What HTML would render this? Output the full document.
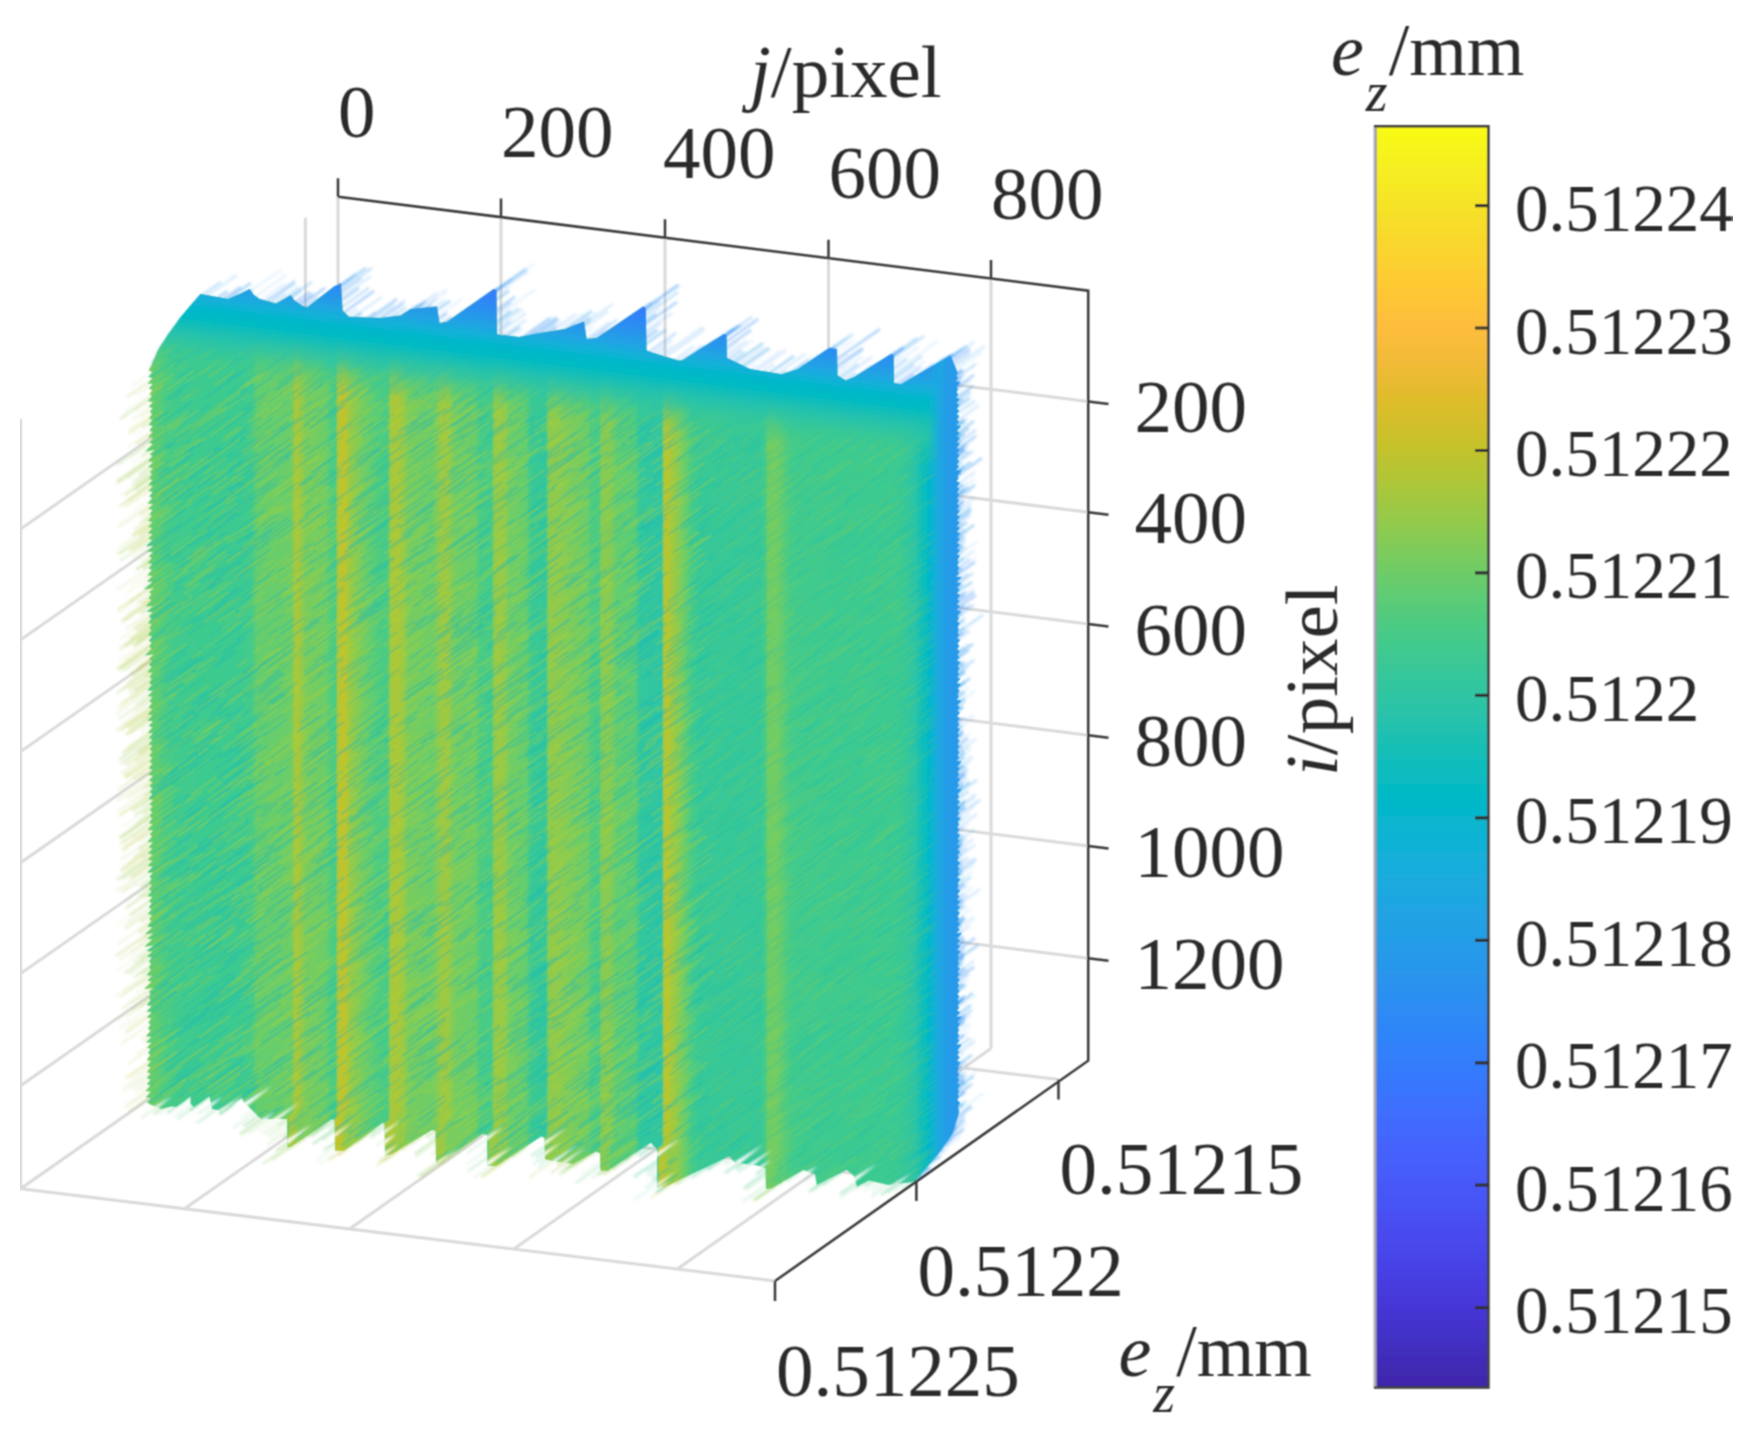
<!DOCTYPE html><html><head><meta charset="utf-8"><title>ez surface</title><style>html,body{margin:0;padding:0;background:#fff}svg{display:block}</style></head><body><svg width="1746" height="1430" viewBox="0 0 1746 1430"><defs><linearGradient id="cb" x1="0" y1="0" x2="0" y2="1"><stop offset="0.0000" stop-color="#f9fb15"/><stop offset="0.0312" stop-color="#f6ef20"/><stop offset="0.0625" stop-color="#f5e327"/><stop offset="0.0938" stop-color="#f9d62d"/><stop offset="0.1250" stop-color="#feca33"/><stop offset="0.1562" stop-color="#febe3c"/><stop offset="0.1875" stop-color="#f1ba37"/><stop offset="0.2188" stop-color="#debc2a"/><stop offset="0.2500" stop-color="#c8c129"/><stop offset="0.2812" stop-color="#afc637"/><stop offset="0.3125" stop-color="#94ca4a"/><stop offset="0.3438" stop-color="#77cc60"/><stop offset="0.3750" stop-color="#5ccc76"/><stop offset="0.4062" stop-color="#44ca8a"/><stop offset="0.4375" stop-color="#34c79c"/><stop offset="0.4688" stop-color="#28c2ab"/><stop offset="0.5000" stop-color="#12beb9"/><stop offset="0.5312" stop-color="#01b9c6"/><stop offset="0.5625" stop-color="#0cb3d3"/><stop offset="0.5938" stop-color="#1aacdd"/><stop offset="0.6250" stop-color="#21a3e3"/><stop offset="0.6562" stop-color="#269ae9"/><stop offset="0.6875" stop-color="#2c90f0"/><stop offset="0.7188" stop-color="#2e85f8"/><stop offset="0.7500" stop-color="#347afd"/><stop offset="0.7812" stop-color="#3f6efe"/><stop offset="0.8125" stop-color="#4562fc"/><stop offset="0.8438" stop-color="#4757f7"/><stop offset="0.8750" stop-color="#484cef"/><stop offset="0.9062" stop-color="#4741e5"/><stop offset="0.9375" stop-color="#4536d5"/><stop offset="0.9688" stop-color="#422ebf"/><stop offset="1.0000" stop-color="#3e26a8"/></linearGradient><clipPath id="sc"><polygon points="151.0,366.0 158.0,350.0 167.0,336.0 180.0,318.0 190.0,306.0 200.5,294.0 228.0,299.0 240.8,293.5 249.6,289.0 254.0,295.0 259.7,299.0 276.0,303.5 291.0,295.0 294.0,300.0 302.5,306.0 307.6,307.0 334.0,286.5 341.0,283.0 342.6,310.4 349.0,316.7 380.4,318.0 400.6,315.4 410.6,309.0 437.0,306.6 439.6,323.0 447.0,321.7 493.8,289.0 496.5,290.0 497.0,334.3 519.0,336.9 540.0,333.0 565.0,329.0 584.0,321.6 586.6,339.0 596.7,338.0 643.3,306.5 645.8,308.0 646.5,350.6 653.4,353.0 678.6,360.6 682.0,360.6 724.0,334.0 726.5,335.0 727.0,358.0 750.0,369.0 760.0,370.7 781.5,374.3 798.0,369.0 829.4,347.8 837.0,349.0 837.5,375.5 845.8,380.6 854.6,376.8 891.0,354.0 893.6,355.0 894.0,383.0 901.0,384.3 950.4,355.4 956.6,370.5 956.0,370.5 957.7,372.5 956.0,376.0 958.0,377.8 955.2,381.5 960.0,382.1 956.5,387.0 957.6,389.2 956.4,392.5 958.2,394.5 955.9,398.0 959.5,399.1 956.1,403.5 959.3,404.8 956.4,409.0 959.1,410.5 956.5,414.5 959.2,416.0 956.7,420.0 959.1,421.7 955.8,425.6 960.8,426.1 956.5,431.2 959.5,432.6 956.4,436.8 959.7,438.1 956.5,442.4 959.7,443.7 956.6,448.0 959.5,449.5 956.6,453.6 959.5,455.1 956.9,459.2 959.0,461.0 956.8,464.8 959.0,466.6 955.6,470.4 961.5,470.5 957.1,476.0 958.5,478.1 956.4,481.6 960.0,482.8 956.7,487.2 959.4,488.8 956.8,492.8 959.2,494.5 957.0,498.4 958.9,500.3 956.8,504.0 959.4,505.6 956.7,509.6 959.5,511.1 956.6,515.2 959.8,516.5 956.8,520.8 959.5,522.3 956.6,526.4 959.9,527.7 956.6,532.0 959.9,533.3 956.8,537.6 959.6,539.1 956.7,543.2 959.8,544.5 956.7,548.8 959.9,550.1 956.7,554.4 959.9,555.7 957.3,560.0 958.6,562.2 957.1,565.6 959.2,567.4 957.2,571.2 959.0,573.2 955.8,576.8 961.7,576.9 956.2,582.4 960.9,583.0 956.8,588.0 959.7,589.5 956.7,593.6 960.0,594.9 957.0,599.2 959.4,600.9 956.7,604.8 960.1,606.1 956.3,610.4 960.9,611.1 957.3,616.0 958.9,618.1 957.0,621.6 959.6,623.2 957.5,627.2 958.7,629.5 957.3,632.8 959.1,634.7 956.8,638.4 960.1,639.7 957.2,644.0 959.4,645.8 957.0,649.6 959.7,651.2 957.1,655.2 959.6,656.9 956.8,660.8 960.2,662.0 957.2,666.4 959.4,668.2 957.4,672.0 959.1,674.0 956.8,677.6 960.3,678.8 956.5,683.2 960.9,684.0 957.3,688.8 959.4,690.6 957.6,694.4 958.7,696.7 956.4,700.0 961.2,700.6 957.1,705.6 959.8,707.1 957.1,711.1 959.9,712.6 957.0,716.7 959.9,718.1 957.3,722.2 959.4,724.1 957.1,727.8 959.9,729.3 957.4,733.3 959.1,735.3 957.1,738.9 959.7,740.5 957.3,744.4 959.3,746.3 957.3,750.0 959.3,751.9 957.4,755.6 959.2,757.5 956.2,761.1 961.6,761.4 957.2,766.7 959.7,768.3 957.4,772.2 959.2,774.1 957.0,777.8 960.1,779.1 957.5,783.3 959.0,785.4 956.3,788.9 961.4,789.3 957.4,794.4 959.3,796.4 956.9,800.0 960.1,801.3 956.9,805.6 960.2,806.9 957.4,811.1 959.3,813.0 956.9,816.7 960.2,817.9 957.5,822.2 959.1,824.2 957.2,827.8 959.6,829.4 957.0,833.3 960.1,834.7 957.5,838.9 959.0,841.0 957.0,844.4 960.1,845.8 957.0,850.0 960.1,851.4 957.5,855.6 958.9,857.7 957.0,861.1 960.1,862.5 957.3,866.7 959.3,868.5 957.3,872.2 959.4,874.0 956.9,877.8 960.3,879.0 957.6,883.3 958.7,885.6 956.9,888.9 960.2,890.2 957.3,894.4 959.4,896.2 956.9,900.0 960.3,901.2 957.0,905.6 960.0,907.0 957.1,911.1 959.8,912.6 957.4,916.7 959.2,918.6 957.0,922.2 960.0,923.6 957.1,927.8 959.7,929.4 956.1,933.3 961.7,933.5 956.9,938.9 960.2,940.1 956.9,944.4 960.3,945.7 956.9,950.0 960.2,951.2 957.6,955.6 958.7,957.8 957.5,961.1 959.0,963.2 957.1,966.7 959.8,968.2 957.3,972.2 959.4,974.0 957.1,977.8 959.7,979.4 957.4,983.3 959.1,985.3 957.2,988.9 959.5,990.6 957.3,994.4 959.3,996.3 957.2,1000.0 959.6,1001.7 957.5,1005.6 959.0,1007.6 956.9,1011.1 960.3,1012.3 956.1,1016.7 961.8,1016.8 957.1,1022.2 959.8,1023.8 957.6,1027.8 958.8,1030.0 957.4,1033.3 959.2,1035.3 957.3,1038.9 959.4,1040.7 956.2,1044.4 961.6,1044.7 957.6,1050.0 958.8,1052.2 957.2,1055.6 959.7,1057.2 956.8,1061.1 960.4,1062.3 957.6,1066.7 958.9,1068.8 957.4,1072.2 959.3,1074.1 957.3,1077.8 959.3,1079.7 957.1,1083.3 959.7,1084.9 957.5,1088.9 959.0,1091.0 957.5,1094.4 958.9,1096.6 957.0,1100.0 959.9,1102.4 957.7,1107.5 959.0,1110.7 958.3,1115.0 952.3,1134.0 937.4,1155.0 915.0,1181.0 912.0,1182.0 888.3,1185.0 869.0,1180.4 857.0,1186.4 854.0,1176.0 846.6,1170.0 816.8,1185.0 815.0,1174.5 803.4,1170.0 772.0,1188.0 766.0,1189.0 765.5,1168.0 757.0,1165.5 735.0,1162.5 729.0,1156.6 662.4,1188.0 657.3,1188.0 657.0,1150.0 651.0,1142.8 608.0,1170.6 600.6,1170.6 600.0,1153.0 595.6,1151.7 573.0,1164.0 549.0,1160.0 545.0,1159.0 544.5,1138.0 541.4,1136.5 496.4,1165.7 487.6,1165.7 487.0,1135.0 482.5,1134.0 441.0,1162.0 436.0,1163.0 435.5,1131.0 432.0,1130.0 391.8,1154.0 385.0,1155.6 384.5,1124.0 383.0,1122.8 344.0,1150.6 335.0,1150.6 334.5,1120.0 331.6,1119.2 290.0,1147.0 287.5,1147.0 287.0,1119.0 285.0,1119.0 261.0,1119.0 252.0,1110.0 243.4,1101.6 242.0,1097.8 226.0,1109.5 220.7,1110.4 212.0,1109.0 209.4,1096.5 194.0,1107.0 190.5,1104.0 190.5,1096.5 176.0,1107.0 171.6,1106.6 161.5,1109.0 149.0,1104.0 150.1,1104.0 146.8,1102.5 150.8,1097.9 145.7,1097.2 150.8,1091.8 145.7,1091.1 150.4,1085.6 146.8,1084.2 150.5,1079.5 146.6,1078.3 150.5,1073.4 146.9,1072.0 150.6,1067.3 146.9,1065.9 150.8,1061.2 146.7,1060.0 150.2,1055.1 148.1,1053.0 150.7,1048.9 147.1,1047.5 151.5,1042.8 145.8,1042.4 151.5,1036.7 145.9,1036.2 150.7,1030.6 147.8,1028.9 150.5,1024.5 148.2,1022.5 151.4,1018.4 146.8,1017.4 151.6,1012.2 146.5,1011.5 151.6,1006.1 146.7,1005.3 150.7,1000.0 148.5,998.0 150.7,993.9 148.8,991.7 153.1,987.9 144.0,989.0 151.4,981.8 147.5,980.6 152.0,975.8 146.5,975.2 150.9,969.7 149.0,967.5 151.0,963.6 148.7,961.7 151.9,957.6 147.2,956.7 152.3,951.5 146.5,951.1 153.5,945.5 144.2,946.7 152.1,939.4 147.1,938.7 153.4,933.3 144.7,934.3 152.2,927.3 147.2,926.5 151.3,921.2 149.2,919.1 152.0,915.2 147.9,914.0 151.6,909.1 148.8,907.4 151.7,903.0 148.8,901.3 152.4,897.0 147.5,896.2 151.9,890.9 148.6,889.4 152.0,884.8 148.7,883.3 151.6,878.8 149.5,876.7 152.9,872.7 147.0,872.4 152.6,866.7 147.7,865.9 152.6,860.6 147.9,859.7 152.6,854.5 148.0,853.6 152.4,848.5 148.6,847.2 153.0,842.4 147.5,841.9 152.0,836.4 149.8,834.3 153.2,830.3 147.5,829.9 152.5,824.2 148.9,822.9 152.2,818.2 149.6,816.3 152.3,812.1 149.7,810.3 152.5,806.1 149.4,804.5 153.1,800.0 148.4,799.1 152.5,793.9 149.4,792.3 152.6,787.9 149.1,786.5 152.8,781.8 148.6,780.7 153.0,775.8 148.1,775.0 152.6,769.7 148.8,768.4 152.2,763.6 149.6,761.8 152.3,757.6 149.2,756.0 152.1,751.5 149.7,749.6 152.5,745.5 148.7,744.2 152.5,739.4 148.7,738.1 152.9,733.3 147.7,732.7 152.4,727.3 148.6,726.0 152.9,721.2 147.5,720.7 152.7,715.2 147.8,714.4 152.3,709.1 148.5,707.8 151.9,703.0 149.2,701.3 152.5,697.0 147.9,696.1 152.7,690.9 147.4,690.3 151.8,684.8 149.2,683.0 151.8,678.8 149.2,676.9 152.7,672.7 147.3,672.2 151.8,666.7 148.9,665.0 151.8,660.6 148.7,659.0 153.7,654.5 144.9,655.5 151.5,648.5 149.3,646.5 151.7,642.4 148.7,640.8 152.1,636.4 147.9,635.3 151.3,630.3 149.4,628.1 151.8,624.2 148.2,622.9 151.5,618.2 148.8,616.4 152.5,612.1 146.7,611.8 153.0,606.1 145.6,606.4 151.5,600.0 148.5,598.4 151.3,594.0 149.0,592.0 154.0,588.0 143.8,589.6 152.5,582.0 146.8,581.6 152.3,576.0 147.3,575.3 151.7,570.0 148.7,568.4 152.3,564.0 147.7,563.1 151.8,558.0 148.8,556.3 152.8,552.0 146.9,551.7 153.3,546.0 146.0,546.3 152.2,540.0 148.3,538.8 152.5,534.0 147.7,533.2 152.4,528.0 148.2,526.9 152.5,522.0 148.0,521.1 151.9,516.0 149.4,514.2 152.6,510.0 148.1,509.1 153.0,504.0 147.3,503.6 152.2,498.0 149.1,496.5 152.7,492.0 148.3,491.0 152.8,486.0 148.2,485.1 152.3,480.0 149.2,478.4 152.0,474.0 149.9,472.0 153.0,468.0 148.1,467.3 153.1,462.0 148.1,461.2 152.4,456.0 149.5,454.3 154.8,450.0 144.9,451.5 152.8,444.0 148.9,442.8 153.1,438.0 148.1,437.3 152.5,432.0 149.3,430.5 152.7,426.0 148.6,424.9 152.4,420.0 149.1,418.5 152.0,414.0 149.8,412.0 152.6,408.0 148.6,406.8 152.9,402.0 147.8,401.3 152.0,396.0 149.5,394.2 152.3,390.0 148.8,388.6 152.8,384.0 147.6,383.4 152.5,378.0 148.2,377.0 152.2,372.0 148.7,370.6"/></clipPath><clipPath id="sb"><polygon points="287.2,1118.0 303.5,1106.6 303.5,1153.0 287.2,1153.0"/><polygon points="334.7,1119.0 351.0,1107.6 351.0,1156.6 334.7,1156.6"/><polygon points="384.7,1123.0 401.0,1111.6 401.0,1161.6 384.7,1161.6"/><polygon points="435.7,1130.0 452.0,1118.6 452.0,1169.0 435.7,1169.0"/><polygon points="487.3,1134.0 503.6,1122.6 503.6,1171.7 487.3,1171.7"/><polygon points="544.7,1137.0 561.0,1125.6 561.0,1166.0 544.7,1166.0"/><polygon points="600.3,1152.0 616.6,1140.6 616.6,1176.6 600.3,1176.6"/><polygon points="657.0,1149.0 673.3,1137.6 673.3,1194.0 657.0,1194.0"/><polygon points="765.7,1167.0 782.0,1155.6 782.0,1195.0 765.7,1195.0"/></clipPath><filter id="bl" x="-5%" y="-5%" width="110%" height="110%"><feGaussianBlur stdDeviation="0.5"/></filter><filter id="bf" x="-5%" y="-5%" width="110%" height="110%"><feGaussianBlur stdDeviation="1.0"/></filter><linearGradient id="gs" gradientUnits="userSpaceOnUse" x1="150" y1="0" x2="960" y2="0"><stop offset="0.0000" stop-color="#64cd6f"/><stop offset="0.0099" stop-color="#5dcc75"/><stop offset="0.0198" stop-color="#4acb84"/><stop offset="0.0370" stop-color="#3fca8e"/><stop offset="0.1111" stop-color="#3dca90"/><stop offset="0.1259" stop-color="#45cb89"/><stop offset="0.1321" stop-color="#64cd6f"/><stop offset="0.1728" stop-color="#6bcd69"/><stop offset="0.1772" stop-color="#81cc59"/><stop offset="0.1790" stop-color="#afc636"/><stop offset="0.1840" stop-color="#a2c840"/><stop offset="0.1889" stop-color="#8bcb51"/><stop offset="0.1932" stop-color="#79cc5e"/><stop offset="0.2173" stop-color="#6bcd69"/><stop offset="0.2222" stop-color="#50cc7f"/><stop offset="0.2296" stop-color="#4acb84"/><stop offset="0.2321" stop-color="#b9c431"/><stop offset="0.2420" stop-color="#bfc32d"/><stop offset="0.2457" stop-color="#9dc943"/><stop offset="0.2543" stop-color="#88cb53"/><stop offset="0.2667" stop-color="#6bcd69"/><stop offset="0.2815" stop-color="#50cc7f"/><stop offset="0.2938" stop-color="#48cb86"/><stop offset="0.2969" stop-color="#a4c83e"/><stop offset="0.3062" stop-color="#abc739"/><stop offset="0.3136" stop-color="#96ca48"/><stop offset="0.3185" stop-color="#79cc5e"/><stop offset="0.3481" stop-color="#6bcd69"/><stop offset="0.3543" stop-color="#81cc59"/><stop offset="0.3593" stop-color="#9bc945"/><stop offset="0.3679" stop-color="#9dc943"/><stop offset="0.3728" stop-color="#81cc59"/><stop offset="0.3778" stop-color="#72cd64"/><stop offset="0.4012" stop-color="#6bcd69"/><stop offset="0.4074" stop-color="#4acb84"/><stop offset="0.4222" stop-color="#45cb89"/><stop offset="0.4247" stop-color="#92ca4b"/><stop offset="0.4296" stop-color="#9bc945"/><stop offset="0.4395" stop-color="#8fcb4e"/><stop offset="0.4432" stop-color="#72cd64"/><stop offset="0.4642" stop-color="#64cd6f"/><stop offset="0.4704" stop-color="#3bc992"/><stop offset="0.4889" stop-color="#34c79b"/><stop offset="0.4920" stop-color="#88cb53"/><stop offset="0.4975" stop-color="#92ca4b"/><stop offset="0.5062" stop-color="#8ccb50"/><stop offset="0.5148" stop-color="#81cc59"/><stop offset="0.5235" stop-color="#79cc5e"/><stop offset="0.5407" stop-color="#6bcd69"/><stop offset="0.5444" stop-color="#50cc7f"/><stop offset="0.5543" stop-color="#4acb84"/><stop offset="0.5574" stop-color="#85cb55"/><stop offset="0.5654" stop-color="#89cb52"/><stop offset="0.5716" stop-color="#79cc5e"/><stop offset="0.5753" stop-color="#64cd6f"/><stop offset="0.5988" stop-color="#57cc7a"/><stop offset="0.6049" stop-color="#34c79b"/><stop offset="0.6321" stop-color="#2fc5a3"/><stop offset="0.6346" stop-color="#b2c635"/><stop offset="0.6383" stop-color="#b9c431"/><stop offset="0.6444" stop-color="#a4c83e"/><stop offset="0.6543" stop-color="#81cc59"/><stop offset="0.6617" stop-color="#64cd6f"/><stop offset="0.6691" stop-color="#45cb89"/><stop offset="0.6790" stop-color="#37c897"/><stop offset="0.7531" stop-color="#37c897"/><stop offset="0.7593" stop-color="#45cb89"/><stop offset="0.7630" stop-color="#6fcd66"/><stop offset="0.7728" stop-color="#72cd64"/><stop offset="0.7815" stop-color="#5dcc75"/><stop offset="0.7901" stop-color="#45cb89"/><stop offset="0.8025" stop-color="#3fca8e"/><stop offset="0.9198" stop-color="#3dca90"/><stop offset="0.9321" stop-color="#37c897"/><stop offset="0.9444" stop-color="#2cc4a7"/><stop offset="0.9556" stop-color="#0bbdbd"/><stop offset="0.9630" stop-color="#01b8ca"/><stop offset="0.9704" stop-color="#0db3d3"/><stop offset="0.9765" stop-color="#1aabdd"/><stop offset="0.9802" stop-color="#23a0e5"/><stop offset="0.9852" stop-color="#259be8"/><stop offset="1.0000" stop-color="#2699e9"/></linearGradient><linearGradient id="gt" gradientUnits="userSpaceOnUse" x1="405.71" y1="273.36" x2="390.08" y2="398.38"><stop offset="0.0000" stop-color="#3578fd" stop-opacity="1"/><stop offset="0.1429" stop-color="#2e87f7" stop-opacity="1"/><stop offset="0.2698" stop-color="#2699e9" stop-opacity="1"/><stop offset="0.3413" stop-color="#20a5e3" stop-opacity="1"/><stop offset="0.4048" stop-color="#15afd9" stop-opacity="1"/><stop offset="0.4683" stop-color="#04b6cd" stop-opacity="1"/><stop offset="0.5714" stop-color="#05bbc1" stop-opacity="1"/><stop offset="0.6667" stop-color="#1ec0b2" stop-opacity="0.95"/><stop offset="0.7619" stop-color="#2cc4a7" stop-opacity="0.8"/><stop offset="0.8413" stop-color="#34c79b" stop-opacity="0.5"/><stop offset="0.9206" stop-color="#3bc992" stop-opacity="0.25"/><stop offset="1.0000" stop-color="#3fca8e" stop-opacity="0"/></linearGradient><linearGradient id="gr" gradientUnits="userSpaceOnUse" x1="900" y1="0" x2="960" y2="0"><stop offset="0.0000" stop-color="#18addb" stop-opacity="0"/><stop offset="0.4667" stop-color="#18addb" stop-opacity="0"/><stop offset="0.5667" stop-color="#1aabdd" stop-opacity="0.5"/><stop offset="0.6667" stop-color="#1ea7e1" stop-opacity="1"/><stop offset="0.7333" stop-color="#23a0e5" stop-opacity="1"/><stop offset="0.8000" stop-color="#259be8" stop-opacity="1"/><stop offset="1.0000" stop-color="#2699e9" stop-opacity="1"/></linearGradient><filter id="gb" x="0" y="0" width="100%" height="100%"><feConvolveMatrix order="3" kernelMatrix="1 2 1 2 4 2 1 2 1" divisor="16" edgeMode="duplicate"/></filter></defs><rect width="1746" height="1430" fill="#fff"/><g filter="url(#gb)"><path d="M338.0 196.7L338.0 966.7M501.0 217.1L501.0 987.1M665.0 237.7L665.0 1007.7M828.5 258.2L828.5 1028.2M991.0 278.5L991.0 1048.5M1088.2 401.5L950.0 384.2M1088.2 512.3L338.0 418.3M1088.2 624.0L338.0 530.0M1088.2 735.2L338.0 641.2M1088.2 846.0L338.0 752.0M1088.2 958.2L338.0 864.2M338.0 307.5L20.6 529.0M338.0 418.3L20.6 639.8M338.0 530.0L20.6 751.5M338.0 641.2L20.6 862.7M338.0 752.0L20.6 973.5M338.0 864.2L20.6 1085.7M20.6 418.7L20.6 1188.7M305.4 217.8L305.4 987.8M338.0 966.7L20.6 1188.7M501.0 987.1L184.5 1208.8M665.0 1007.7L349.4 1228.9M828.5 1028.2L513.8 1249.0M991.0 1048.5L677.3 1269.0M775.0 1281.0L20.6 1188.7M916.4 1181.0L163.9 1088.5M1058.5 1079.6L307.9 987.8" fill="none" stroke="#dadada" stroke-width="3.0"/><g fill="none" stroke-width="2.5" filter="url(#bf)"><path d="M151 365l15 -11M175 326l17 -12M246 294l35 -24M338 288l17 -12M488 296l46 -32M505 341l18 -12M551 336l33 -23M571 331l26 -18M602 338l11 -8M613 330l18 -13M626 321l30 -21M782 379l11 -8M890 364l11 -7M891 374l47 -33M938 366l23 -16M952 373l30 -21M954 429l14 -10M954 433l11 -8M954 494l21 -15M954 671l13 -9M954 680l10 -8M954 732l21 -15M954 745l16 -12M954 761l17 -12M954 767l17 -12M954 815l11 -8M954 879l20 -14M954 885l18 -13M954 921l17 -12M954 1010l22 -15M954 1029l11 -8M954 1033l16 -11M954 1036l16 -11M954 1114l30 -21" stroke="#259be8" stroke-opacity="0.1"/><path d="M155 355l23 -16M201 300l36 -25M243 296l10 -7M338 299l33 -23M346 322l36 -25M367 323l28 -19M494 336l32 -23M494 340l11 -8M581 330l27 -19M635 316l45 -31M656 360l47 -33M704 350l20 -14M734 368l30 -21M812 363l25 -18M834 371l29 -21M851 382l28 -20M951 370l34 -24M953 393l17 -12M954 542l13 -10M954 565l20 -14M954 626l9 -6M954 677l15 -11M954 764l10 -7M954 770l19 -13M954 773l16 -12M954 786l13 -9M954 809l22 -15M954 825l16 -11M954 844l21 -15M954 850l9 -7M954 866l13 -9M954 895l14 -10M954 911l9 -6M954 1055l21 -15" stroke="#259be8" stroke-opacity="0.18"/><path d="M166 338l15 -11M179 320l12 -8M182 317l21 -15M197 299l24 -17M273 309l29 -21M276 307l36 -25M310 308l22 -15M384 322l22 -15M494 326l25 -18M581 327l10 -7M724 363l18 -13M727 365l18 -13M820 357l33 -23M890 360l34 -24M891 378l31 -22M909 383l23 -16M953 416l22 -15M955 519l6 -4M955 589l6 -4M955 625l10 -7M954 635l29 -20M955 676l10 -7M954 713l9 -6M955 763l9 -6M954 796l23 -16M955 795l6 -4M954 802l15 -11M955 801l9 -6M955 824l7 -5M955 865l7 -5M955 884l9 -6M954 889l17 -12M954 914l12 -8M954 969l9 -7M955 1054l6 -4M955 1067l8 -6M954 1110l12 -9M951 1128l13 -9M946 1140l9 -7M939 1150l9 -7M915 1179l16 -11" stroke="#259be8" stroke-opacity="0.27"/><path d="M192 305l9 -6M221 304l30 -21M299 311l19 -13M401 319l22 -15M469 310l15 -11M482 300l17 -12M493 302l16 -11M494 323l17 -12M540 338l16 -11M558 335l34 -24M599 340l26 -18M643 323l13 -9M643 346l23 -16M684 362l23 -16M730 366l33 -23M798 372l16 -11M847 384l26 -18M936 368l31 -22M944 362l20 -14M954 439l15 -11M954 474l17 -12M954 520l17 -12M955 541l6 -4M955 564l9 -6M954 590l9 -6M954 594l18 -12M955 634l9 -6M954 658l19 -14M955 670l9 -6M954 690l16 -12M954 700l11 -8M955 760l10 -7M955 769l6 -4M954 793l16 -11M954 841l9 -6M955 840l7 -4M955 878l7 -5M955 910l7 -5M954 994l12 -9M954 1017l17 -12M954 1068l18 -13M954 1090l20 -14M913 1181l9 -6" stroke="#259be8" stroke-opacity="0.38"/><path d="M955 428l10 -7M955 438l6 -4M955 473l9 -6M955 679l10 -7M955 689l10 -7M955 712l8 -5M955 731l7 -5M955 772l9 -6M955 792l8 -6M955 808l10 -7M955 814l10 -7M955 843l6 -4M955 849l7 -5M955 968l6 -4M955 1028l9 -6M955 1089l10 -7M955 1110l8 -6M914 1180l7 -5" stroke="#259be8" stroke-opacity="0.5"/><path d="M251 300l35 -25M353 322l10 -7M370 323l23 -16M394 321l23 -16M471 308l12 -8M493 299l17 -12M582 334l11 -7M778 380l33 -23M788 376l31 -22M795 374l16 -12M834 364l14 -10M834 377l29 -21" stroke="#2797eb" stroke-opacity="0.1"/><path d="M214 302l14 -10M266 307l19 -13M391 322l15 -10M404 316l33 -23M417 313l20 -14M427 313l18 -13M440 328l29 -20M466 312l22 -16M494 329l29 -20M523 341l14 -10M533 339l23 -16M578 328l35 -24M583 341l27 -19M647 357l25 -17M650 358l15 -10M660 361l45 -32M669 364l25 -18M682 364l31 -22M701 352l32 -23M771 378l34 -24M924 374l29 -20" stroke="#2797eb" stroke-opacity="0.18"/><path d="M172 329l8 -5M263 306l32 -23M282 304l19 -13M320 300l17 -12M530 340l29 -21M593 343l15 -10M643 313l17 -12M643 317l35 -25M785 377l24 -17M834 381l24 -17M885 361l32 -23" stroke="#2797eb" stroke-opacity="0.27"/><path d="M160 347l15 -11M323 298l43 -30M349 322l12 -9M421 313l11 -8M434 312l16 -11M491 294l35 -25M501 340l19 -13M615 328l29 -20M696 355l17 -12M698 353l18 -13M707 348l31 -22M737 370l32 -22M764 377l30 -21M823 355l11 -8M898 390l10 -7" stroke="#2797eb" stroke-opacity="0.38"/><path d="M954 468l9 -6M954 491l12 -8M954 558l23 -16M954 668l12 -8M954 697l15 -10M954 706l21 -15M954 751l12 -9M954 837l13 -9M954 901l19 -14M954 924l9 -6M954 930l20 -14M954 988l10 -7M954 991l15 -11M954 1020l17 -12M954 1061l10 -8M954 1077l14 -10M948 1137l18 -13M935 1155l25 -18" stroke="#2994ed" stroke-opacity="0.1"/><path d="M953 406l18 -13M954 487l21 -15M954 507l10 -7M954 516l17 -12M954 613l11 -8M954 629l11 -8M954 738l9 -6M954 754l22 -15M954 757l16 -11M954 799l9 -7M954 812l21 -15M954 860l21 -15M954 873l21 -15M954 946l11 -8M954 1081l12 -9M954 1093l13 -9M949 1134l14 -10" stroke="#2994ed" stroke-opacity="0.18"/><path d="M953 380l23 -16M954 379l10 -7M953 387l8 -6M953 403l17 -12M954 458l11 -8M954 462l15 -11M954 465l19 -14M955 464l10 -7M955 467l6 -4M955 506l9 -6M954 549l11 -8M955 548l8 -6M954 552l9 -7M954 555l12 -8M955 557l8 -6M954 587l19 -14M955 586l8 -6M955 599l7 -5M955 612l9 -6M955 696l7 -5M954 709l11 -8M955 756l9 -6M954 777l13 -10M954 780l14 -10M955 811l9 -7M954 847l12 -9M954 857l13 -9M955 856l6 -4M955 872l8 -5M954 876l22 -16M955 900l9 -6M955 964l8 -6M954 978l13 -9M954 1004l11 -8M955 1076l7 -5M955 1092l6 -4M954 1118l17 -12M930 1162l8 -5M924 1168l17 -12M925 1167l6 -4M920 1174l9 -7" stroke="#2994ed" stroke-opacity="0.27"/><path d="M954 386l6 -4M953 400l20 -14M954 406l9 -7M953 410l17 -12M954 409l6 -4M954 436l20 -15M955 435l6 -4M954 442l8 -6M955 441l10 -7M955 457l10 -7M954 497l14 -10M954 500l21 -15M955 499l6 -4M954 523l17 -12M955 522l9 -6M954 529l8 -6M954 539l20 -14M954 600l12 -8M954 661l15 -11M955 660l7 -5M955 705l10 -7M955 779l9 -6M955 846l7 -5M955 859l7 -5M954 927l11 -8M954 962l24 -17M954 965l10 -7M955 977l6 -4M954 1007l19 -14M954 1097l18 -13M929 1163l9 -7" stroke="#2994ed" stroke-opacity="0.38"/><path d="M955 490l8 -5M955 496l9 -6M955 538l6 -4M955 551l7 -5M955 667l7 -5M955 737l8 -6M955 750l7 -4M955 875l7 -5M955 923l9 -6M955 926l7 -5M955 929l6 -4M955 961l9 -6M955 990l8 -6M955 1003l9 -6M955 1006l8 -6M955 1080l7 -5M950 1133l6 -4M936 1154l7 -5M921 1173l8 -6" stroke="#2994ed" stroke-opacity="0.5"/><path d="M157 352l16 -11M256 304l29 -21M318 302l33 -23M328 294l10 -7M446 325l33 -23M449 323l25 -18M477 304l29 -21M493 319l43 -30M537 338l24 -17M653 359l20 -14M724 353l15 -11M747 374l33 -23M800 370l45 -31M826 353l23 -16M890 367l28 -20M891 385l34 -24" stroke="#2c8ff1" stroke-opacity="0.1"/><path d="M162 344l14 -10M269 308l30 -21M304 312l35 -24M325 296l31 -22M343 319l14 -10M497 340l29 -20M519 342l36 -25M643 333l29 -20M757 376l17 -12M921 376l28 -20M947 361l27 -19" stroke="#2c8ff1" stroke-opacity="0.18"/><path d="M168 335l8 -6M211 302l16 -11M338 292l34 -24M338 295l24 -17M339 309l30 -21M474 306l38 -27M485 298l13 -9M494 333l17 -12M590 344l23 -16M632 317l20 -14M715 343l20 -14M721 339l31 -22M775 379l11 -8M840 384l16 -11M882 363l13 -9M890 371l17 -12M891 381l23 -16M915 379l30 -21M918 378l33 -23M930 371l12 -9M950 367l20 -14" stroke="#2c8ff1" stroke-opacity="0.27"/><path d="M296 309l29 -21M339 302l20 -14M363 323l34 -24M397 321l22 -16M407 314l19 -13M436 328l16 -11M493 312l22 -15M516 342l34 -24M643 326l34 -24M710 346l25 -17M723 350l28 -20M809 365l13 -9M834 361l46 -32M901 388l23 -16" stroke="#2c8ff1" stroke-opacity="0.38"/><path d="M954 503l18 -13M954 510l18 -13M954 513l21 -15M954 574l22 -16M954 581l9 -7M954 603l20 -15M954 729l19 -14M954 789l14 -10M954 821l21 -15M954 834l15 -10M954 933l21 -15M954 1042l15 -11M954 1058l20 -15M954 1087l23 -16M954 1100l13 -9M943 1145l19 -13M931 1161l17 -12" stroke="#2d8cf3" stroke-opacity="0.1"/><path d="M954 423l25 -18M954 426l12 -8M954 642l16 -11M954 655l15 -11M954 725l11 -8M954 831l23 -17M954 853l19 -14M954 869l15 -10M954 892l11 -8M954 905l14 -10M954 908l26 -19M954 937l16 -11M954 943l9 -7M954 949l12 -9M954 959l10 -7M954 975l20 -14M954 1026l16 -11M954 1071l13 -9M941 1148l12 -9" stroke="#2d8cf3" stroke-opacity="0.18"/><path d="M953 377l10 -7M953 383l11 -8M954 389l6 -4M955 425l8 -5M954 446l22 -16M955 451l10 -7M954 455l14 -10M955 502l6 -4M954 526l16 -11M954 536l10 -7M954 571l16 -12M954 584l14 -10M955 602l10 -7M954 616l16 -11M955 615l7 -5M954 619l20 -14M954 639l13 -9M955 654l9 -6M954 674l20 -14M955 782l8 -6M954 818l26 -18M955 833l8 -6M955 907l9 -6M955 936l7 -5M954 956l11 -8M954 985l15 -11M955 984l9 -6M954 1023l18 -13M954 1049l16 -11M954 1084l12 -9M953 1121l19 -14M952 1124l13 -9M950 1131l15 -11M944 1144l7 -5M942 1146l6 -4" stroke="#2d8cf3" stroke-opacity="0.27"/><path d="M954 382l7 -5M953 390l21 -15M954 452l22 -16M954 478l28 -20M955 509l8 -6M954 532l13 -10M955 531l5 -4M954 545l11 -8M955 544l6 -4M954 577l21 -15M954 606l20 -14M954 610l22 -15M955 618l7 -5M955 638l8 -5M955 724l7 -5M954 741l9 -7M955 740l6 -4M954 748l14 -10M955 747l9 -6M954 783l12 -9M955 788l8 -6M955 820l6 -4M955 852l6 -4M955 868l7 -4M955 891l9 -7M955 942l8 -5M954 953l21 -15M955 955l6 -4M955 958l8 -5M955 974l9 -6M954 981l20 -14M955 1022l10 -7M955 1070l6 -4M945 1142l19 -13M946 1141l6 -4" stroke="#2d8cf3" stroke-opacity="0.38"/><path d="M954 376l8 -6M955 445l6 -4M955 454l9 -6M955 477l6 -4M955 512l6 -4M955 573l7 -5M955 904l7 -5M955 948l9 -7M955 1025l10 -7M955 1041l9 -6M955 1086l9 -7M955 1099l10 -7M951 1130l6 -4" stroke="#2d8cf3" stroke-opacity="0.5"/><path d="M148 371l10 -7M149 368l8 -6M158 350l17 -12M177 323l22 -15M231 302l14 -10M331 292l25 -18M334 290l23 -16M411 314l36 -25M414 314l33 -23M435 318l27 -19M457 317l13 -9M463 314l29 -21M604 336l47 -33M610 332l28 -20M643 320l18 -12M643 343l18 -13M672 365l17 -12M724 360l29 -20M740 371l31 -22M743 373l12 -8M818 359l28 -19M834 354l20 -14M834 374l13 -9M865 373l30 -21M871 370l26 -19" stroke="#2e87f7" stroke-opacity="0.1"/><path d="M225 304l13 -9M315 304l10 -7M377 323l26 -19M387 322l11 -8M480 302l23 -16M493 295l35 -24M544 337l32 -23M624 323l19 -13M643 336l18 -13M679 366l11 -8M693 357l24 -17M724 357l23 -16M750 375l36 -25M837 382l35 -25M854 380l18 -13M927 373l35 -24" stroke="#2e87f7" stroke-opacity="0.18"/><path d="M260 305l35 -24M360 323l16 -11M374 323l31 -22M493 316l18 -13M568 332l21 -15M583 344l34 -24M587 344l19 -14M643 356l33 -23M675 366l28 -20M791 375l14 -10M879 365l24 -17M891 388l30 -21M906 384l28 -20M933 369l21 -15" stroke="#2e87f7" stroke-opacity="0.27"/><path d="M152 362l9 -6M218 303l23 -16M291 305l19 -13M294 307l19 -13M339 316l35 -25M435 322l12 -9M460 315l28 -19M526 340l31 -22M562 334l13 -9M637 314l41 -29M643 340l14 -10M718 341l23 -16M723 344l35 -25M834 368l29 -20M874 368l30 -21M894 389l20 -14M948 364l22 -15" stroke="#2e87f7" stroke-opacity="0.38"/><path d="M669 1184l-12 8" stroke="#37c897" stroke-opacity="0.34"/><path d="M665 1186l-10 7" stroke="#38c896" stroke-opacity="0.24"/><path d="M660 1182l-26 18M660 1148l-17 12" stroke="#3ac993" stroke-opacity="0.1"/><path d="M660 1178l-15 10M660 1171l-9 6M660 1167l-13 9" stroke="#3ac993" stroke-opacity="0.16"/><path d="M660 1163l-13 9" stroke="#3ac993" stroke-opacity="0.24"/><path d="M660 1175l-7 5M660 1159l-26 18" stroke="#3ac993" stroke-opacity="0.34"/><path d="M657 1144l-18 12" stroke="#3bc992" stroke-opacity="0.34"/><path d="M654 1141l-11 8" stroke="#3cc991" stroke-opacity="0.16"/><path d="M915 1180l-12 8" stroke="#3eca8f" stroke-opacity="0.24"/><path d="M648 1145l-13 9" stroke="#3fca8e" stroke-opacity="0.34"/><path d="M552 1158l-14 10" stroke="#40ca8d" stroke-opacity="0.16"/><path d="M548 1157l-9 6M548 1153l-15 11" stroke="#43ca8b" stroke-opacity="0.16"/><path d="M548 1149l-12 8M548 1144l-17 12" stroke="#43ca8b" stroke-opacity="0.24"/><path d="M911 1180l-18 13" stroke="#45cb88" stroke-opacity="0.1"/><path d="M735 1158l-11 7M732 1155l-8 6M722 1159l-9 6M712 1164l-18 12" stroke="#45cb89" stroke-opacity="0.16"/><path d="M753 1162l-15 10M725 1158l-17 12M709 1166l-18 12" stroke="#45cb89" stroke-opacity="0.24"/><path d="M745 1162l-9 7M742 1161l-17 12M719 1161l-12 8" stroke="#45cb89" stroke-opacity="0.34"/><path d="M769 1174l-23 16" stroke="#4acb84" stroke-opacity="0.16"/><path d="M769 1170l-25 18" stroke="#4acb84" stroke-opacity="0.34"/><path d="M768 1166l-12 8" stroke="#4acb85" stroke-opacity="0.34"/><path d="M769 1187l-18 12" stroke="#4bcb83" stroke-opacity="0.1"/><path d="M769 1183l-26 18" stroke="#4bcb84" stroke-opacity="0.16"/><path d="M903 1182l-16 11" stroke="#4dcb82" stroke-opacity="0.24"/><path d="M887 1182l-15 11M884 1181l-12 8M245 1096l-12 8M242 1098l-17 12" stroke="#4ecc81" stroke-opacity="0.1"/><path d="M891 1183l-20 14" stroke="#4ecc81" stroke-opacity="0.16"/><path d="M899 1182l-18 13M235 1103l-15 11" stroke="#4ecc81" stroke-opacity="0.34"/><path d="M846 1170l-10 7M215 1107l-9 6M212 1094l-15 10" stroke="#4fcc80" stroke-opacity="0.1"/><path d="M864 1182l-9 6M860 1184l-20 14M214 1103l-16 11" stroke="#4fcc80" stroke-opacity="0.16"/><path d="M219 1108l-22 15" stroke="#4fcc80" stroke-opacity="0.24"/><path d="M859 1181l-19 13" stroke="#4fcc80" stroke-opacity="0.34"/><path d="M880 1180l-16 11" stroke="#4fcc81" stroke-opacity="0.1"/><path d="M872 1178l-10 7M868 1180l-12 8" stroke="#4fcc81" stroke-opacity="0.24"/><path d="M876 1179l-11 7M232 1105l-13 9" stroke="#4fcc81" stroke-opacity="0.34"/><path d="M818 1172l-14 10M814 1171l-9 6M194 1102l-19 14" stroke="#50cc7f" stroke-opacity="0.1"/><path d="M194 1094l-27 19" stroke="#50cc7f" stroke-opacity="0.34"/><path d="M840 1173l-16 11M830 1178l-22 15" stroke="#50cc80" stroke-opacity="0.1"/><path d="M833 1176l-21 15M823 1181l-8 5M206 1099l-16 11" stroke="#50cc80" stroke-opacity="0.16"/><path d="M843 1171l-20 14M826 1180l-17 11M203 1101l-9 6M200 1103l-23 16" stroke="#50cc80" stroke-opacity="0.24"/><path d="M209 1097l-19 13" stroke="#50cc80" stroke-opacity="0.34"/><path d="M806 1168l-19 13" stroke="#51cc7f" stroke-opacity="0.24"/><path d="M186 1100l-9 6" stroke="#51cc7f" stroke-opacity="0.34"/><path d="M255 1108l-14 10" stroke="#54cc7c" stroke-opacity="0.1"/><path d="M258 1111l-25 17" stroke="#56cc7b" stroke-opacity="0.16"/><path d="M495 1164l-21 14" stroke="#59cc78" stroke-opacity="0.1"/><path d="M490 1156l-22 15" stroke="#5bcc76" stroke-opacity="0.24"/><path d="M490 1148l-24 17" stroke="#5ccc76" stroke-opacity="0.1"/><path d="M490 1145l-7 5M490 1137l-23 16" stroke="#5ccc76" stroke-opacity="0.16"/><path d="M342 1149l-22 15" stroke="#5ecc74" stroke-opacity="0.1"/><path d="M603 1160l-22 15" stroke="#5fcd73" stroke-opacity="0.1"/><path d="M604 1169l-12 9" stroke="#5fcd73" stroke-opacity="0.16"/><path d="M603 1164l-27 19" stroke="#5fcd73" stroke-opacity="0.24"/><path d="M603 1151l-9 6" stroke="#60cd72" stroke-opacity="0.1"/><path d="M388 1154l-9 6M388 1138l-12 8" stroke="#61cd71" stroke-opacity="0.1"/><path d="M388 1126l-18 12M388 1122l-17 12" stroke="#61cd71" stroke-opacity="0.24"/><path d="M794 1175l-15 10" stroke="#62cd70" stroke-opacity="0.1"/><path d="M599 1150l-9 6" stroke="#63cd6f" stroke-opacity="0.16"/><path d="M338 1118l-26 18" stroke="#63cd6f" stroke-opacity="0.34"/><path d="M386 1121l-9 6M338 1145l-21 15" stroke="#63cd70" stroke-opacity="0.1"/><path d="M338 1129l-16 11M338 1122l-9 7" stroke="#63cd70" stroke-opacity="0.24"/><path d="M338 1141l-14 9M338 1126l-25 18" stroke="#63cd70" stroke-opacity="0.34"/><path d="M261 1114l-17 12" stroke="#64cd6f" stroke-opacity="0.34"/><path d="M170 1106l-11 8" stroke="#66cd6d" stroke-opacity="0.1"/><path d="M383 1123l-16 11" stroke="#68cd6b" stroke-opacity="0.1"/><path d="M642 1149l-23 16" stroke="#6bcd69" stroke-opacity="0.1"/><path d="M695 1172l-17 12" stroke="#6bcd69" stroke-opacity="0.16"/><path d="M639 1151l-14 10" stroke="#6dcd67" stroke-opacity="0.1"/><path d="M791 1177l-12 8" stroke="#6fcd66" stroke-opacity="0.1"/><path d="M636 1153l-23 16" stroke="#6fcd66" stroke-opacity="0.16"/><path d="M164 1107l-10 7" stroke="#72cd63" stroke-opacity="0.34"/><path d="M632 1155l-7 5" stroke="#72cd64" stroke-opacity="0.24"/><path d="M629 1157l-17 12" stroke="#74cc62" stroke-opacity="0.34"/><path d="M335 1117l-27 19" stroke="#75cc61" stroke-opacity="0.24"/><path d="M160 1105l-19 13" stroke="#76cc60" stroke-opacity="0.16"/><path d="M377 1127l-12 8" stroke="#77cc60" stroke-opacity="0.24"/><path d="M264 1117l-24 17" stroke="#79cc5e" stroke-opacity="0.34"/><path d="M532 1143l-16 11" stroke="#7acc5d" stroke-opacity="0.1"/><path d="M268 1117l-27 19" stroke="#7acc5e" stroke-opacity="0.1"/><path d="M272 1117l-24 17" stroke="#7bcc5d" stroke-opacity="0.16"/><path d="M528 1145l-16 11" stroke="#7dcc5b" stroke-opacity="0.24"/><path d="M595 1151l-16 11" stroke="#7dcc5b" stroke-opacity="0.34"/><path d="M280 1117l-21 15" stroke="#7dcc5c" stroke-opacity="0.1"/><path d="M607 1169l-9 6" stroke="#7dcc5c" stroke-opacity="0.34"/><path d="M482 1134l-27 19" stroke="#7ecc5a" stroke-opacity="0.16"/><path d="M374 1129l-26 18" stroke="#7ecc5b" stroke-opacity="0.34"/><path d="M290 1125l-20 14" stroke="#7fcc5a" stroke-opacity="0.1"/><path d="M290 1129l-23 16M290 1121l-22 15M288 1117l-24 17" stroke="#7fcc5a" stroke-opacity="0.16"/><path d="M290 1145l-27 19M290 1117l-12 9" stroke="#7fcc5a" stroke-opacity="0.24"/><path d="M290 1141l-14 10M290 1133l-7 5" stroke="#7fcc5a" stroke-opacity="0.34"/><path d="M525 1147l-14 10" stroke="#80cc59" stroke-opacity="0.34"/><path d="M439 1161l-22 15M439 1149l-8 6M439 1141l-24 16M439 1133l-10 7" stroke="#81cc59" stroke-opacity="0.16"/><path d="M439 1137l-24 17M438 1129l-12 8" stroke="#81cc59" stroke-opacity="0.34"/><path d="M331 1119l-15 11" stroke="#82cc58" stroke-opacity="0.16"/><path d="M479 1136l-9 6" stroke="#82cc58" stroke-opacity="0.24"/><path d="M592 1153l-24 16" stroke="#84cc56" stroke-opacity="0.1"/><path d="M328 1121l-10 7" stroke="#84cc56" stroke-opacity="0.16"/><path d="M473 1141l-17 12" stroke="#84cc56" stroke-opacity="0.24"/><path d="M775 1186l-22 15" stroke="#85cb55" stroke-opacity="0.24"/><path d="M371 1131l-15 10" stroke="#86cb54" stroke-opacity="0.34"/><path d="M778 1184l-22 15M519 1151l-21 15" stroke="#86cb55" stroke-opacity="0.16"/><path d="M429 1132l-18 13" stroke="#87cb54" stroke-opacity="0.1"/><path d="M781 1182l-26 18M589 1155l-17 12M466 1145l-12 9M325 1124l-17 12" stroke="#87cb54" stroke-opacity="0.24"/><path d="M322 1126l-8 5" stroke="#89cb52" stroke-opacity="0.34"/><path d="M586 1157l-27 19" stroke="#8acb51" stroke-opacity="0.16"/><path d="M423 1135l-12 8M319 1128l-21 15" stroke="#8bcb51" stroke-opacity="0.24"/><path d="M515 1153l-9 7" stroke="#8dcb4f" stroke-opacity="0.24"/><path d="M689 1175l-14 9M416 1139l-16 11" stroke="#8ecb4e" stroke-opacity="0.16"/><path d="M582 1158l-19 13" stroke="#8ecb4f" stroke-opacity="0.24"/><path d="M154 472l-33 23M154 547l-17 12M154 581l-10 7M154 601l-33 23M154 812l-25 17M153 943l-24 17M153 903l-25 18M153 875l-18 12M153 739l-28 20M154 538l-16 11M154 466l-22 15M154 449l-21 14M154 442l-24 16M154 429l-27 19M154 422l-19 13M154 391l-30 21M154 384l-14 10M154 381l-20 14M154 371l-22 15M153 1005l-34 24M153 1008l-24 17M153 1036l-10 7M152 1067l-29 21" stroke="#8fcb4e" stroke-opacity="0.08"/><path d="M154 455l-37 26M154 458l-37 26M154 468l-19 13M154 564l-37 26M154 571l-8 6M154 684l-22 15M154 691l-19 13M154 695l-15 10M154 750l-33 23M154 798l-12 8M154 832l-14 9M154 881l-29 21M154 888l-27 19M154 905l-30 21M153 998l-27 19M153 964l-16 11M153 947l-14 10M153 933l-15 10M153 838l-32 22M153 824l-20 14M153 698l-18 13M154 674l-22 15M154 623l-34 24M154 609l-28 20M154 480l-17 12M152 1071l-29 20M152 1074l-21 14" stroke="#8fcb4e" stroke-opacity="0.13"/><path d="M154 465l-14 10M154 530l-34 24M154 537l-34 24M154 598l-33 23M154 677l-24 17M154 801l-20 14M154 843l-20 14M154 850l-12 8M154 860l-24 17M154 870l-32 22M153 964l-20 14M153 988l-31 21M153 995l-21 15M153 974l-33 23M153 957l-24 17M153 950l-19 13M153 889l-28 20M153 886l-14 10M153 811l-17 12M153 804l-17 11M153 695l-34 24M154 650l-31 21M154 603l-15 10M154 592l-16 11M154 586l-25 17M154 562l-11 8M154 514l-11 8M154 473l-18 13M154 470l-22 15M154 459l-27 19" stroke="#8fcb4e" stroke-opacity="0.2"/><path d="M368 1134l-22 15" stroke="#8fcb4e" stroke-opacity="0.24"/><path d="M154 448l-12 8M154 557l-18 13M154 619l-17 12M154 667l-37 26M154 795l-22 15M154 815l-33 23M154 857l-32 22M154 877l-14 10M154 898l-24 17M154 912l-14 10M153 953l-28 20M153 967l-11 7M153 882l-10 7M153 855l-36 25M153 790l-9 6M153 742l-32 22M153 736l-34 24M153 732l-30 21M154 644l-34 24M154 626l-29 20M154 476l-20 14M154 439l-37 26M154 419l-12 8M154 395l-34 24" stroke="#8fcb4e" stroke-opacity="0.28"/><path d="M299 1141l-27 19" stroke="#90ca4d" stroke-opacity="0.24"/><path d="M579 1160l-11 7" stroke="#91ca4c" stroke-opacity="0.24"/><path d="M460 1149l-21 15" stroke="#93ca4b" stroke-opacity="0.24"/><path d="M576 1162l-16 11" stroke="#94ca4a" stroke-opacity="0.24"/><path d="M444 1160l-24 17" stroke="#96ca48" stroke-opacity="0.34"/><path d="M312 1132l-24 17" stroke="#96ca49" stroke-opacity="0.16"/><path d="M617 1165l-10 7" stroke="#98c947" stroke-opacity="0.16"/><path d="M365 1136l-9 6" stroke="#98ca47" stroke-opacity="0.34"/><path d="M572 1161l-9 6" stroke="#9ac946" stroke-opacity="0.1"/><path d="M413 1141l-11 8" stroke="#9bc945" stroke-opacity="0.24"/><path d="M611 1169l-8 6" stroke="#9cc944" stroke-opacity="0.16"/><path d="M614 1167l-10 7" stroke="#9ec942" stroke-opacity="0.24"/><path d="M556 1159l-27 19" stroke="#9fc942" stroke-opacity="0.16"/><path d="M568 1161l-17 12" stroke="#a0c841" stroke-opacity="0.24"/><path d="M154 496l-20 14M154 526l-16 11M154 674l-28 19M154 701l-19 13M154 705l-29 20M154 732l-32 22M154 736l-8 5M154 805l-31 21M154 822l-29 20M154 836l-16 11M153 946l-37 26M153 974l-18 13M153 991l-13 9M153 984l-25 18M153 916l-10 7M153 899l-35 25M153 868l-33 23M153 831l-15 10M153 817l-8 6M153 773l-36 25M153 753l-15 11M153 701l-32 23M153 691l-13 9M154 681l-35 25M154 667l-31 22M154 620l-10 7M154 589l-35 24M154 572l-12 8M154 541l-16 11M153 1029l-14 10M152 1081l-17 12M152 1092l-15 11" stroke="#a4c83e" stroke-opacity="0.08"/><path d="M154 503l-35 24M154 513l-15 10M154 523l-35 25M154 533l-26 18M154 543l-21 15M154 554l-12 8M154 919l-36 25M153 936l-34 24M153 950l-13 9M153 995l-36 25M153 971l-30 21M153 787l-36 25M153 725l-12 8M153 718l-23 16M153 715l-27 19M153 688l-37 26M153 684l-34 24M154 647l-36 25M154 640l-29 20M154 579l-11 8M154 558l-18 12M154 463l-15 11M154 405l-22 15M153 1022l-32 22M153 1043l-17 12M153 1047l-25 17M152 1078l-17 12M152 1085l-11 7" stroke="#a4c83e" stroke-opacity="0.13"/><path d="M154 516l-20 14M154 605l-13 9M154 664l-27 19M154 712l-10 7M154 757l-29 20M154 764l-36 26M154 846l-33 23M153 932l-9 6M153 909l-28 20M153 780l-26 18M153 749l-18 12M153 705l-37 26M154 630l-23 16M154 528l-37 26M154 378l-27 19M152 1088l-27 19M152 1095l-24 17" stroke="#a4c83e" stroke-opacity="0.2"/><path d="M154 475l-29 20M154 482l-34 24M154 560l-11 7M154 629l-17 12M154 632l-19 13M154 715l-28 20M154 743l-15 11M154 781l-10 7M154 839l-15 11M154 922l-15 11M153 930l-37 26M153 821l-33 23M153 814l-34 24M153 807l-10 7M153 712l-24 17M154 678l-19 13M154 657l-16 11M154 456l-37 26" stroke="#a4c83e" stroke-opacity="0.28"/><path d="M564 1160l-7 5" stroke="#a4c83e" stroke-opacity="0.34"/><path d="M512 1155l-20 14" stroke="#a5c83d" stroke-opacity="0.16"/><path d="M309 1134l-8 6" stroke="#a6c83d" stroke-opacity="0.1"/><path d="M359 1140l-10 7" stroke="#a9c73a" stroke-opacity="0.16"/><path d="M447 1158l-27 19" stroke="#aac739" stroke-opacity="0.1"/><path d="M509 1157l-27 19" stroke="#aac73a" stroke-opacity="0.16"/><path d="M682 1178l-8 6" stroke="#acc738" stroke-opacity="0.34"/><path d="M410 1143l-25 18" stroke="#aec637" stroke-opacity="0.16"/><path d="M506 1160l-24 17" stroke="#aec637" stroke-opacity="0.24"/><path d="M454 1154l-14 10" stroke="#b1c635" stroke-opacity="0.34"/><path d="M306 1136l-19 13" stroke="#b7c532" stroke-opacity="0.1"/><path d="M154 489l-9 6M154 574l-28 20M154 595l-27 19M154 636l-34 24M154 646l-32 23M154 653l-9 6M154 660l-17 12M154 698l-21 15M154 784l-20 14M153 970l-37 26M153 981l-17 12M153 988l-21 15M153 954l-13 9M153 926l-11 8M153 920l-15 10M153 845l-25 18M154 654l-16 11M154 637l-36 25M154 569l-25 18M154 551l-14 10M154 511l-10 7M154 500l-36 25M154 436l-14 10M154 412l-25 17" stroke="#b9c431" stroke-opacity="0.08"/><path d="M154 520l-23 16M154 719l-13 9M154 767l-19 13M154 826l-30 21M154 829l-32 22M154 853l-27 19M153 939l-16 11M153 978l-11 7M153 937l-22 16M153 865l-37 26M153 851l-32 22M153 797l-20 14M153 776l-36 25M154 616l-33 23M154 507l-14 10M154 408l-13 9M154 398l-19 13M153 1015l-28 19M152 1064l-20 14" stroke="#b9c431" stroke-opacity="0.13"/><path d="M154 615l-20 14M154 626l-34 24M154 670l-10 7M154 681l-33 23M154 708l-27 19M154 729l-27 19M154 739l-17 12M154 753l-31 22M154 770l-14 9M153 848l-32 23M153 828l-31 22M153 763l-21 15M154 633l-20 14M154 613l-20 14M154 504l-14 10M154 487l-29 20M154 483l-26 18M153 998l-13 9M153 1012l-27 19M153 1033l-10 7" stroke="#b9c431" stroke-opacity="0.2"/><path d="M398 1150l-18 12" stroke="#b9c431" stroke-opacity="0.24"/><path d="M154 584l-36 26M154 622l-24 17M154 643l-37 26M154 657l-24 17M154 791l-35 25M154 891l-10 7M153 862l-22 16M153 759l-28 19M153 746l-27 19M153 708l-32 22M154 671l-26 18M154 661l-22 15M154 599l-30 21M154 596l-12 8M154 534l-23 16M154 524l-15 11M154 521l-21 14M154 432l-18 12M154 415l-25 18M152 1060l-26 18" stroke="#b9c431" stroke-opacity="0.28"/><path d="M679 1180l-11 7" stroke="#bac430" stroke-opacity="0.1"/><path d="M401 1148l-24 17" stroke="#bcc42f" stroke-opacity="0.24"/><path d="M303 1139l-12 9" stroke="#c1c32c" stroke-opacity="0.1"/><path d="M675 1181l-24 17" stroke="#c6c22a" stroke-opacity="0.1"/><path d="M672 1183l-21 15" stroke="#c7c129" stroke-opacity="0.1"/><path d="M347 1149l-9 6" stroke="#cdc028" stroke-opacity="0.34"/><path d="M350 1146l-21 14" stroke="#cfc028" stroke-opacity="0.24"/><path d="M353 1144l-8 5" stroke="#d1bf27" stroke-opacity="0.1"/></g><g clip-path="url(#sc)"><rect x="140" y="270" width="830" height="930" fill="url(#gs)"/><g clip-path="url(#sb)"><rect x="135" y="1090" width="830" height="110" fill="url(#gs)" transform="translate(-5,0)"/></g><g fill="none" stroke-width="2.1" filter="url(#bl)"><path d="M835 660l35 -24M869 830l31 -22M876 521l14 -10M830 1078l21 -15M834 486l33 -23M812 635l29 -20M876 595l10 -7M745 971l33 -23M697 1004l36 -25M747 670l34 -24M824 594l32 -23M861 1150l26 -19M739 857l17 -12M772 793l30 -21M765 490l22 -16M936 465l28 -20M951 483l10 -7M904 551l22 -15M721 681l12 -8M810 789l18 -13M864 881l13 -9M913 954l31 -22M923 491l16 -11M947 389l10 -7M702 589l31 -22M902 894l10 -7M883 961l28 -20M812 903l26 -19M895 770l10 -7M880 1026l10 -7M819 961l23 -16M755 490l25 -17M858 495l11 -8M704 398l13 -9M777 910l25 -18M927 537l30 -21M843 630l20 -14M859 816l19 -13M885 1103l25 -17M697 388l10 -7M776 821l28 -20M815 979l33 -23M775 788l31 -22M907 600l15 -11M707 786l13 -9M719 820l23 -16M697 655l32 -23M850 639l23 -16M828 572l16 -12M897 915l14 -10M925 604l21 -15M902 945l23 -16M832 635l16 -12M857 972l24 -17M826 703l17 -12M715 550l19 -13M877 900l21 -15M819 716l21 -15M750 1109l36 -25M728 540l21 -14M802 1148l34 -24M807 1118l16 -11M790 981l21 -15M794 807l18 -12M759 659l33 -23M725 707l20 -14M840 546l25 -17M711 642l22 -15M724 740l18 -13M762 666l16 -11M812 1128l24 -17M724 1022l16 -11M790 1079l32 -23M868 609l13 -9M899 537l16 -11M830 691l31 -21M912 968l35 -25M914 473l14 -10M909 1071l23 -16M917 918l20 -14M889 522l36 -25M832 733l20 -14M746 554l11 -8M923 497l33 -23M836 506l18 -12M859 572l12 -9M921 851l27 -19M711 404l20 -14M724 377l12 -8M748 674l28 -20M945 501l16 -11M706 878l18 -13M930 1011l16 -11M868 395l25 -17M838 681l11 -8M910 451l14 -10M714 827l16 -11M698 534l35 -24M740 633l32 -23M804 755l13 -9M888 1152l11 -7M891 971l17 -12M853 565l15 -10M739 1114l20 -14M716 753l35 -25M786 668l17 -12M880 588l34 -24M823 554l35 -25M797 466l24 -17M822 390l14 -10M754 1080l25 -18M744 856l20 -14M805 985l24 -17M724 854l10 -7M824 1102l17 -12M934 1057l28 -20M741 546l18 -13M734 687l33 -23M947 931l22 -15M863 825l30 -21M769 1138l35 -24M881 1181l26 -18M813 803l36 -25M908 751l13 -9M712 509l29 -20M933 541l13 -9M699 817l30 -21M910 1086l31 -22M689 370l22 -15M741 1049l16 -11M911 435l29 -20M943 816l11 -8M935 667l17 -12M794 1035l18 -13M696 375l35 -25M861 387l18 -12M877 380l11 -8M913 1035l24 -17M785 615l24 -17M806 371l19 -14M753 999l27 -19M866 1030l15 -11M693 895l26 -19M811 644l18 -12M728 813l28 -19M868 1160l28 -20M820 880l21 -14M925 698l31 -22M725 1118l34 -24M724 775l15 -11M804 502l25 -18M723 906l36 -25M868 739l32 -22M925 415l23 -16M849 461l23 -16M795 765l33 -23M710 682l15 -11M925 495l18 -12M774 557l25 -18M689 1015l28 -20M739 453l33 -23M703 921l30 -21M938 881l24 -17M936 753l34 -24M848 738l18 -13M753 1025l34 -24M866 694l19 -13M944 444l15 -11M767 717l15 -11M716 826l24 -17M804 738l27 -19M947 841l12 -8M885 679l13 -9M940 625l13 -9M839 1139l34 -24M770 424l18 -13M941 1030l32 -23M833 1017l28 -19M878 745l35 -24M888 394l25 -18M946 1004l23 -16M921 907l17 -12M781 580l12 -9M744 941l34 -24M938 823l26 -18M863 737l19 -13M732 607l24 -17M761 1022l30 -21M779 1168l33 -23M823 1019l22 -15M763 697l11 -8M736 758l26 -18M785 1086l13 -9M740 1021l23 -17M939 828l15 -11M892 488l35 -25M856 503l16 -11M816 1131l18 -13M893 938l34 -24M913 984l33 -23M837 1155l35 -25M918 1127l24 -17M737 725l24 -17M771 506l31 -22M770 1120l18 -13M932 991l25 -17M843 838l25 -17M821 979l16 -11M757 961l28 -20M823 909l11 -8M743 663l21 -15M871 465l27 -19M824 521l24 -17M785 827l13 -9M744 630l35 -24M884 884l14 -10M890 479l26 -18M812 799l21 -14M717 460l28 -19M800 1029l29 -20M755 533l28 -20M800 1044l28 -19M821 997l26 -18M787 704l27 -19M725 709l12 -8M740 623l21 -15M889 705l23 -16M764 970l28 -19M897 419l25 -17M870 903l25 -17M903 440l21 -15M731 1126l31 -22M937 653l14 -10M811 1138l33 -23M723 647l16 -11M917 758l23 -16M848 934l24 -17M777 611l21 -15M717 861l31 -22M875 1012l21 -15M789 532l16 -11M948 1050l14 -10M893 758l36 -25M707 617l18 -13M915 731l22 -15M710 573l20 -14M780 727l33 -23M856 1139l19 -13M928 513l28 -19M947 501l13 -9M771 1183l31 -22M797 697l30 -21M739 480l22 -16M869 1145l20 -14M787 680l30 -21M853 942l15 -10M824 950l25 -17M759 422l34 -24M897 991l23 -16M830 753l13 -9M916 445l18 -13M937 798l30 -21M882 776l16 -11M703 873l10 -7M929 518l25 -18M720 1130l34 -24M714 550l19 -14M728 370l17 -12M853 1014l16 -11M839 692l31 -22M788 1049l22 -16M815 513l36 -25M827 547l15 -10M799 716l26 -18M890 1099l29 -20M944 548l22 -15M933 835l17 -12M836 557l27 -19M719 1154l30 -21M736 833l11 -8M830 811l19 -14M843 838l23 -16M940 856l16 -11M864 1025l21 -15M893 739l12 -8M737 562l21 -14M745 555l14 -10M895 778l26 -18M686 886l28 -20M861 702l28 -20M836 688l33 -23M858 927l16 -12M706 869l20 -14M720 512l25 -18M840 947l14 -10M748 904l31 -22M713 574l14 -10M779 1110l13 -9M756 560l12 -8M924 686l26 -18M813 939l24 -17M730 634l22 -15M903 718l19 -13M933 984l22 -15M874 451l35 -25M726 745l15 -10M936 1123l23 -16M758 969l30 -21M751 443l28 -19M899 912l35 -25M813 794l22 -15M834 1153l22 -16M925 801l12 -8M740 600l30 -21M749 401l35 -25M859 538l12 -9M935 812l22 -16M885 840l28 -20M784 891l26 -18M755 423l34 -24M909 973l25 -17M822 553l32 -23M860 749l27 -19M943 625l14 -9M803 804l25 -17M787 679l15 -10M871 933l16 -11M793 503l10 -7M877 551l29 -21M749 1069l31 -22M862 724l33 -23M942 811l22 -16M705 954l28 -20M881 653l36 -25M855 1137l19 -13M759 461l27 -19M812 810l12 -9M759 730l10 -7M881 809l35 -24M845 1178l15 -11M915 985l11 -8M734 890l28 -20M757 390l32 -23M930 901l13 -9M711 1048l20 -14M712 1016l30 -21M897 505l27 -19M839 892l23 -16M757 490l18 -13M920 532l20 -14M750 867l17 -12M793 1089l33 -23M854 831l22 -15M712 841l18 -12M701 525l19 -14M777 845l29 -20M886 1012l34 -24M830 919l31 -22M884 798l17 -12M835 1085l14 -10M757 945l16 -11M805 873l11 -8M843 1074l31 -22M799 972l20 -14M695 682l28 -19M876 1084l16 -11M891 650l16 -11M889 671l34 -24M690 604l30 -21M914 944l22 -15M747 601l13 -9M890 539l21 -15M705 382l29 -21M911 826l21 -15M787 924l23 -16M755 1088l18 -12M883 999l11 -8M694 398l27 -19M824 777l35 -25M794 1075l24 -17M814 468l34 -24M770 963l35 -25M779 1082l25 -17M940 903l29 -20M701 408l23 -16M778 498l25 -18M706 836l25 -17M931 1082l13 -9M871 708l20 -14M762 490l26 -18M828 864l33 -23M777 1044l17 -12M861 566l25 -18M929 983l18 -12M724 402l11 -8M733 800l21 -15M826 1128l26 -18M834 651l19 -13M804 398l31 -22M750 813l18 -13M733 976l17 -12M882 621l15 -10M734 1119l22 -15M716 485l36 -25M689 1141l35 -25M839 742l10 -7M701 566l16 -12M840 773l21 -15M790 883l14 -10M808 851l25 -17M904 1070l15 -10M860 554l29 -21M913 999l25 -17M775 381l18 -13M896 1036l11 -8M936 984l15 -10M837 703l23 -16M817 740l11 -8M827 800l20 -14M730 1104l23 -16M702 749l22 -16M923 1111l10 -7M739 1052l34 -24M875 1159l22 -15M861 736l12 -9M891 855l13 -9M722 683l23 -16M764 414l30 -21M930 869l28 -20M844 583l17 -12M765 550l12 -9M916 488l22 -16M844 917l12 -9M785 784l28 -19M783 572l25 -18M740 1033l11 -7M716 829l14 -10M844 923l32 -23M700 640l31 -22M716 849l28 -20M848 446l27 -19M779 567l25 -17M702 837l12 -8M769 394l20 -14M873 1153l22 -16M897 1151l22 -16M758 576l33 -23M716 656l32 -22M746 913l12 -9M721 1004l26 -18M714 654l28 -20M696 641l20 -14M818 861l34 -24M900 754l32 -23M938 954l12 -9M867 560l27 -19M916 969l29 -21M738 1118l26 -18M754 434l14 -10M933 381l17 -12M884 1105l30 -21" stroke="#12b7bd" stroke-opacity="0.08"/><path d="M897 476l10 -7M765 512l15 -11M922 624l35 -25M915 1135l26 -18M773 384l17 -12M744 426l28 -19M837 1097l11 -8M928 992l26 -19M749 535l14 -10M701 680l14 -10M951 1122l12 -9M899 1030l22 -16M726 1077l26 -19M709 1000l23 -16M801 732l29 -20M937 456l14 -10M938 446l23 -16M919 912l28 -19M848 641l14 -10M730 624l15 -10M856 409l32 -23M709 773l26 -18M910 1002l35 -24M773 1135l10 -7M897 444l32 -22M775 942l30 -21M876 1117l34 -24M751 716l21 -14M937 492l20 -14M889 1033l18 -12M754 423l12 -9M754 723l34 -24M895 644l31 -22M708 952l26 -18M896 534l11 -8M854 671l17 -12M868 1048l16 -11M787 717l20 -14M723 705l14 -10M694 636l17 -12M826 401l27 -19M796 772l24 -17M806 732l14 -10M844 1088l14 -10M829 672l35 -25M750 496l18 -13M704 766l30 -21M738 933l33 -23M834 1037l32 -22M771 495l28 -20M869 492l17 -12M771 941l31 -21M845 816l32 -23M895 1180l12 -8M927 1097l22 -15M867 803l26 -18M899 979l12 -9M824 834l11 -8M920 982l19 -14M847 1102l18 -13M907 632l27 -19M848 851l26 -18M914 739l32 -23M872 1174l35 -24M685 1056l31 -22M696 1136l30 -21M883 840l15 -10M758 815l31 -22M728 818l13 -9M903 860l13 -9M736 899l20 -14M715 581l24 -17M749 1011l18 -13M790 1058l27 -19M850 941l15 -11M796 668l19 -13M863 1125l30 -21M750 453l16 -11M822 1104l19 -14M875 376l30 -21M770 395l24 -17M715 838l17 -12M775 424l12 -8M803 1164l27 -19M869 936l22 -15M822 1029l31 -22M828 397l16 -11M856 1178l31 -22M939 478l16 -12M884 684l17 -12M879 401l31 -22M778 1170l30 -21M737 662l11 -7M828 503l27 -19M705 856l11 -8M943 407l16 -11M722 1173l35 -25M739 1011l18 -13M917 773l20 -14M792 740l22 -16M732 599l30 -21M724 490l23 -16M874 456l30 -21M779 801l27 -19M714 1032l16 -12M748 734l33 -23M872 1108l32 -23M697 953l27 -19M762 465l12 -9M902 545l23 -16M804 1056l29 -21M940 1132l26 -18M722 490l34 -24M860 1000l20 -14M788 673l33 -23M807 1171l35 -25M760 543l18 -13M859 970l17 -12M705 559l15 -10M717 1118l21 -15M834 531l24 -17M689 454l24 -17M686 1055l28 -20M861 1046l25 -18M809 775l19 -13M693 529l20 -14M752 576l15 -10M928 1070l20 -14M825 765l16 -11M746 450l12 -8M853 430l16 -11M887 932l32 -22M821 1123l13 -9M896 471l11 -8M759 816l34 -24M806 1165l35 -25M803 793l18 -12M714 694l17 -12M765 645l12 -8M845 895l18 -12M911 640l23 -16M748 638l17 -12M775 1054l35 -25M889 1069l10 -7M866 545l35 -25M848 679l14 -10M743 1020l14 -10M750 863l11 -8M831 640l15 -11M756 408l15 -11M867 1028l30 -21M886 1170l15 -10M888 1005l36 -25M767 476l17 -12M864 871l29 -20M852 1051l33 -23M785 890l18 -12M831 1055l16 -11M933 538l15 -10M872 618l16 -11M720 1123l25 -18M890 1184l30 -21M713 1008l14 -10M918 491l21 -15M691 437l27 -19M906 928l22 -15M858 1134l26 -19M744 706l28 -20M733 824l26 -18M842 565l12 -8M766 789l18 -13M899 1057l35 -24M700 386l20 -14M723 679l14 -10M855 973l29 -20M756 989l28 -20M804 902l22 -16M791 1000l12 -9M732 425l13 -9M822 697l13 -9M878 737l33 -23M932 641l18 -13M934 469l14 -10M759 865l14 -10M841 413l16 -12M717 811l35 -24M816 975l19 -13M787 632l17 -12M936 823l10 -7M782 944l31 -22M725 1147l16 -11M698 363l27 -19M937 450l23 -16M856 528l22 -16M805 790l28 -20M710 430l18 -13M765 1185l11 -8M701 1165l21 -15M831 919l20 -14M800 912l16 -11M915 499l35 -24M700 622l29 -20M899 1107l18 -13M919 715l19 -14M794 955l30 -21M859 664l35 -24M759 885l36 -25M732 554l17 -12M807 1135l16 -11M836 391l32 -23M815 736l10 -7M691 499l36 -25M764 972l36 -25M836 454l21 -14M907 702l13 -9M691 983l32 -22M918 962l25 -18M728 799l19 -13M856 801l18 -13M778 848l10 -7M861 663l21 -15M702 1028l35 -25M905 547l15 -11M927 772l26 -18M908 597l25 -18M776 1079l31 -22M693 410l31 -22M709 1148l20 -14M697 377l34 -24M716 400l17 -12M866 1011l23 -16M815 706l24 -17M882 875l23 -16M868 966l20 -14M854 529l21 -15M795 827l20 -14M825 698l26 -18M753 955l31 -22M859 1136l18 -13M909 1160l15 -11M736 437l35 -25M716 349l22 -15M853 978l34 -24M940 432l25 -18M879 937l18 -13M808 1169l35 -24M790 526l24 -17M812 467l14 -10M763 593l30 -21M866 445l25 -17M762 588l14 -10M764 809l10 -7M946 807l10 -7M759 824l19 -13M841 800l33 -23M789 1062l13 -9M810 1095l27 -19M764 1165l20 -14M826 505l23 -16M731 738l28 -20M852 398l18 -13M940 447l18 -13M846 1115l19 -13M874 762l12 -8M866 1081l22 -15M845 502l19 -13M760 444l29 -20M693 700l18 -13M709 997l35 -25M804 505l31 -22M907 837l16 -11M744 895l10 -7M701 730l34 -24M770 1046l18 -12M770 572l30 -21M901 1164l16 -12M811 702l23 -16M836 893l30 -21M817 987l18 -13M886 849l28 -20M939 445l11 -8M770 487l28 -20M823 869l24 -17M879 869l13 -9M756 1124l29 -20M802 643l13 -9M683 387l34 -24M867 620l27 -19M927 570l23 -16M701 394l31 -22M755 977l35 -25M730 1146l14 -10M741 934l18 -12M886 594l32 -23M725 534l24 -17M842 907l15 -11M719 395l12 -8M932 424l21 -15M839 816l32 -23M816 1175l11 -8M811 717l24 -17M760 551l26 -18M867 732l15 -11M724 763l22 -15M807 830l25 -18M832 781l33 -23M895 798l36 -25M846 843l18 -13M796 459l31 -22M759 915l30 -21M887 872l28 -19M914 1008l27 -19M778 1145l21 -15M859 654l18 -13M933 864l22 -16M904 861l24 -17M844 753l18 -13M696 823l19 -13M868 652l23 -16M884 1179l11 -8M917 540l34 -24M898 804l26 -18M708 968l10 -7M877 1022l29 -20M713 363l12 -9M927 1093l11 -8M731 560l34 -24M740 666l10 -7M708 371l26 -18M722 790l26 -19M903 797l10 -7M908 386l22 -15M823 849l26 -18M854 422l14 -10M694 550l34 -24M794 525l16 -11M773 949l29 -21M784 726l18 -12M713 419l26 -18M766 611l13 -9M806 1119l34 -24M710 583l29 -20M776 764l33 -23M929 403l35 -24M830 1039l26 -19M739 719l25 -18M801 549l29 -20M840 438l16 -11M888 947l15 -11M752 1149l36 -25M707 738l15 -11M801 489l27 -19M693 1138l17 -12M850 1067l34 -24M848 621l23 -16M864 489l24 -17M877 866l15 -11M739 656l33 -23M766 1097l28 -20M854 656l22 -16M886 724l24 -17M919 945l27 -19M702 1121l19 -13M786 492l35 -25M899 1126l21 -14M945 824l10 -7M793 545l28 -20M896 833l13 -9M926 581l18 -12M891 993l25 -18M905 996l28 -20M782 396l31 -22M803 444l30 -21M908 709l31 -22M760 1096l29 -21M918 880l12 -8M832 722l24 -17M885 1104l32 -22M746 840l20 -14M788 850l26 -18M818 846l13 -9M940 856l29 -20M841 776l28 -19M739 1017l11 -8M753 962l28 -20M725 1083l28 -20M931 497l34 -24M751 1015l26 -18M763 605l20 -14M936 845l22 -16M887 839l16 -11M749 720l14 -10M814 782l20 -14M855 1043l34 -24M878 548l36 -25M839 1040l26 -18M775 539l34 -24M815 1054l23 -16M794 499l30 -21M901 470l27 -19M788 433l15 -11M784 822l21 -15M855 556l24 -17M926 1002l14 -10M714 535l22 -16M707 718l13 -9M934 480l13 -9M730 1150l21 -15M823 628l33 -23M731 729l19 -14M875 605l27 -19M904 1084l32 -23M786 393l14 -10M921 849l11 -8M891 1182l16 -11M934 1133l23 -16M707 897l20 -14M695 589l25 -18M854 760l17 -12M803 990l31 -22M874 986l14 -10M716 774l30 -21M769 1129l24 -17M757 973l12 -8M737 1056l32 -22M904 980l14 -10M767 923l28 -20M934 445l31 -22M777 578l28 -20M686 1164l32 -22M764 869l32 -23M792 848l27 -19M798 513l28 -19M869 1077l17 -12M921 387l25 -18M897 779l16 -11M813 653l31 -22M829 967l32 -22M892 1142l18 -12M846 551l34 -24M940 846l23 -16M710 634l31 -22M696 744l23 -16M941 715l30 -21M723 588l35 -24M716 501l12 -8M880 705l29 -20M775 1062l27 -19M916 724l23 -16M820 745l29 -21M734 592l11 -8M763 672l27 -19M861 880l25 -18M733 830l33 -23M778 609l21 -15M745 995l35 -24M715 830l30 -21M810 924l11 -8M776 689l12 -8M843 748l22 -15M914 957l18 -13M821 764l23 -16M811 573l13 -9M772 828l16 -11M922 983l11 -8M814 543l12 -8M731 669l15 -10M798 556l28 -19M878 866l32 -23M778 784l20 -14M830 1022l33 -23M760 763l35 -25M867 531l34 -24M883 500l32 -22M849 1114l27 -19M858 746l21 -15M755 1021l18 -13M735 743l30 -21M762 521l30 -21M926 373l29 -21M875 755l11 -8M896 574l19 -13M699 382l21 -14M837 982l24 -17M897 707l11 -7M699 466l23 -16M832 1034l20 -14M708 779l27 -19M786 465l14 -10M834 920l15 -11M926 940l15 -11M860 905l35 -25M799 867l35 -25M857 916l25 -18M925 1079l13 -9M792 1114l26 -18M885 441l19 -14M873 939l20 -14M849 818l23 -16M783 765l31 -22M804 1177l15 -11M688 616l34 -24M714 779l20 -14M695 633l32 -22M857 1014l20 -14M793 966l16 -11M881 662l22 -15M751 810l32 -22M940 1067l16 -11M800 1069l19 -14M890 1066l31 -22M856 581l16 -11M809 366l33 -23M722 400l20 -14M865 532l20 -14M798 888l22 -16M926 781l26 -18M800 868l35 -25M850 874l25 -18M774 661l31 -22M830 581l17 -12M942 621l11 -7M712 421l32 -23M830 398l35 -25M749 535l30 -21M713 488l23 -16M722 612l28 -19M816 1049l32 -23M861 664l29 -21M747 448l17 -12M885 853l20 -14M889 684l11 -8M794 396l16 -11M862 522l16 -11M870 657l33 -23M920 1043l13 -9M823 785l10 -7M878 547l18 -12M712 453l36 -25M821 446l26 -18M847 670l11 -8M714 701l22 -15M766 1121l19 -13M884 1049l30 -21M728 662l31 -22M795 610l22 -15M908 544l12 -8M857 953l11 -8M874 701l30 -21M756 896l28 -20M797 877l24 -17M761 916l29 -20M750 704l28 -20M690 668l24 -17M838 1165l31 -22M757 1021l19 -13M841 965l14 -10M897 420l15 -10M702 415l29 -20M821 798l26 -18M908 1041l24 -17M748 1107l20 -14M697 722l18 -13M867 1150l29 -21M799 1149l26 -18M940 565l21 -15M838 892l23 -16M838 1059l33 -23M884 1156l30 -21M853 520l34 -24M802 1118l27 -19M765 1055l15 -10M844 505l27 -19M790 600l10 -7M939 821l36 -25M892 602l30 -21M917 665l27 -19M849 1189l24 -17M776 970l20 -14M685 829l32 -22M797 745l30 -21M762 884l11 -7M857 910l19 -13M820 719l33 -23M909 518l31 -21M818 891l14 -10M903 1161l20 -14M772 1009l13 -9M719 741l16 -11M715 1018l22 -16M730 949l15 -11M734 373l20 -14M770 1031l24 -17M745 869l21 -15M847 896l25 -17M755 613l33 -23M899 1184l23 -16M717 1059l24 -17M811 1022l14 -10M782 485l23 -16M842 493l12 -8M890 485l30 -21M886 960l13 -9M744 554l15 -11M907 1008l23 -16M883 693l19 -13M759 1036l19 -13M936 927l34 -24M923 504l13 -9M761 700l18 -13M760 865l35 -24M936 752l13 -9M869 694l16 -11M871 1100l20 -14M712 1153l17 -12M828 597l35 -25M752 395l19 -13M752 738l35 -25M825 567l32 -22M833 1136l16 -11M785 1000l15 -10M877 1132l34 -24M912 905l17 -12M802 747l20 -14M712 583l11 -7M832 1044l34 -24M768 712l25 -17M730 402l13 -9M751 770l25 -18M850 849l16 -11M702 1024l12 -8M936 420l34 -24M705 701l35 -25M880 913l32 -22M754 934l15 -11M735 906l16 -11M880 990l22 -16M921 658l25 -18M722 917l31 -22M724 786l14 -10M913 457l36 -25M879 960l26 -18M853 842l33 -23M742 966l28 -20M916 1119l25 -17M900 1055l34 -24M846 929l19 -14M779 675l15 -11M775 964l12 -8M794 1054l14 -10M822 1068l21 -15M768 1098l27 -19M826 710l17 -12M913 662l34 -24M835 532l12 -9M742 1166l24 -17M793 1053l17 -12M942 686l18 -13M865 917l32 -22M850 494l25 -18M837 914l22 -15M730 487l17 -12M769 1102l20 -14M920 574l10 -7M831 502l21 -15M751 1077l14 -10M865 678l19 -14M866 829l19 -13M696 668l18 -13M922 951l21 -15M753 1079l31 -22M908 900l12 -8M850 1067l22 -16M733 385l29 -20M882 735l14 -10M826 868l21 -15M747 1018l16 -11M873 663l32 -23M830 790l31 -21M926 637l29 -21M840 880l11 -7M701 1059l32 -23M755 912l23 -16M757 762l28 -20M773 1053l17 -12M877 443l15 -11M829 1129l15 -11M832 804l32 -22M804 1093l28 -20M926 424l23 -16M792 1077l19 -13M828 559l33 -23M932 640l21 -14M892 686l12 -8M746 782l36 -25M869 482l25 -17M887 903l14 -10M927 555l11 -8M861 889l29 -20M767 380l10 -7M815 429l13 -9M863 747l34 -24M716 1128l34 -24M949 901l14 -10M857 897l31 -22M877 951l11 -8M833 753l19 -13M761 887l20 -14M698 408l19 -13M747 466l23 -16M768 1020l19 -13M882 1173l34 -24M735 444l23 -16M851 715l25 -18M813 1105l26 -19M916 743l34 -24M835 860l15 -11M885 1155l30 -21M733 831l16 -11M728 1105l23 -16M748 441l36 -25M707 586l24 -17M896 762l31 -22M822 947l34 -24M832 426l30 -21M760 628l12 -8M773 1025l31 -22M693 1083l21 -15M916 947l12 -8M788 1051l27 -19M718 467l32 -22M785 425l29 -20M932 1136l26 -18M712 463l14 -10M873 415l21 -15M906 471l17 -12M896 749l29 -21M876 656l23 -16M700 917l24 -17M836 984l10 -7M892 1138l33 -23M805 981l21 -15M941 602l23 -16M703 561l32 -23M939 756l20 -14M698 570l34 -24M908 399l13 -9M697 819l14 -10M729 1136l29 -21M815 377l12 -8M893 421l28 -20M829 500l21 -15M877 381l25 -18M875 684l31 -22M927 715l11 -8M760 1118l33 -23M745 565l25 -17M709 402l23 -16M715 947l21 -15M736 441l12 -9M833 590l20 -14M797 693l12 -9M743 672l34 -24M690 381l23 -17M924 691l11 -8M801 684l31 -22M828 1167l35 -25M816 828l33 -23M698 976l28 -20M707 561l11 -8M854 594l32 -22M898 1021l14 -10M906 805l30 -21M705 587l18 -12M818 735l33 -24M877 510l24 -17M773 655l35 -25M890 1037l20 -14M798 1048l26 -18M818 853l28 -20M901 771l10 -7M733 1141l32 -23M804 680l23 -16M699 356l24 -17M788 907l18 -12M707 1137l17 -12M839 984l35 -24M719 609l12 -8M802 712l20 -14M859 1059l33 -23M739 514l21 -14M682 812l36 -25M714 1083l13 -9M723 975l13 -9M893 961l22 -16M895 1188l20 -14M937 977l14 -10M883 574l10 -7M815 1036l31 -22M898 1154l20 -14M927 555l18 -13M820 720l14 -10M805 943l24 -17M711 961l14 -10M940 528l12 -8M861 914l14 -10M920 1030l18 -13M877 939l17 -12M935 1008l30 -21M932 910l12 -8M946 799l13 -9M768 803l24 -17M819 777l21 -14M696 1000l32 -23M810 824l17 -12M750 560l14 -10M743 762l29 -21M742 674l28 -19M934 406l10 -7M830 799l10 -7M745 453l15 -11M861 616l17 -12M732 816l36 -25M901 1058l30 -21M765 818l17 -12M814 1128l25 -17M922 1143l18 -13M701 515l23 -16M787 584l21 -15M756 480l15 -11M931 669l15 -11M844 882l19 -13M930 672l18 -12M796 799l11 -8M761 567l24 -17M746 477l10 -7M870 1030l10 -7M776 554l15 -11M815 596l17 -12M713 893l11 -8M882 408l34 -24M887 804l17 -12M841 942l20 -14M820 1054l13 -9M839 1167l25 -18M787 940l18 -13M790 882l10 -7M728 807l16 -12M887 1061l20 -14M942 1023l13 -9M721 1161l23 -16M710 536l25 -18M902 467l23 -16M865 967l10 -7M869 596l14 -10M925 1149l27 -19M755 473l33 -23M905 593l28 -20M700 446l33 -23M941 979l24 -17M733 516l25 -18M861 616l35 -25M792 1055l10 -7M700 954l17 -12M866 1087l12 -8M925 599l15 -10M835 548l24 -17" stroke="#12b7bd" stroke-opacity="0.14"/><path d="M406 944l29 -21M643 564l14 -10M516 473l25 -18M477 613l28 -20M628 440l32 -23M267 417l22 -16M610 1167l20 -14M590 667l24 -17M542 1130l26 -18M264 855l11 -8M210 967l29 -20M162 943l31 -22M630 751l13 -9M516 481l10 -7M392 788l13 -9M193 854l13 -9M212 666l23 -16M229 491l10 -7M641 868l32 -22M677 884l10 -7M384 936l10 -7M259 491l12 -8M551 420l31 -22M664 658l25 -17M603 406l31 -22M599 540l16 -12M226 1000l30 -21M211 612l33 -23M472 696l11 -7M599 1071l17 -12M617 784l21 -15M674 492l11 -8M658 382l19 -13M575 647l30 -21M294 573l19 -13M305 397l19 -14M203 860l32 -23M383 782l10 -7M486 834l31 -22M339 694l34 -24M426 925l22 -15M272 599l28 -19M282 1081l13 -9M570 1006l25 -17M583 378l34 -24M229 363l25 -17M190 922l19 -13M280 666l25 -18M629 619l10 -7M299 363l28 -20M572 534l30 -21M393 1091l23 -16M327 1065l13 -9M639 499l25 -17M229 747l25 -17M196 986l14 -10M215 1011l15 -10M306 774l14 -10M309 829l24 -17M424 316l22 -16M415 746l24 -17M341 429l23 -16M174 1079l14 -10M552 820l22 -15M635 991l23 -16M666 1020l12 -9M245 1078l28 -20M257 733l27 -19M639 731l27 -19M652 895l14 -10M358 768l22 -16M672 678l12 -8M152 369l28 -20M379 1077l20 -14M360 791l35 -25M293 435l32 -23M236 613l12 -8M346 824l17 -12M396 963l25 -17M567 829l33 -23M552 1004l28 -19M434 1090l31 -22M465 518l28 -20M487 884l10 -7M520 402l12 -8M616 765l30 -21M686 1148l11 -8M558 734l32 -22M619 704l11 -7M497 704l23 -16M358 907l33 -23M603 461l24 -17M344 776l34 -24M162 820l29 -20M425 1005l15 -10M611 989l13 -9M402 443l26 -19M271 703l14 -9M658 474l26 -18M520 1051l26 -18M524 757l21 -15M192 1045l30 -21M463 796l25 -18M488 832l11 -8M483 970l23 -16M340 943l23 -16M353 638l22 -15M492 1098l30 -21M631 1104l21 -14M452 426l19 -14M345 443l30 -21M214 936l24 -17M591 554l34 -24M161 1038l33 -23M369 387l15 -10M573 670l30 -21M494 790l36 -25M683 643l29 -20M215 791l14 -10M422 458l15 -11M307 328l36 -25M619 651l12 -8M629 961l28 -19M210 891l28 -20M295 1100l28 -20M360 620l28 -20M316 731l25 -18M204 954l19 -13M523 869l13 -9M138 575l35 -24M168 1062l15 -10M305 792l15 -10M604 1076l30 -21M375 513l32 -22M194 876l11 -8M311 1006l10 -7M570 437l16 -11M186 490l15 -11M587 1015l22 -15M377 529l30 -21M360 812l29 -20M554 654l22 -15M234 833l17 -12M474 639l22 -15M467 607l31 -22M273 941l34 -24M250 479l16 -11M679 508l17 -12M487 579l11 -8M242 831l30 -21M612 848l21 -15M246 547l25 -17M220 606l35 -24M498 1045l14 -10M421 359l24 -17M290 889l32 -23M255 1004l13 -9M607 664l20 -14M140 430l23 -16M550 1065l17 -12M348 431l18 -13M534 649l30 -21M563 913l18 -13M425 639l31 -22M504 1066l25 -18M414 324l23 -16M561 463l24 -17M597 1163l22 -16M402 725l10 -7M670 696l21 -15M567 557l19 -14M429 529l16 -11M203 1079l18 -13M458 937l22 -15M586 731l19 -13M514 673l14 -10M553 685l29 -21M422 988l25 -18M534 786l10 -7M646 462l26 -18M190 968l14 -10M140 958l34 -24M359 906l31 -22M605 714l24 -17M222 895l23 -16M250 1020l14 -10M160 988l27 -19M180 502l13 -9M525 902l20 -14M522 813l18 -12M251 477l26 -18M244 411l22 -16M550 829l30 -21M568 545l24 -17M465 818l20 -14M351 1107l10 -7M474 936l12 -8M457 426l26 -18M649 927l28 -20M217 1018l10 -7M318 469l20 -14M463 984l12 -8M324 346l15 -10M323 605l21 -15M446 912l15 -11M637 886l26 -18M624 1138l33 -23M443 936l21 -15M318 529l12 -8M157 1063l11 -8M542 379l21 -15M409 398l31 -22M180 673l24 -17M323 595l13 -9M590 1044l12 -8M280 495l18 -13M202 875l13 -9M377 341l24 -17M153 937l32 -23M510 1090l35 -25M214 358l18 -12M303 1011l34 -24M313 312l20 -14M384 427l24 -17M241 416l11 -8M303 902l33 -23M582 1155l18 -13M473 708l16 -11M191 1023l22 -16M361 962l18 -13M655 983l19 -13M348 1133l14 -9M528 921l29 -21M176 910l30 -21M140 502l26 -18M691 666l11 -8M180 728l19 -13M490 633l26 -18M472 399l27 -19M318 825l20 -14M388 677l11 -8M590 509l24 -17M500 549l35 -24M308 428l31 -22M234 902l10 -7M224 615l10 -7M372 603l32 -23M509 1052l13 -9M554 718l19 -13M166 448l29 -21M352 936l13 -9M615 976l28 -20M687 831l10 -7M210 1062l31 -22M411 1090l36 -25M460 562l25 -18M683 1007l13 -9M466 496l21 -14M238 913l19 -14M285 923l21 -15M292 1012l28 -20M411 351l30 -21M679 1034l12 -8M406 753l21 -14M319 760l13 -9M292 492l23 -16M527 442l24 -17M266 1083l27 -19M498 1137l29 -20M606 375l15 -10M581 703l15 -10M285 479l10 -7M590 693l11 -8M482 612l26 -18M534 781l11 -8M354 1069l23 -16M557 995l19 -14M447 550l29 -20M432 405l14 -10M286 1078l25 -18M170 774l28 -20M237 516l27 -19M509 662l24 -17M160 1093l26 -18M576 550l16 -11M396 346l28 -20M450 1077l24 -17M652 1068l36 -25M537 418l30 -21M490 908l23 -16M566 848l20 -14M568 569l28 -20M600 530l23 -16M511 663l19 -13M574 820l11 -8M451 707l31 -22M207 817l34 -24M457 1060l15 -10M519 846l23 -16M480 352l28 -20M201 710l19 -14M466 335l22 -15M378 836l18 -13M547 769l18 -13M198 494l34 -24M591 853l13 -9M626 655l33 -23M276 945l16 -11M198 486l18 -13M354 607l13 -9M200 927l33 -23M461 1064l20 -14M357 619l34 -24M294 324l17 -12M368 508l34 -24M681 897l20 -14M620 385l11 -8M650 1120l22 -15M678 903l28 -19M452 392l25 -18M374 326l19 -13M319 453l25 -18M541 463l28 -19M145 669l16 -11M593 797l25 -17M252 872l17 -12M165 1072l13 -9M235 854l12 -8M541 1127l28 -19M679 373l25 -18M591 936l12 -9M439 515l28 -20M431 450l11 -8M410 608l31 -22M625 728l12 -8M534 975l24 -17M246 555l12 -9M482 806l18 -13M521 1082l25 -17M398 1016l34 -24M234 577l15 -10M157 978l27 -19M239 432l22 -15M506 656l33 -23M162 693l32 -23M641 1075l16 -11M616 649l29 -20M247 800l16 -12M256 687l34 -24M428 1120l11 -8M409 926l16 -11M224 510l15 -11M537 847l17 -12M345 964l19 -13M364 972l10 -7M241 750l26 -18M458 382l30 -21M540 972l30 -21M673 553l31 -22M530 552l33 -23M189 897l25 -17M682 568l17 -12M537 661l27 -19M269 702l29 -20M151 381l19 -14M553 459l14 -10M657 1112l11 -8M457 378l24 -17M492 606l20 -14M246 766l33 -23M481 857l28 -19M301 689l20 -14M643 946l12 -8M631 959l29 -20M418 672l12 -8M608 1021l29 -21M445 592l33 -23M674 398l14 -10M415 445l32 -23M233 928l20 -14M583 570l10 -7M538 448l35 -24M446 760l19 -13M585 821l14 -10M681 525l33 -23M377 1046l10 -7M419 868l31 -22M393 490l23 -16M582 664l16 -11M342 464l29 -21M248 1009l21 -15M440 838l13 -9M210 635l12 -8M558 1061l31 -22M401 701l36 -25M311 472l15 -10M573 1120l30 -21M608 502l27 -19M455 367l27 -19M178 1108l29 -21M505 485l16 -11M169 988l18 -12M142 626l34 -24M421 660l25 -18M502 658l25 -17M587 1090l14 -10M636 530l36 -25M272 1094l19 -14M448 616l22 -16M330 1136l13 -9M241 410l30 -21M652 1050l32 -22M505 1140l35 -25M255 634l30 -21M401 849l28 -20M407 453l15 -10M470 622l25 -17M442 972l20 -14M335 941l33 -23M621 1020l36 -25M600 613l19 -13M363 771l32 -23M276 775l13 -9M247 537l18 -13M676 1024l24 -17M343 1075l28 -19M594 437l31 -22M179 966l30 -21M430 739l22 -16M415 460l19 -14M169 1081l31 -22M240 1095l18 -13M295 1064l19 -13M403 526l33 -23M367 482l26 -18M300 486l24 -17M250 1017l32 -23M304 868l22 -15M345 630l29 -20M555 469l23 -16M199 707l35 -25M498 1152l32 -23M230 1002l18 -13M373 510l13 -9M571 606l29 -21M464 584l29 -21M636 1118l25 -18M259 809l11 -8M660 771l35 -25M621 990l17 -12M661 1060l32 -22M481 420l13 -9M616 832l32 -22M314 757l22 -15M360 1130l16 -12M215 898l27 -19M430 379l27 -19M144 1090l31 -22M188 857l35 -24M498 669l16 -11M376 451l24 -17M424 907l33 -23M538 904l16 -11M248 900l26 -18M231 924l35 -25M630 827l36 -25M353 586l23 -16M319 797l19 -14M672 964l27 -19M344 1003l28 -20M400 676l20 -14M454 460l19 -14M673 1054l20 -14M510 426l27 -19M635 533l28 -20M613 369l25 -18M333 1094l24 -17M281 814l22 -16M565 586l24 -17M522 986l27 -19M617 531l12 -9M482 363l29 -20M379 1065l23 -16M575 763l24 -17M487 517l26 -18M299 507l22 -15M500 987l19 -13M468 636l17 -12M187 378l12 -8M635 399l30 -21M493 882l26 -18M293 655l17 -12M461 673l19 -13M597 552l20 -14M339 1135l16 -11M193 948l18 -13M159 876l23 -16M264 472l26 -18M225 408l23 -16M398 446l22 -15M469 633l11 -8M670 971l32 -22M179 695l26 -18M419 887l13 -9M605 1013l14 -10M600 923l21 -14M234 870l34 -24M405 587l14 -10M258 776l35 -25M308 838l10 -7M663 671l14 -10M642 709l28 -20M636 621l16 -12M255 1033l29 -20M354 466l25 -17M659 496l33 -23M279 767l28 -20M337 1034l28 -20M175 915l23 -16M261 495l19 -13M431 836l11 -8M502 1118l11 -8M262 645l12 -8M408 1067l18 -12M559 467l32 -23M313 482l19 -13M404 406l29 -20M440 543l22 -16M504 942l28 -20M346 1028l30 -21M289 606l35 -25M596 989l14 -10M231 800l11 -7M235 1102l34 -24M265 1075l26 -18M318 871l18 -13M158 619l23 -16M448 444l30 -21M364 485l13 -9M462 539l27 -19M239 718l29 -20M450 653l29 -21M161 489l25 -17M518 935l13 -9M370 359l27 -19M546 474l31 -22M378 469l13 -9M547 355l30 -21M361 743l25 -18M336 942l33 -23M278 331l31 -22M192 930l31 -22M236 745l31 -22M671 1135l13 -9M287 1133l14 -10M431 686l32 -22M195 749l34 -24M307 680l18 -13M349 1022l29 -20M571 330l18 -12M425 810l23 -16M289 391l33 -23M469 892l30 -21M355 534l17 -12M325 927l14 -10M222 915l22 -15M582 1000l25 -17M294 889l24 -17M417 1040l29 -20M140 962l26 -18M289 811l10 -7M376 969l27 -19M672 1009l13 -9M685 805l28 -20M168 750l32 -23M220 600l17 -12M227 379l13 -9M672 410l33 -23M273 1065l22 -15M166 642l21 -15M235 1078l19 -14M144 802l34 -24M494 1110l31 -22M150 878l16 -12M440 459l25 -18M232 560l21 -15M300 748l25 -18M159 811l22 -15M479 563l26 -18M487 1042l35 -25M584 644l12 -8M648 619l30 -21M202 592l21 -15M609 744l35 -25M156 571l26 -18M669 805l16 -11M638 397l23 -16M421 361l13 -9M451 736l12 -9M374 345l25 -17M405 750l26 -19M165 448l16 -11M590 688l18 -12M201 660l20 -14M428 600l11 -7M614 354l17 -12M333 675l28 -20M371 516l24 -17M598 1066l14 -10M344 472l29 -21M249 775l16 -11M497 370l17 -12M197 705l16 -11M280 938l23 -16M347 957l33 -23M680 875l29 -20M676 926l27 -19M310 683l34 -24M336 1129l32 -23M524 515l25 -17M401 1137l17 -12M614 349l31 -22M685 724l12 -9M160 877l12 -8M282 799l15 -10M276 813l16 -11M319 849l17 -12M311 756l10 -7M238 770l12 -8M164 1070l25 -17M185 625l18 -12M640 1079l16 -11M182 996l25 -17M632 758l23 -16M501 905l19 -13M201 1017l29 -21M587 586l35 -25M458 757l33 -23M212 482l30 -21M642 876l24 -17M199 870l33 -23M464 470l26 -18M248 497l30 -21M628 1072l33 -23M509 804l18 -12M352 502l13 -9M313 910l31 -22M327 334l17 -12M541 640l30 -21M371 532l28 -20M462 1100l27 -19M287 1092l32 -22M454 426l16 -12M633 729l12 -8M589 1085l19 -14M180 828l11 -8M578 665l20 -14M620 453l34 -24M430 873l14 -10M199 910l30 -21M259 614l23 -16M520 574l36 -25M282 869l21 -15M456 995l19 -14M503 1152l13 -9M184 918l35 -25M268 323l20 -14M354 368l34 -24M538 397l14 -10M202 891l30 -21M565 886l14 -10M319 402l28 -20M230 801l30 -21M362 450l16 -12M448 446l20 -14M355 535l11 -8M568 1152l15 -10M461 1037l14 -10M495 904l26 -18M557 769l25 -17M210 508l22 -15M600 536l26 -19M644 629l10 -7M519 395l30 -21M539 989l23 -17M441 564l13 -9M228 501l34 -24M669 706l27 -19M421 511l30 -21M506 885l32 -23M319 1018l33 -23M243 957l29 -20M305 887l22 -16M420 937l33 -23M499 530l15 -11M438 641l21 -15M439 638l21 -15M547 1027l23 -16M163 899l28 -19M213 799l23 -16M192 884l21 -15M469 342l26 -18M606 534l18 -13M287 351l32 -23M182 1009l35 -25M200 1032l18 -13M600 572l30 -21M258 890l13 -9M573 446l31 -22M614 762l15 -11M443 1071l22 -16M538 377l29 -20M508 663l20 -14M240 677l10 -7M613 801l19 -14M422 591l11 -7M425 611l22 -16M286 1028l23 -16M631 1114l33 -23M283 1039l17 -12M375 766l13 -9M202 512l11 -8M594 958l27 -19M431 847l14 -10M648 675l33 -23M501 375l34 -24M577 1093l18 -13M441 647l35 -24M280 394l14 -10M495 477l20 -14M446 680l19 -13M273 650l28 -20M316 517l27 -19M394 376l11 -8M533 506l11 -8M479 717l20 -14M480 431l16 -11M389 572l30 -21M569 632l17 -12M307 752l26 -18M160 364l10 -7M347 876l30 -21M594 1042l16 -11M150 423l21 -15M202 1006l31 -22M240 604l33 -23M311 594l27 -19M224 912l31 -22M449 722l18 -12M638 441l18 -13M507 1036l31 -22M353 931l18 -13M371 799l34 -24M239 316l34 -24M569 694l23 -16M156 609l15 -11M485 509l32 -23M224 773l18 -13M346 706l27 -19M582 692l19 -13M454 965l18 -13M633 1083l12 -8M180 1023l18 -13M432 544l22 -15M250 869l21 -15M404 564l22 -15M190 537l34 -24M628 856l31 -22M362 696l33 -23M306 1037l28 -19M397 460l18 -13M247 696l34 -24M270 925l22 -16M228 571l14 -9M680 524l28 -19M530 1127l12 -8M295 837l18 -13M630 1068l19 -13M503 443l31 -22M676 619l31 -22M364 912l16 -11M398 496l30 -21M501 801l23 -16M236 682l31 -22M597 941l29 -21M219 389l10 -7M669 819l19 -13M298 394l25 -18M673 562l21 -15M239 855l27 -19M641 911l33 -23M673 676l19 -13M176 514l11 -7M553 910l26 -19M682 881l20 -14M321 1050l22 -15M511 992l34 -24M598 965l27 -19M228 690l33 -23M630 400l35 -25M273 834l12 -9M172 453l20 -14M664 627l11 -8M512 1090l30 -21M373 964l26 -18M534 705l26 -19M264 695l21 -15M605 470l32 -23M349 547l32 -22M517 523l23 -16M150 684l22 -15M241 334l13 -9M677 1121l35 -25M535 350l26 -18M673 498l23 -16M482 369l22 -15M414 1026l24 -17M411 408l12 -9M155 472l26 -19M178 633l26 -18M313 1130l20 -14M462 736l35 -25M523 1074l29 -21M365 579l30 -21M650 899l15 -11M643 660l11 -8M207 360l27 -19M241 550l31 -22M533 389l12 -8M523 589l30 -21M268 459l12 -9M488 1058l27 -19M136 943l30 -21M265 430l29 -20M452 517l30 -21M449 1128l17 -12M631 606l22 -16M290 660l36 -25M354 941l35 -25M571 670l14 -10M440 523l12 -8M436 608l25 -17M468 352l29 -20M322 746l18 -12M357 868l16 -11M277 433l23 -16M417 1082l25 -18M619 692l19 -13M366 816l17 -12M370 738l23 -16M660 1142l20 -14M644 984l32 -23M379 326l18 -12M385 852l23 -16M478 1043l11 -8M481 1007l18 -13M178 636l33 -23M397 475l27 -19M451 586l22 -15M567 751l16 -11M371 639l21 -15M359 922l33 -23M201 1012l16 -11M215 391l28 -20M178 568l35 -25M172 1026l17 -12M507 906l32 -23M495 572l24 -17M278 919l34 -24M465 406l33 -23M425 481l23 -16M626 837l31 -22M395 848l36 -25M470 686l34 -24M572 471l14 -10M227 462l13 -9M365 481l21 -15M240 454l21 -15M569 565l33 -23M679 490l13 -9M684 589l17 -12M254 476l13 -9M423 597l25 -17M625 470l22 -16M668 761l27 -19M636 1141l12 -8M457 434l35 -25M563 1086l13 -9M227 394l32 -23M360 806l13 -9M446 509l30 -21M303 643l14 -10M456 824l34 -24M369 573l12 -9M188 635l17 -12M434 737l21 -15M410 458l29 -20M265 913l24 -17M238 886l25 -17M247 350l19 -13M256 376l34 -24M442 358l35 -25M641 929l28 -20M267 910l16 -11M373 1165l34 -24M676 929l11 -8M492 837l30 -21M182 455l18 -12M557 706l22 -16M686 1008l15 -11M233 932l27 -19M367 798l25 -18M623 864l22 -16M353 788l30 -21M329 475l33 -23M463 1070l27 -19M672 600l12 -9M278 539l26 -18M616 664l16 -11M367 513l24 -17M259 800l25 -17M618 527l14 -10M479 524l28 -19M430 1051l31 -21M427 1064l33 -23M473 374l26 -18M559 465l22 -16M152 1014l12 -8M564 1085l21 -15M670 645l20 -14M687 1137l25 -18M181 327l30 -21M344 842l36 -25M201 851l21 -15M204 587l27 -19M687 432l26 -18M339 518l31 -22M558 1116l16 -11M665 493l24 -17M297 732l22 -15M406 584l20 -14M269 919l15 -11M572 898l13 -9M296 973l13 -9M504 398l34 -24M390 842l19 -13M252 954l29 -20M617 559l15 -11M404 650l27 -19M374 342l23 -16M223 493l12 -8M256 905l31 -22M206 668l25 -17M488 865l23 -16M234 539l24 -17M584 978l17 -12M605 538l24 -17M372 772l18 -13M443 706l17 -12M498 395l33 -23M465 477l13 -9M322 308l30 -21" stroke="#12b7bd" stroke-opacity="0.19"/><path d="M243 867l31 -22M343 542l21 -15M348 1056l34 -24M183 932l35 -25M415 867l34 -24M681 605l35 -24M395 727l23 -16M352 597l31 -22M278 453l14 -10M175 775l28 -19M595 419l14 -10M678 811l29 -20M206 742l29 -20M246 1027l13 -9M400 445l34 -24M157 475l13 -9M591 1153l28 -20M621 569l35 -25M585 479l23 -16M163 683l35 -25M619 1015l14 -10M474 510l30 -21M679 687l27 -19M403 536l27 -19M170 823l29 -20M529 597l20 -14M312 544l23 -16M676 461l24 -17M553 631l17 -12M289 991l20 -14M460 830l16 -12M288 1071l34 -24M609 580l11 -8M467 625l33 -24M156 1017l31 -22M433 685l23 -16M639 801l17 -12M402 1056l19 -13M666 390l26 -18M307 494l35 -24M413 957l27 -19M256 1124l22 -16M356 868l22 -16M569 493l30 -21M315 813l27 -19M180 877l28 -20M336 564l22 -15M594 1072l12 -8M373 940l29 -20M471 404l24 -17M495 981l17 -12M474 1146l33 -23M539 461l21 -15M373 543l27 -19M543 497l13 -9M346 848l15 -10M213 887l13 -9M323 518l10 -7M612 747l16 -11M575 533l20 -14M671 1144l30 -21M198 698l10 -7M325 569l23 -16M443 531l26 -18M440 737l20 -14M641 727l26 -19M443 609l31 -22M405 431l13 -9M645 1051l36 -25M236 640l17 -12M547 985l14 -10M184 763l25 -18M471 610l21 -15M324 999l21 -15M278 460l31 -22M676 986l26 -19M346 1097l34 -24M142 590l18 -13M594 722l18 -13M225 428l24 -17M468 349l36 -25M662 888l25 -18M236 678l21 -15M428 646l21 -15M200 310l29 -20M620 623l16 -11M183 1027l27 -19M414 810l18 -13M404 838l13 -9M239 485l19 -13M638 607l15 -10M369 1065l28 -20M240 441l20 -14M211 1083l18 -13M407 435l32 -22M329 995l14 -10M537 1059l14 -10M494 573l26 -18M520 711l17 -12M617 398l32 -22M573 1157l16 -12M338 626l25 -18M210 935l13 -9M396 579l22 -16M640 707l34 -24M326 922l36 -25M670 1075l15 -11M214 571l13 -9M352 750l11 -8M151 736l10 -7M345 512l18 -13M341 814l27 -19M221 727l12 -8M138 804l35 -25M240 478l19 -14M621 1041l19 -13M220 486l31 -22M335 970l34 -24M560 1001l15 -10M427 937l11 -8M210 817l21 -15M340 536l33 -23M213 523l31 -22M280 818l18 -13M517 861l17 -12M564 498l30 -21M404 694l28 -19M518 759l17 -12M419 473l26 -18M621 884l23 -16M606 456l19 -13M526 1083l30 -21M550 935l23 -16M663 440l32 -23M663 843l29 -21M572 981l32 -22M584 1085l12 -8M573 741l17 -12M555 386l19 -14M167 1061l32 -23M668 882l12 -8M547 1015l21 -15M340 677l30 -21M681 627l34 -24M278 461l27 -19M326 513l15 -10M631 887l21 -15M299 411l28 -20M252 787l17 -12M278 572l31 -22M291 325l29 -20M522 488l20 -14M276 974l31 -22M357 753l14 -10M494 505l25 -18M662 374l24 -17M518 775l27 -19M519 727l29 -21M304 712l12 -8M631 648l35 -25M522 537l26 -18M406 372l13 -9M190 339l35 -24M361 758l15 -11M387 613l23 -16M429 930l34 -24M410 453l22 -16M157 788l21 -15M413 396l25 -17M188 757l31 -22M243 1021l13 -9M221 905l20 -14M446 800l12 -9M443 415l21 -15M497 1162l34 -24M215 975l23 -16M320 577l32 -23M235 797l17 -12M634 973l31 -22M143 795l24 -17M571 809l29 -20M665 450l23 -16M361 559l25 -18M226 570l13 -9M517 1066l20 -14M200 1048l30 -21M417 686l26 -18M477 623l19 -13M459 1049l18 -12M449 473l32 -22M591 989l13 -9M393 779l25 -18M240 451l24 -17M390 362l35 -25M664 400l27 -19M164 401l27 -19M514 1119l14 -10M251 446l17 -12M636 654l31 -22M205 587l10 -7M441 662l29 -20M564 345l33 -23M314 546l19 -14M210 814l26 -18M425 1032l21 -15M160 881l28 -20M217 553l15 -11M468 983l13 -9M622 770l29 -20M238 337l25 -18M662 392l21 -15M497 1085l18 -12M379 783l27 -19M458 986l29 -20M247 846l27 -19M578 1129l27 -19M631 664l28 -20M201 534l33 -23M301 529l26 -19M166 400l21 -15M587 683l14 -10M237 767l30 -21M450 655l33 -23M349 995l34 -24M262 545l33 -23M515 853l24 -17M454 1083l12 -9M455 792l31 -22M161 670l25 -17M646 1099l12 -9M550 1029l10 -7M640 713l34 -24M484 682l17 -12M158 721l27 -19M634 329l11 -8M542 970l28 -20M236 511l19 -13M499 999l29 -20M487 646l11 -8M419 1114l26 -18M249 467l33 -23M457 638l15 -11M388 387l20 -14M227 717l18 -12M446 653l19 -13M341 395l31 -22M279 927l11 -8M589 1029l28 -19M152 637l28 -20M202 745l21 -15M497 1098l31 -22M553 595l25 -18M585 609l17 -12M215 1111l12 -8M440 492l25 -18M568 1150l12 -9M247 477l13 -9M556 756l15 -10M422 743l13 -9M654 365l14 -10M671 393l23 -16M667 868l26 -18M250 1084l10 -7M445 819l35 -25M681 530l35 -25M648 1123l29 -21M390 547l24 -17M606 420l30 -21M160 495l24 -17M548 528l13 -9M479 1040l21 -15M547 475l34 -24M338 639l35 -25M606 1054l18 -13M526 423l10 -7M523 1099l26 -18M318 839l34 -24M638 1079l15 -11M595 1014l31 -22M261 524l12 -9M161 1001l15 -10M462 777l23 -16M478 1110l33 -23M247 724l10 -7M175 585l19 -13M307 776l28 -20M310 1032l30 -21M420 787l31 -22M671 648l35 -25M501 403l36 -25M390 549l22 -15M584 758l33 -24M502 631l15 -10M315 607l29 -20M317 862l22 -16M317 323l35 -24M544 544l14 -10M680 430l24 -17M404 1021l10 -7M661 852l13 -9M344 1097l34 -24M532 340l18 -12M185 829l16 -11M599 513l33 -23M231 582l35 -25M405 522l31 -22M553 877l19 -13M570 995l29 -20M575 655l23 -16M168 448l32 -23M254 499l21 -15M481 498l22 -16M476 474l30 -21M310 933l12 -8M640 368l24 -17M459 633l17 -12M206 991l29 -20M182 1066l24 -17M170 660l18 -13M446 831l20 -14M508 417l14 -10M537 339l15 -11M382 565l12 -8M666 674l25 -18M151 1073l33 -23M213 883l33 -23M385 916l13 -9M554 1029l15 -11M177 728l11 -8M375 338l26 -19M267 668l25 -18M676 908l18 -13M267 679l12 -9M369 975l29 -20M150 1102l31 -22M608 865l15 -11M412 1079l25 -17M177 564l18 -12M229 914l11 -8M261 975l33 -23M321 1080l15 -10M257 584l13 -9M394 394l33 -23M373 344l18 -12M298 1008l34 -24M290 1045l35 -24M615 1012l24 -17M677 399l15 -10M612 1127l29 -20M425 865l30 -21M198 437l31 -22M486 934l17 -12M341 478l22 -15M562 990l13 -9M610 1152l21 -15M368 781l23 -16M509 616l29 -20M449 891l13 -9M613 533l33 -23M579 856l17 -12M304 1000l35 -25M504 616l34 -24M269 635l10 -7M423 595l18 -13M572 448l35 -25M509 368l14 -10M305 456l23 -16M688 416l10 -7M192 715l26 -18M550 815l28 -20M684 1010l19 -13M244 993l33 -23M284 641l35 -24M356 737l31 -22M415 846l18 -12M222 865l20 -14M339 1038l31 -22M491 961l20 -14M403 1015l24 -17M492 465l27 -19M455 628l34 -24M257 550l11 -7M348 838l22 -15M570 384l31 -22M377 1155l18 -13M258 921l15 -10M641 679l23 -16M498 927l33 -23M557 664l36 -25M622 976l23 -16M521 931l10 -7M495 753l32 -22M362 368l22 -15M492 841l27 -19M618 398l14 -10M513 1017l33 -23M586 698l30 -21M575 414l10 -7M425 1143l30 -21M604 574l15 -11M629 938l11 -8M358 626l25 -18M296 581l18 -13M298 1061l34 -24M538 857l14 -10M193 807l14 -10M147 1053l16 -11M159 790l31 -22M419 972l32 -22M182 878l16 -11M323 418l36 -25M479 1133l11 -8M270 459l23 -16M360 870l23 -16M438 699l31 -22M602 1087l32 -23M399 1123l12 -9M412 572l19 -13M594 771l13 -9M676 615l26 -18M348 371l13 -9M354 500l24 -17M444 550l31 -22M237 886l27 -19M668 602l28 -20M646 380l24 -17M653 404l19 -13M170 773l34 -24M209 1091l33 -23M222 1043l29 -20M164 963l13 -9M292 818l22 -16M568 342l20 -14M586 740l22 -16M618 668l23 -16M576 867l14 -10M548 409l27 -19M227 367l23 -16M154 454l16 -11M526 804l23 -16M302 766l18 -13M407 796l20 -14M529 1137l27 -19M460 907l15 -11M367 547l30 -21M579 675l23 -16M149 719l24 -17M523 725l34 -24M480 548l15 -10M529 636l21 -15M657 1064l36 -25M604 649l18 -12M217 331l17 -12M624 1015l30 -21M160 554l12 -8M334 397l27 -19M446 1064l21 -15M227 486l27 -19M326 315l16 -11M189 1011l27 -19M541 530l24 -17M542 816l33 -23M238 1000l28 -20M429 735l11 -8M391 928l26 -18M508 1006l23 -16M154 565l16 -11M595 822l16 -11M205 720l22 -16M527 1135l15 -11M520 425l11 -8M666 410l32 -23M238 529l27 -19M569 580l14 -10M339 781l34 -24M173 1086l32 -23M370 895l32 -22M507 818l17 -12M588 582l18 -12M261 700l19 -13M664 389l18 -13M389 819l32 -22M447 492l30 -21M405 632l23 -16M517 835l16 -11M405 700l25 -18M388 343l17 -12M536 586l28 -19M256 481l34 -24M631 1092l24 -17M334 330l18 -12M159 744l29 -20M338 953l31 -22M472 631l10 -7M564 1056l13 -9M535 1134l33 -23M378 402l22 -16M302 496l34 -24M321 1139l33 -23M402 536l23 -17M460 321l31 -22M480 410l14 -10M640 336l11 -8M410 630l33 -23M537 555l29 -20M598 811l15 -10M268 613l35 -25M349 1134l21 -15M360 614l17 -12M429 765l16 -12M576 881l32 -23M327 441l26 -18M364 540l23 -16M680 440l12 -8M159 478l23 -16M240 760l21 -15M230 494l30 -21M615 623l34 -24M218 816l28 -20M410 572l24 -17M280 629l15 -11M341 932l34 -24M245 453l28 -20M422 912l12 -8M243 680l35 -25M436 391l33 -24M217 708l26 -18M647 1135l20 -14M635 429l24 -17M395 1103l28 -20M427 393l28 -20M585 422l24 -17M339 753l23 -16M275 852l24 -17M489 831l28 -20M644 377l24 -17M562 1104l32 -23M578 1031l18 -13M426 380l28 -20M519 847l19 -13M558 573l20 -14M605 622l19 -13M353 1061l16 -11M617 1116l29 -20M319 995l32 -23M601 442l23 -16M358 463l22 -15M242 416l24 -17M680 365l31 -22M450 427l33 -23M300 816l26 -18M617 466l33 -23M202 549l24 -17M546 565l12 -8M362 745l20 -14M447 1155l19 -13M523 842l13 -9M177 606l13 -9M453 768l15 -11M456 1060l29 -20M455 625l19 -13M551 618l36 -25M493 699l36 -25M156 880l30 -21M671 974l22 -16M537 405l26 -19M575 450l12 -8M303 656l35 -25M169 850l29 -21M625 634l12 -9M153 1010l32 -23M208 579l17 -12M363 1032l18 -13M204 827l33 -23M541 1151l11 -7M370 573l18 -12M602 863l29 -21M377 936l19 -14M610 633l15 -11M446 664l28 -20M418 706l14 -10M153 434l13 -9M403 364l35 -25M472 1095l26 -18M681 402l32 -22M409 1007l25 -18M360 431l13 -9M237 401l35 -24M632 772l21 -15M224 962l17 -12M405 628l10 -7M412 848l14 -10M519 1041l36 -25M221 573l26 -18M468 404l36 -25M398 953l20 -14M632 498l25 -18M147 1005l30 -21M475 904l30 -21M675 963l21 -15M561 747l29 -20M280 657l16 -11M521 501l30 -21M547 740l30 -21M194 761l21 -15M404 933l27 -19M609 1094l34 -24M370 469l31 -22M671 640l12 -9M506 985l10 -7M150 995l21 -15M491 1119l12 -8M600 1108l19 -13M333 1110l36 -25M411 1007l12 -8M160 728l10 -7M682 747l28 -19M297 732l25 -17M166 1042l31 -22M578 471l12 -8M250 720l13 -9M314 390l27 -19M278 384l23 -16M558 358l31 -21M641 530l11 -8M363 714l22 -15M165 846l11 -8M600 965l23 -16M445 699l23 -16M633 448l28 -20M436 374l34 -24M353 892l35 -25M154 504l32 -22M421 858l22 -15M496 569l19 -14M340 992l16 -12M216 322l13 -9M200 581l24 -17M345 552l21 -14M631 616l12 -9M362 756l25 -17M512 855l36 -25M605 872l11 -8M434 354l33 -23M318 675l25 -18M451 733l16 -11M214 770l31 -22M675 646l36 -25M515 748l26 -19M682 1002l29 -20M300 723l24 -17M456 746l16 -11M172 471l15 -11M424 424l22 -15M227 308l21 -15M274 390l35 -25M666 1163l29 -20M315 662l10 -7M600 760l13 -9M610 608l28 -20M428 491l28 -20M163 964l17 -12M349 773l18 -13M258 773l10 -7M561 1111l20 -14M647 431l27 -19M150 907l26 -18M392 977l33 -23M438 676l34 -24M593 594l13 -9M145 622l27 -19M242 693l15 -10M449 480l29 -20M438 930l25 -18M276 337l10 -7M220 797l10 -7M209 995l26 -18M677 1047l27 -19M380 548l12 -8M615 723l32 -22M322 660l11 -8M457 543l30 -21M162 726l14 -10M256 978l28 -19M408 757l17 -12M365 808l18 -13M495 464l21 -14M304 934l22 -15M305 675l34 -24M627 981l33 -23M290 1148l35 -25M201 878l19 -13M560 582l14 -10M394 788l26 -18M671 614l33 -23M366 951l24 -17M505 881l26 -19M150 976l11 -8M200 849l31 -22M413 1058l30 -21M189 707l34 -24M204 947l22 -15M168 484l33 -23M264 868l18 -13M236 544l21 -15M253 1013l28 -20M155 421l13 -9M614 1124l22 -16M188 818l15 -11M447 365l24 -17M665 775l20 -14M136 959l26 -18M258 695l12 -9M574 386l13 -9M366 770l18 -13M236 468l22 -15M631 1108l17 -12M232 785l16 -12M445 740l26 -18M206 512l29 -20M541 363l14 -10M573 787l16 -11M550 1138l18 -13M573 912l10 -7M406 725l12 -8M425 1025l12 -8M316 864l27 -19M142 550l31 -22M616 1093l33 -24M314 1083l33 -23M543 936l25 -18M641 430l24 -17M405 857l13 -9M508 839l13 -9M234 996l25 -18M392 1039l13 -9M549 508l35 -25M651 415l14 -10M272 880l33 -23M434 639l27 -19M292 324l25 -18M542 396l14 -10M342 968l19 -13M340 970l29 -20M192 749l21 -15M175 362l33 -23M224 783l18 -12M275 1092l16 -11M218 1009l21 -14M530 978l17 -12M440 851l20 -14M418 1121l28 -20M291 890l25 -17M199 339l23 -16M638 889l24 -17M219 758l21 -15M565 994l14 -10M668 694l10 -7M416 416l11 -8M469 545l21 -15M149 749l24 -17M189 480l19 -14M259 447l36 -25M584 570l14 -10M191 556l23 -16M216 644l34 -24M401 570l11 -8M306 1017l25 -18M179 1098l21 -15M486 436l25 -17M250 1025l31 -22M268 536l23 -16M439 907l31 -22M521 415l20 -14M587 885l13 -9M195 356l19 -13M590 369l25 -18M465 536l28 -20M586 1017l14 -10M666 653l19 -13M649 1078l13 -9M685 501l10 -7M536 723l20 -14M485 1091l17 -12M350 519l23 -16M136 559l32 -23M152 444l16 -11M487 830l30 -21M367 902l16 -11M314 872l13 -9M423 366l18 -12M257 945l29 -20M442 633l20 -14M546 1168l35 -24M324 852l31 -22M647 453l14 -10M228 606l23 -16M368 622l31 -22M253 969l29 -20M258 428l14 -10M424 823l19 -14M667 800l25 -18M163 351l23 -16M171 784l34 -24M356 624l20 -14M350 823l22 -16M666 678l26 -18M591 385l27 -19M520 908l27 -19M485 811l33 -23M414 606l23 -16M449 819l19 -14M616 1106l32 -23M353 366l27 -19M203 1003l23 -16M588 697l11 -8M628 897l15 -11M208 460l27 -19M645 375l23 -16M677 811l12 -9M538 477l21 -15M616 696l15 -11M619 423l16 -12M260 494l16 -11M147 858l31 -21M342 940l35 -25M263 1072l22 -16M486 650l20 -14M241 778l22 -16M610 716l23 -16M471 427l31 -22M358 688l27 -19M225 757l17 -12M354 469l21 -15M588 1010l34 -24M421 1066l12 -8M505 500l24 -17M578 624l10 -7M636 973l19 -13M650 416l29 -20M549 562l13 -9M405 935l20 -14M610 440l30 -21M557 880l16 -11M609 1092l25 -18M631 464l13 -9M600 642l19 -13M437 1057l15 -11M314 875l25 -18M668 776l24 -17M488 889l25 -18M177 728l19 -13M583 930l22 -16M571 823l21 -15M464 537l10 -7M536 777l20 -14M585 391l14 -10M542 409l13 -9M515 457l22 -15M632 776l34 -24M304 549l30 -21M339 635l30 -21M623 633l34 -24M257 1003l12 -8M318 1118l35 -25M197 1026l16 -11M477 882l13 -9M645 897l34 -24M421 825l34 -24M178 378l16 -11M263 530l13 -9M445 907l10 -7M602 578l24 -17M420 856l35 -25M148 784l15 -10M689 700l13 -9M566 588l19 -14M530 561l22 -16M629 406l12 -9M404 323l23 -16M416 964l34 -24M362 436l32 -22M554 1132l23 -16M515 683l20 -14M246 815l15 -10M548 933l15 -11M551 377l16 -11M263 736l25 -17M191 918l11 -8M344 683l16 -12M499 960l36 -25M505 881l15 -10M535 1046l31 -22M443 731l22 -16M495 1146l30 -21M392 444l34 -24M236 701l17 -12M545 455l32 -23M568 802l13 -9M426 1145l22 -16M551 672l23 -16M602 697l20 -14M582 766l22 -16M606 873l13 -9M578 1127l35 -25M217 778l28 -20M648 862l21 -15M274 1002l35 -24M495 640l25 -17M493 795l24 -17M567 379l26 -18M162 526l23 -16M321 519l16 -11M224 1074l17 -12M527 756l29 -20M623 1091l28 -20M379 451l25 -17M553 662l15 -10M666 860l33 -23M458 550l33 -23M520 684l18 -13M414 922l25 -18M612 963l30 -21M351 821l28 -20M367 840l14 -10M250 465l20 -14M223 984l13 -9M605 923l12 -9M376 366l25 -17M303 630l21 -15M261 1079l32 -23M557 944l14 -10M296 997l17 -12M270 1012l10 -7M557 1047l19 -13M338 794l18 -13M422 445l32 -22M190 396l13 -9M575 901l19 -13M199 581l12 -9M506 701l11 -7M384 939l10 -7M416 1128l12 -8M202 458l17 -12M425 1134l13 -9M466 984l13 -9M183 316l22 -15M661 614l17 -12M315 981l14 -10M672 702l11 -8M445 867l35 -24M396 925l30 -21M614 389l17 -12M452 684l24 -17M430 998l32 -23M175 500l19 -14M514 1043l35 -25M462 717l13 -9M507 717l16 -11M446 925l16 -11M683 405l23 -16M260 374l26 -18M296 857l26 -18M277 849l19 -13M508 390l18 -13M688 494l23 -16M367 1020l20 -14M169 400l13 -9M181 775l18 -13M429 563l30 -21M309 497l31 -22M184 455l20 -14M432 565l18 -13M409 659l26 -18M494 674l15 -11M403 851l22 -16M626 582l25 -18M298 454l12 -9M295 1084l20 -14M647 1018l14 -10M557 479l14 -10M337 905l33 -23M319 895l26 -18M615 1117l16 -12M293 781l16 -11M483 600l33 -23M320 1061l34 -24M674 705l22 -15M282 1059l23 -16M614 648l20 -14M418 1030l31 -22M397 794l23 -16M308 565l36 -25M385 743l25 -17M157 426l36 -25M627 721l33 -23M585 500l22 -15M486 620l10 -7M152 914l33 -23M234 354l12 -8M596 743l24 -17M236 733l28 -19M140 619l30 -21M644 820l31 -22M309 739l23 -16M525 1022l26 -18M576 586l11 -8M673 1067l19 -14M645 774l32 -23M366 460l31 -22M611 1125l17 -12M198 488l11 -8M289 1124l18 -12M164 933l18 -13M532 877l16 -11M640 547l12 -8M674 384l23 -16M575 776l17 -12M456 775l12 -8M614 904l35 -25M448 675l12 -9M360 398l32 -23M252 936l15 -11M538 702l32 -23M248 462l26 -18M558 1149l20 -14M598 769l14 -10M648 675l24 -17M452 942l19 -14M562 497l15 -11M156 619l30 -21M272 888l10 -7M214 608l13 -9M165 537l29 -20M210 1014l15 -11M266 337l17 -12M179 747l13 -9M321 372l32 -22M169 533l12 -9M346 783l24 -17M364 481l22 -16M569 614l10 -7M532 705l24 -17M643 525l27 -19M458 941l11 -8M272 882l11 -8M674 955l35 -24M687 546l26 -18M166 636l10 -7M201 1073l14 -10M163 548l11 -8M581 810l14 -10M299 1036l15 -10M272 922l26 -19M465 990l26 -18M269 1034l23 -16M431 457l34 -24M426 1109l19 -13M627 850l31 -22M583 1017l17 -12M439 493l24 -17M628 670l23 -16M539 901l22 -16M355 917l16 -11M266 705l17 -12M581 890l30 -21M527 811l22 -15M551 1134l25 -18M466 353l26 -19M632 543l35 -25M188 714l33 -23M198 312l26 -18M418 860l19 -13M164 748l29 -20M256 888l30 -21M347 367l30 -21M349 820l31 -22M515 595l14 -10M527 901l13 -9M572 987l29 -21M688 1092l17 -12M284 1130l15 -10M173 366l25 -18M464 790l34 -24M187 604l36 -25M533 863l35 -24M488 818l27 -19M282 806l35 -24M612 1117l29 -20M599 1009l26 -18M557 668l19 -13M656 925l28 -19M360 764l27 -19M584 816l21 -15M653 920l36 -25M690 917l11 -8M202 484l13 -9M179 681l20 -14M510 966l32 -22M398 432l29 -20M574 493l15 -10M426 790l25 -18M512 1035l23 -16M236 376l20 -14M262 474l31 -22M567 910l11 -8M355 461l21 -15M244 711l36 -25M190 854l12 -8M683 541l24 -17M229 960l24 -17M480 307l16 -11M345 768l32 -23M621 750l31 -22M309 818l31 -22M456 405l26 -18M210 585l22 -15M666 1108l30 -21M453 404l16 -11M462 640l22 -15M656 1177l13 -9M292 394l24 -17M207 621l32 -23M228 860l11 -8M259 692l26 -19M584 386l33 -23M683 986l26 -18M261 473l17 -12M269 847l13 -9M234 721l16 -11M524 1043l18 -12M164 678l33 -23M499 692l28 -20M664 721l35 -25M579 1073l13 -9M512 1028l11 -8M357 795l32 -23M166 561l36 -25M466 454l12 -8M360 682l11 -8M505 452l34 -24M181 425l28 -20M529 898l31 -22M492 524l11 -8M271 995l12 -9M209 1021l29 -20M386 467l20 -14M522 1001l29 -20M247 620l35 -25M261 718l33 -23M344 511l30 -21M615 665l31 -22M173 806l17 -12M259 1010l10 -7M313 375l19 -14M527 343l17 -12M157 648l11 -8M322 659l24 -17M362 1086l14 -10M402 818l32 -22M451 747l21 -15M689 830l15 -10M282 445l13 -9M237 509l22 -15M230 1068l14 -10M299 1075l18 -13M256 976l26 -18M607 664l33 -23M670 501l31 -22M543 720l14 -10M531 789l28 -19M249 500l35 -24M591 941l32 -22M613 795l19 -13M278 829l15 -10M252 548l18 -12M224 965l36 -25M476 769l33 -23M575 897l24 -17M153 484l34 -24M684 703l29 -20M177 1080l24 -17M301 326l21 -15M537 701l28 -20M254 464l31 -21M407 1042l15 -11M362 788l36 -25M140 748l31 -21M369 734l30 -21M231 1018l19 -13M382 1079l30 -21M237 984l32 -23M489 732l32 -23M305 515l16 -11M388 390l32 -23M271 375l34 -24M160 758l32 -23M603 613l23 -16M566 507l16 -11M492 896l21 -15M422 539l20 -14M556 529l27 -19M451 395l23 -16M398 504l35 -24M481 1069l25 -17M235 754l24 -17M491 712l33 -23M209 616l12 -9M446 473l12 -8M453 561l27 -19M213 350l24 -17M674 741l16 -11M550 1162l11 -7M429 560l11 -8M448 438l32 -22M504 1049l30 -21M237 1088l22 -15M231 441l19 -13M160 829l16 -11M179 822l33 -24M427 882l16 -12M213 724l16 -11M465 696l32 -23M197 855l25 -17M208 340l29 -20M422 763l23 -16M460 940l34 -24M443 1079l14 -10M339 404l35 -25M246 599l12 -8M354 629l19 -13M668 535l23 -16M471 1021l20 -14M412 424l25 -18M602 984l16 -11M396 727l17 -12M645 1167l25 -18M581 791l28 -20M633 597l35 -25M528 1025l12 -8M421 1124l16 -12M189 964l33 -23M525 433l25 -17M254 1126l29 -20M295 923l29 -20M495 572l19 -14M215 667l21 -15M347 735l33 -23M651 1070l15 -11M168 1040l36 -25M617 1112l24 -17M266 662l29 -20M240 851l29 -20M465 827l13 -9M421 998l32 -23M364 378l23 -16M466 1084l23 -16M430 619l35 -24M321 423l25 -18M193 530l16 -12M445 627l18 -13M618 864l33 -24M677 743l30 -21M516 1044l23 -16M246 786l17 -12M226 693l28 -20M495 731l18 -13M162 856l32 -22M219 520l30 -21M163 819l17 -12M680 963l30 -21M413 922l30 -21M641 630l29 -21M175 329l28 -19M370 342l21 -14M154 545l21 -15M398 1004l28 -20M275 841l33 -23M248 1092l35 -25M214 331l32 -22M458 413l16 -12M630 673l13 -9M474 842l33 -23M271 900l18 -13M272 704l17 -12M452 634l19 -13M222 653l20 -14M405 975l21 -15M341 1146l21 -15M295 468l21 -14M224 925l15 -11M565 1089l34 -24M256 863l24 -17M599 783l14 -10M227 347l31 -21M593 761l12 -8M503 791l18 -13M576 331l11 -8M570 1160l32 -22M421 938l20 -14M572 359l20 -14M580 1146l23 -16M627 660l15 -10M304 759l26 -18M590 701l29 -20M508 526l30 -21M294 399l34 -24M643 546l24 -17M407 636l15 -11M498 633l16 -11M361 374l11 -8M350 353l13 -9M241 879l29 -21M503 932l18 -12M253 532l27 -19M295 816l21 -15M304 672l14 -9M279 913l24 -17M590 1010l30 -21M576 615l24 -17M645 975l28 -20M396 932l29 -21M138 1045l29 -21M260 890l12 -9M602 796l16 -11M208 457l14 -10M251 312l15 -11M431 577l21 -15M214 466l22 -15M507 957l33 -23M626 874l24 -17M592 452l17 -12M482 1161l16 -11M239 945l21 -15M429 805l24 -17M308 1102l17 -12M454 862l12 -8M496 1104l19 -13M380 872l19 -13M418 1051l23 -16M673 690l24 -17M218 965l15 -10M497 688l26 -18M614 770l28 -19M640 647l19 -13M507 599l20 -14M255 541l34 -24M309 760l20 -14M277 992l26 -18M596 1146l14 -10M668 1165l10 -7M252 792l32 -23M617 1147l22 -15M547 471l34 -24M167 683l36 -25M242 570l28 -19M544 737l30 -21M628 779l32 -22M537 1010l11 -8M543 574l15 -11M409 1071l15 -10M663 436l34 -24M666 787l34 -24M185 971l36 -25M509 371l23 -16M646 934l12 -8M225 521l11 -8M627 890l12 -9M637 1136l15 -11M629 439l20 -14M400 533l33 -23M651 401l29 -21M507 360l10 -7M268 439l14 -10M243 1000l20 -14M518 1143l29 -20M274 639l31 -22M182 719l29 -20M304 632l15 -11M628 992l25 -18M191 546l21 -15M295 1139l11 -8M193 507l15 -11M399 528l33 -23M460 440l26 -18M420 628l27 -19M531 516l17 -12M364 337l35 -24M661 732l34 -24M660 647l30 -21M348 548l24 -17M242 553l30 -21M450 638l18 -13M630 1002l31 -22M241 1098l18 -12M588 1137l19 -14M487 990l12 -9M545 925l33 -23M644 791l31 -21M448 731l20 -14M456 1070l25 -18M588 1055l17 -12M425 1078l21 -15M359 374l29 -21M263 810l30 -21M412 883l10 -7M203 307l22 -15M339 581l12 -9M555 339l11 -8M304 425l29 -21M684 734l27 -19M570 403l21 -15M483 441l24 -17M505 1080l26 -18M410 967l34 -24M530 809l28 -20M529 409l11 -8M308 795l35 -24M319 385l13 -9M673 1133l20 -14M545 1111l20 -14M541 496l17 -12M226 560l22 -16M162 780l29 -21M160 505l18 -13M413 956l35 -24M364 528l15 -10M396 878l33 -23M647 918l24 -17M305 1080l34 -24M522 901l31 -22M372 1038l26 -18M471 454l21 -14M527 860l22 -15M212 866l36 -25M259 817l18 -13M581 403l24 -17M405 1140l27 -19M301 774l24 -17M369 668l32 -23M572 1090l34 -24M628 1084l26 -18M249 927l27 -19M512 464l16 -12M293 904l30 -21M313 609l23 -16M624 342l25 -18M446 495l21 -15M563 350l19 -14M543 1140l14 -10M628 637l27 -19M680 1114l30 -21M226 719l15 -10M583 1036l29 -20M482 965l29 -21M180 321l21 -15M334 844l32 -23M359 526l27 -19M353 536l15 -10M635 967l17 -12M207 568l26 -18M325 1011l35 -24M150 872l36 -25M215 926l33 -23M581 471l27 -19M203 399l18 -12M265 319l32 -23M324 765l36 -25M156 948l18 -13M541 480l33 -23M350 908l34 -24M243 346l26 -18M154 554l12 -9M466 377l28 -20M252 835l10 -7M208 560l10 -7M207 723l21 -15M499 837l21 -15M310 746l34 -24M386 970l23 -16M155 988l29 -20M431 706l34 -24M358 500l31 -22M217 875l33 -23M214 798l19 -13M425 832l10 -7M526 932l22 -15M595 1143l22 -15M592 764l15 -10M482 1040l18 -13M411 552l23 -16M530 1117l26 -19M332 386l10 -7M267 574l28 -20M205 540l10 -7M563 406l16 -12M311 473l21 -15M228 650l17 -12M205 1005l33 -23M319 765l16 -11M387 601l29 -20M669 896l18 -13M684 761l25 -18M268 402l35 -24M259 1003l25 -18M228 916l30 -21M259 468l28 -20M137 386l28 -19M522 1021l32 -22M604 1117l16 -11M344 859l29 -20M396 380l36 -25M673 1102l18 -13M521 469l12 -8M240 394l14 -10M146 1006l17 -12M609 433l22 -16M163 919l27 -19M585 465l12 -8M651 849l29 -20M450 427l12 -8M231 380l15 -10M225 691l19 -13M690 1079l14 -10M299 485l21 -15M612 801l14 -10M269 977l29 -20M624 995l27 -19M431 658l20 -14M264 1072l23 -16M310 429l34 -24M599 1167l10 -7M424 546l11 -8M380 1093l21 -15M664 506l31 -22M621 658l24 -17M463 1142l29 -21M274 1036l35 -25M230 832l18 -12M271 758l18 -13M370 533l23 -16M236 574l35 -25M453 494l29 -20M249 1122l19 -13M341 672l24 -17M353 524l34 -24M684 670l26 -18M181 723l25 -17M605 1074l20 -14M505 1082l22 -15M612 1033l20 -14M357 619l29 -20M450 620l15 -11M625 1046l26 -18M399 364l31 -22M534 409l18 -13M600 732l29 -20M198 845l33 -23M675 882l35 -25M571 402l34 -24M166 473l29 -20M485 704l20 -14M667 729l20 -14M230 989l29 -20M369 652l28 -20M523 1091l27 -19M613 997l32 -22M148 928l34 -24M545 471l12 -9M500 569l14 -10M489 699l10 -7M376 509l15 -10M414 625l32 -22M196 770l25 -17M548 458l12 -8M566 396l12 -8M301 486l17 -12M180 874l24 -17M348 851l18 -13M576 976l30 -21M226 351l12 -8M641 1083l29 -21M618 439l20 -14M300 562l16 -11M399 929l13 -9M229 779l16 -11M239 615l15 -11M147 1014l14 -10M597 992l33 -23M511 747l29 -20M374 575l15 -11M400 513l27 -19M547 730l14 -10M372 517l18 -13M306 1043l35 -25M144 694l34 -24M469 363l32 -23M570 1149l33 -23M358 1104l21 -15M266 603l21 -15M309 861l17 -12M610 935l33 -23M298 523l10 -7M492 460l29 -21M352 722l18 -12M488 380l34 -24M475 703l21 -15M379 1092l12 -8M262 442l22 -16M309 804l29 -20M235 445l23 -16M504 1132l24 -17M478 888l20 -14M398 892l33 -23M474 751l22 -15M259 1046l33 -23M603 827l32 -23M147 896l33 -23M295 358l23 -17M642 1199l36 -25M169 952l28 -20M633 1006l13 -9M245 540l14 -10M440 857l14 -10M555 382l26 -18M191 425l11 -8M297 1014l33 -23M448 987l11 -8M246 698l36 -25M392 324l25 -17M226 473l17 -12M524 576l20 -14M610 1149l15 -11M644 530l34 -24M433 922l12 -8M501 715l24 -17M491 437l28 -20M452 655l34 -24M583 1098l21 -14M584 922l33 -23M259 666l18 -12M564 931l26 -19M312 1119l26 -18M175 717l31 -22M398 519l25 -18M496 636l21 -14M321 344l24 -17M434 490l11 -8M639 731l34 -24M171 593l10 -7M583 828l21 -15M470 772l19 -13M590 874l22 -16M585 499l30 -21M255 1127l28 -20M213 501l27 -19M397 892l22 -16M222 813l28 -20M517 747l14 -10M235 320l25 -17M541 1081l34 -24M412 754l10 -7M345 610l31 -22M458 849l13 -9M539 1070l11 -8M178 1036l29 -21M195 1093l20 -14M593 1064l28 -19M490 1151l27 -19M424 1168l24 -17M317 413l17 -12M262 878l20 -14M220 955l12 -8M609 664l21 -15M511 953l35 -25M511 1040l34 -24M200 844l19 -13M293 425l25 -18M424 791l29 -21M594 1051l32 -23M318 1128l32 -23M163 697l22 -15M587 435l31 -21M620 385l23 -16M276 1101l19 -13M519 625l21 -15M298 911l14 -10M520 1120l13 -9M517 723l15 -11M418 1057l27 -19M257 961l23 -16M392 896l29 -20M550 781l12 -8M409 1140l10 -7M631 493l27 -19M277 904l25 -17M681 780l15 -10M632 650l32 -23M637 850l17 -12M181 568l33 -23M189 478l20 -14M496 704l24 -17M522 981l34 -24M231 1038l28 -20M632 1011l22 -15M139 899l24 -17M357 1127l23 -16M540 657l24 -17M399 567l30 -21M582 666l15 -11M139 648l26 -18M146 799l32 -23M343 582l29 -21M355 1138l25 -18M579 786l31 -22M408 806l35 -25M512 987l22 -15M666 658l31 -22M571 367l34 -24M637 876l14 -10M199 968l35 -25M575 695l22 -15M138 552l22 -15M552 1021l36 -25M432 1059l30 -21M490 1124l32 -23M405 1049l32 -23M201 924l33 -23M406 1105l17 -12M358 811l15 -11M308 1109l25 -17M141 966l27 -19M553 371l28 -20M468 978l30 -21M332 503l35 -25M277 390l25 -18M574 366l33 -23M630 774l34 -24M514 631l21 -15M572 1043l21 -14M479 1075l13 -9M273 432l16 -11M183 1066l25 -18M228 381l19 -13M279 565l30 -21M461 813l17 -12M419 326l17 -12M642 461l32 -22M602 651l18 -13M627 1114l32 -23M560 420l16 -11M207 536l31 -22M600 914l27 -19M223 600l30 -21M536 597l33 -23M644 897l29 -20M464 901l29 -20M563 451l15 -11M151 377l33 -23M178 918l34 -24" stroke="#12b7bd" stroke-opacity="0.32"/><path d="M879 1150l24 -17M948 914l18 -13M878 823l21 -15M724 951l19 -13M854 630l35 -25M700 357l32 -22M722 396l20 -14M825 788l20 -14M934 950l17 -12M813 916l24 -17M781 703l15 -11M813 794l26 -18M799 690l27 -19M729 388l32 -22M780 570l24 -17M907 663l25 -18M723 631l21 -14M932 1105l36 -25M802 794l12 -8M796 923l24 -17M787 862l14 -10M924 1051l25 -18M830 1034l20 -14M735 813l14 -10M824 568l10 -7M912 609l35 -25M752 833l12 -9M851 926l29 -20M756 598l11 -8M788 660l14 -10M801 635l36 -25M913 1085l17 -12M823 664l24 -17M724 1028l30 -21M937 998l34 -24M738 811l20 -14M840 998l17 -12M917 1088l35 -24M812 484l27 -19M863 1042l30 -21M784 886l24 -17M923 471l11 -8M732 743l35 -25M862 626l33 -23M696 755l25 -17M802 523l35 -25M695 456l25 -17M918 1158l24 -17M718 586l30 -21M693 764l29 -21M772 741l27 -19M832 874l22 -15M746 529l16 -12M738 964l26 -18M937 533l11 -8M698 711l24 -17M909 516l28 -20M866 421l13 -9M932 483l17 -12M763 768l22 -16M899 1187l25 -17M716 549l25 -18M873 690l34 -24M853 670l13 -9M728 1121l19 -13M799 871l18 -12M701 714l25 -18M882 624l24 -17M744 1010l29 -20M732 842l25 -17M800 560l31 -22M920 629l33 -23M857 597l22 -15M816 1019l35 -25M809 910l12 -8M871 976l21 -15M786 960l27 -19M870 1045l15 -10M720 1106l12 -8M913 1078l34 -24M885 788l33 -23M777 1157l16 -12M926 882l27 -19M699 1167l12 -9M857 1105l18 -13M712 658l32 -22M767 428l15 -11M702 570l13 -9M685 361l35 -25M831 1171l10 -7M754 961l34 -24M914 1015l25 -17M840 456l33 -23M928 478l28 -20M819 964l18 -13M771 588l28 -20M871 930l20 -14M723 453l11 -8M785 1153l28 -19M704 687l21 -15M920 561l20 -14M796 924l29 -21M723 1108l20 -14M941 677l18 -13M786 673l13 -9M898 723l31 -22M731 1080l24 -17M692 848l22 -16M768 530l30 -21M840 766l26 -19M848 977l11 -8M710 462l22 -16M858 1024l21 -15M824 832l27 -19M754 627l35 -25M828 978l14 -10M844 1187l24 -17M923 755l35 -25M845 1120l22 -16M779 657l30 -21M766 682l21 -15M708 706l16 -11M916 675l33 -23M907 545l20 -14M804 1030l15 -10M715 483l14 -10M780 799l19 -13M929 553l19 -13M740 388l13 -9M892 613l34 -24M839 435l16 -11M781 1140l18 -12M732 515l35 -24M918 963l14 -10M863 778l18 -13M904 1061l29 -20M926 443l15 -11M788 493l26 -18M701 896l27 -19M889 936l26 -18M932 403l26 -18M875 956l25 -18M683 366l35 -25M724 1002l14 -10M787 1036l35 -24M693 1076l14 -10M726 1139l23 -16M712 764l25 -18M695 910l17 -12M941 974l14 -10M780 937l28 -20M931 772l17 -12M840 618l16 -11M777 488l20 -14M703 783l20 -14M701 677l35 -25M692 1169l35 -24M908 895l22 -15M874 789l31 -21M784 507l33 -23M894 815l14 -10M862 473l15 -10M845 826l11 -8M755 1111l21 -15M789 994l18 -12M882 785l25 -18M731 799l21 -15M920 508l29 -20M703 836l33 -23M855 384l11 -8M795 1075l22 -16M833 896l11 -7M787 647l33 -23M766 772l14 -10M897 699l17 -12M909 744l29 -21M863 1005l24 -17M870 799l32 -23M877 419l12 -8M764 1108l32 -22M894 525l33 -23M730 696l17 -12M695 605l23 -16M737 666l26 -18M758 1110l34 -24M904 659l36 -25M912 761l14 -10M714 1082l17 -12M826 999l13 -9M755 603l26 -18M822 913l12 -9M750 783l10 -7M923 481l33 -23M864 880l29 -20M836 643l32 -22M843 1004l28 -19M816 484l19 -13M716 669l10 -7M703 870l18 -12M911 901l21 -14M696 1136l16 -11M715 1152l28 -19M907 1151l25 -18M853 652l16 -11M800 1011l24 -17M875 1016l24 -17M754 486l11 -8M900 893l36 -25M896 807l36 -25M946 526l26 -18M754 813l35 -24M720 435l13 -9M762 706l25 -17M881 596l31 -22M786 809l29 -20M901 455l26 -18M684 433l31 -22M897 466l28 -20M770 717l19 -13M685 457l34 -24M911 422l30 -21M752 783l24 -17M763 763l31 -22M888 461l34 -24M916 958l22 -16M839 1066l27 -19M691 931l29 -20M818 753l21 -15M830 881l29 -20M811 721l26 -18M784 770l35 -24M815 627l14 -10M740 482l18 -12M807 628l29 -20M701 757l17 -12M801 1192l31 -22M784 1003l35 -24M744 971l30 -21M716 620l23 -16M919 895l30 -21M934 1094l27 -19M705 1068l14 -10M809 564l22 -15M780 620l13 -9M734 612l30 -21M854 679l22 -16M809 379l31 -21M942 957l27 -19M864 702l15 -11M911 942l18 -13M940 537l16 -11M849 1139l28 -19M684 464l35 -24M870 956l11 -8M920 434l20 -14M702 712l30 -21M860 722l10 -7M862 605l33 -23M746 605l33 -23M746 1049l10 -7M694 463l35 -24M796 1115l33 -23M934 654l28 -19M754 461l31 -22M889 1143l26 -19M758 1115l21 -15M783 386l33 -23M765 970l35 -24M735 1056l27 -19M789 691l30 -21M851 690l15 -10M885 662l14 -10M742 1073l25 -18M919 478l26 -18M740 1111l12 -8M769 488l19 -14M903 953l33 -23M871 974l13 -9M904 770l16 -11M715 560l29 -21M695 883l32 -22M875 995l19 -13M690 826l27 -19M746 751l17 -12M828 814l20 -14M697 539l35 -25M848 985l13 -9M942 973l12 -8M712 980l33 -23M838 1109l14 -10M802 1038l27 -19M734 562l36 -25M729 975l27 -19M827 455l35 -25M780 709l26 -18M919 873l11 -8M921 715l17 -12M805 797l23 -16M900 405l12 -8M731 505l23 -16M848 452l29 -21M913 620l13 -9M725 1094l21 -15M738 453l14 -10M684 451l34 -24M837 665l20 -14M937 909l22 -16M821 739l33 -23M869 1056l15 -10M734 586l35 -25M934 726l13 -9M902 1001l14 -10M838 949l15 -10M700 877l19 -13M924 930l21 -15M771 630l26 -18M736 1133l17 -12M923 417l32 -23M892 859l17 -12M870 915l32 -23M850 692l24 -17M733 384l28 -20M824 480l30 -21M767 1191l26 -19M916 1163l26 -18M881 979l33 -23M899 582l11 -8M813 918l18 -13M724 790l36 -25M869 1150l29 -21M731 998l20 -14M715 520l14 -10M817 857l26 -18M761 650l17 -12M909 803l32 -22M861 1083l30 -21M719 783l15 -11M921 989l19 -13M948 685l18 -13M808 741l30 -21M710 743l19 -13M885 490l31 -22M815 1111l35 -25M817 1176l26 -18M702 413l24 -17M866 911l13 -9M857 920l17 -12M910 653l31 -22M689 607l27 -19M689 884l27 -19M890 1160l15 -11M933 406l13 -9M924 631l18 -12M921 839l22 -16M892 881l11 -8M911 909l34 -24M897 907l33 -23M693 385l30 -21M774 911l27 -19M782 981l27 -19M910 1071l19 -13M897 422l26 -18M921 870l28 -20M769 416l20 -14M747 416l26 -18M858 1106l19 -13M745 488l32 -23M888 444l12 -8M893 830l24 -17M803 884l29 -20M901 563l30 -21M791 668l27 -19M831 771l31 -22M739 467l15 -10M714 956l31 -22M921 756l31 -22M730 1135l30 -21M814 862l36 -25M849 671l31 -22M852 1034l17 -12M859 1000l24 -17M764 939l25 -18M843 931l24 -17M818 1166l13 -9M921 654l27 -19M923 482l19 -14M736 682l20 -14M896 442l30 -21M826 494l26 -19M855 945l19 -13M892 498l16 -11M797 868l22 -16M799 806l15 -11M829 725l17 -12M891 583l28 -20M732 670l13 -9M709 1096l16 -11M815 859l25 -17M843 846l17 -12M824 432l36 -25M692 481l22 -16M859 458l15 -11M793 607l11 -8M794 1092l36 -25M826 785l23 -16M830 1101l32 -23M708 469l14 -10M930 826l14 -10M897 1065l18 -12M735 1016l34 -24M923 988l26 -19M829 1025l12 -9M803 373l27 -19M787 1109l13 -9M919 510l12 -8M783 1068l23 -16M696 583l16 -11M846 632l24 -17M725 534l18 -13M864 1049l26 -18M847 1024l16 -11M810 394l19 -13M745 1072l15 -11M911 634l20 -14M790 769l34 -24M867 848l22 -15M930 460l16 -11M785 451l27 -19M894 544l27 -19M746 980l15 -11M884 794l14 -10M818 932l12 -8M728 821l34 -24M703 350l30 -21M776 1051l10 -7M790 1120l22 -16M765 724l31 -22M797 671l17 -12M944 573l20 -14M863 759l27 -19M846 532l23 -16M738 601l21 -15M699 979l29 -21M872 1003l32 -22M710 393l28 -19M693 523l21 -15" stroke="#b4d22e" stroke-opacity="0.08"/><path d="M876 794l30 -21M871 1157l23 -16M848 807l10 -7M896 683l15 -10M782 814l22 -15M783 754l10 -7M901 975l14 -10M743 503l22 -15M888 440l28 -19M857 758l18 -13M758 496l27 -19M874 1008l32 -23M827 596l32 -23M751 622l22 -15M818 760l10 -7M738 495l12 -9M746 1043l16 -11M765 561l32 -23M902 469l11 -8M804 844l15 -11M908 1169l30 -21M818 513l29 -21M819 1087l17 -12M801 804l18 -13M760 577l13 -9M911 671l32 -23M794 831l13 -9M948 975l11 -8M809 1033l15 -11M849 1037l12 -9M886 578l28 -19M841 1095l16 -11M752 815l31 -22M706 799l16 -12M769 947l19 -13M706 509l24 -17M777 946l18 -13M838 905l21 -15M743 480l14 -10M829 951l11 -8M729 480l24 -17M846 1066l13 -9M903 847l12 -9M856 912l22 -15M936 671l30 -21M736 848l15 -11M783 620l10 -7M875 704l15 -11M705 954l36 -25M924 691l25 -17M723 778l18 -13M782 983l22 -16M927 816l16 -11M875 737l18 -13M705 408l18 -13M909 942l24 -17M713 556l22 -15M900 1053l20 -14M718 1151l18 -12M861 493l13 -9M745 983l17 -12M807 1092l18 -13M815 521l31 -22M866 1025l36 -25M898 629l22 -15M691 462l36 -25M828 391l25 -18M704 852l11 -8M697 430l35 -25M892 881l23 -16M826 407l23 -16M911 1153l26 -18M866 624l33 -23M776 735l30 -21M740 687l32 -22M893 896l35 -24M722 483l10 -7M928 1091l12 -8M733 640l28 -19M927 978l28 -20M857 815l36 -25M755 671l13 -9M940 649l29 -20M736 622l29 -21M803 695l14 -10M782 830l17 -12M934 802l35 -24M871 582l10 -7M690 446l34 -24M939 1018l22 -16M704 368l20 -14M868 581l35 -24M753 644l18 -13M884 437l19 -13M892 924l31 -22M760 768l18 -13M750 1080l15 -10M707 924l21 -14M811 799l29 -20M760 713l29 -20M844 623l18 -12M784 1102l23 -16M726 1119l19 -13M925 1033l34 -24M819 590l26 -18M909 1175l36 -25M771 469l23 -16M741 896l22 -15M761 1044l28 -20M787 843l30 -21M708 769l23 -16M945 482l10 -7M727 779l36 -25M899 1051l18 -13M782 493l16 -11M701 665l14 -10M709 1115l26 -18M844 1118l32 -23M853 928l32 -22M942 922l15 -10M726 549l21 -15M837 898l30 -21M838 631l19 -13M865 673l20 -14M904 612l22 -16M699 691l23 -16M940 627l28 -19M906 707l25 -17M749 476l11 -8M759 607l27 -19M768 899l24 -17M708 1010l20 -14M708 1042l15 -11M740 615l13 -9M888 1155l36 -25M853 731l11 -8M934 812l19 -13M787 772l29 -20M871 449l23 -16M883 1003l30 -21M941 1003l22 -15M694 638l31 -22M904 1125l32 -23M867 765l35 -25M746 1155l20 -14M918 645l33 -23M753 493l31 -22M821 718l29 -20M757 1098l18 -12M924 956l36 -25M847 877l35 -24M698 422l34 -24M814 709l20 -14M910 737l33 -23M750 989l10 -7M950 944l13 -9M756 755l24 -17M924 1088l26 -18M880 1089l20 -14M888 675l31 -22M736 741l18 -12M776 903l18 -13M725 578l31 -22M702 421l14 -10M758 723l34 -24M769 559l25 -18M789 680l17 -12M788 950l18 -13M734 1139l18 -13M950 494l11 -7M804 761l16 -11M912 618l17 -12M722 1039l34 -24M701 727l35 -24M796 755l33 -23M788 1175l10 -7M786 482l24 -17M877 941l10 -7M783 640l21 -15M738 444l29 -21M888 638l34 -24M852 430l36 -25M920 727l34 -24M690 861l29 -21M830 1149l24 -17M850 493l35 -25M800 994l20 -14M860 793l27 -19M824 793l27 -19M709 1036l24 -17M919 441l21 -15M694 377l30 -21M899 481l10 -7M856 533l22 -16M907 614l20 -14M775 538l32 -23M905 933l35 -25M771 904l16 -11M686 771l31 -22M811 1157l20 -14M914 605l29 -20M796 727l27 -19M691 1067l31 -22M723 592l27 -19M865 800l21 -15M755 392l18 -12M792 383l20 -14M854 703l21 -15M903 1071l22 -15M760 1169l33 -23M875 606l18 -12M922 549l21 -15M719 1166l30 -21M826 1179l30 -21M928 743l32 -23M696 450l21 -15M767 1146l25 -17M930 478l22 -15M826 662l25 -18M767 665l17 -12M729 1128l24 -17M755 827l33 -23M897 433l29 -21M764 896l12 -9M861 657l31 -22M781 711l28 -20M805 899l20 -14M822 549l33 -23M941 730l32 -22M943 529l23 -16M903 734l10 -7M772 782l20 -14M729 946l24 -17M951 657l10 -7M907 550l28 -19M771 1050l13 -9M778 564l28 -19M726 582l15 -11M788 1135l25 -18M922 1125l36 -25M941 1142l22 -15M898 785l10 -7M883 783l13 -9M929 932l30 -21M698 598l28 -20M917 443l16 -11M853 1051l23 -16M687 750l27 -19M773 497l32 -22M697 460l29 -20M767 818l11 -8M930 557l32 -22M855 794l26 -18M921 905l22 -15M760 930l16 -12M931 584l33 -23M767 971l26 -19M710 428l34 -24M950 918l12 -9M812 501l14 -10M794 586l29 -21M845 434l10 -7M771 1029l23 -16M923 1117l25 -18M821 478l24 -17M806 982l17 -12M866 757l13 -9M859 1170l28 -20M763 398l14 -10M818 664l26 -19M867 876l14 -10M923 732l17 -12M772 838l36 -25M847 522l26 -18M925 637l14 -10M764 997l36 -25M825 1178l31 -22M795 680l25 -17M921 606l15 -11M863 514l35 -25M838 1113l15 -10M865 893l33 -23M914 570l11 -7M721 493l36 -25M893 871l27 -19M828 833l22 -15M812 1124l18 -12M870 566l30 -21M723 513l18 -12M827 986l26 -19M699 921l36 -25M798 1020l19 -13M868 462l25 -17M890 1015l29 -20M807 485l14 -10M933 1125l17 -12M699 407l25 -18M699 1137l35 -24M781 758l31 -22M818 485l35 -25M850 672l12 -9M918 672l25 -17M707 1128l34 -24M903 496l31 -22M763 898l33 -23M758 513l23 -16M899 1093l24 -17M759 531l31 -21M844 799l31 -22M696 927l35 -25M783 673l20 -14M707 964l17 -12M871 519l20 -14M840 942l20 -14M913 806l15 -10M751 579l30 -21M697 372l14 -10M704 751l28 -20M878 1092l30 -21M711 810l33 -23M930 727l31 -22M874 411l22 -15M707 1006l25 -18M795 987l21 -15M713 494l26 -18M936 587l14 -10M817 866l19 -13M723 956l24 -17M821 870l23 -16M792 848l31 -22M842 534l22 -15M946 772l29 -21M816 898l12 -8M810 941l22 -16M697 971l35 -25M771 604l24 -17M826 525l20 -14M849 938l27 -19M841 420l27 -19M869 447l26 -18M889 975l20 -14M698 424l33 -23M797 1125l32 -22M822 360l19 -14M911 1163l19 -13M797 558l22 -15M766 1124l18 -12M885 1087l11 -8M718 811l13 -9M770 893l20 -14M850 699l15 -11M738 724l26 -18M708 1087l20 -14M836 691l15 -10M929 438l29 -20M889 1153l30 -21M685 837l32 -23M705 646l16 -11M853 471l33 -23M769 614l30 -21M784 697l11 -8M800 636l34 -24M861 791l31 -22M801 846l15 -10M807 915l33 -23M811 1001l22 -16M946 987l13 -9M825 543l31 -22M786 1113l21 -15M754 989l30 -21M939 410l25 -17M857 472l13 -9M916 856l28 -20M778 718l12 -9M915 464l24 -17M721 598l13 -9M809 736l20 -14M926 416l17 -12M707 1127l15 -10M801 729l11 -8M794 1138l27 -19M874 815l35 -24M902 1075l32 -23M849 885l28 -19M847 591l21 -14M830 660l32 -22M768 1145l30 -21M817 403l14 -10M771 395l15 -11M717 591l28 -20M783 388l36 -25M930 896l29 -20M807 461l34 -24M857 910l15 -10M799 659l29 -20M766 573l13 -9M740 783l17 -12M759 1041l27 -19M921 825l21 -15M725 862l25 -17M923 1074l10 -7M842 899l32 -23M835 742l26 -18M876 912l35 -25M747 718l15 -11M803 947l34 -24M804 1107l35 -24M722 964l21 -15M943 505l21 -15M799 1172l25 -17M722 465l14 -10M766 847l30 -21M719 982l14 -10M941 386l20 -14M874 871l10 -7M719 885l26 -18M776 635l30 -21M853 1165l11 -8M723 880l15 -11M698 646l10 -7M725 971l34 -24M702 911l15 -11M858 743l27 -19M864 391l31 -22M928 744l24 -17M783 501l31 -22M737 841l15 -10M698 372l23 -16M845 714l22 -15M923 465l28 -20M842 601l33 -23M861 764l23 -16M702 608l29 -20M781 909l23 -16M702 428l17 -12M707 915l16 -11M766 1129l24 -17M915 1038l13 -9M804 463l15 -11M816 888l13 -9M806 1072l28 -20M769 600l28 -20M746 820l16 -11M919 729l33 -23M728 794l18 -13M802 540l30 -21M917 441l30 -21M873 795l28 -19M752 983l18 -13M909 1028l23 -16M860 962l32 -23M878 640l20 -14M929 504l28 -20M921 1055l19 -14M767 919l29 -20M774 1155l20 -14M822 754l22 -15M841 880l28 -19M766 861l31 -22M768 1066l12 -8M873 1146l11 -8M789 931l16 -11M884 609l34 -24M700 642l28 -20M786 806l27 -19M787 1048l13 -9M690 1055l35 -25M832 1022l16 -11M788 687l23 -16M758 1181l27 -19M844 1089l15 -10M848 726l29 -20M909 695l31 -22M843 1060l30 -21M794 706l31 -22M766 827l17 -12M736 872l27 -19M901 735l17 -12M815 734l21 -15M891 1050l11 -8M879 1030l11 -8M779 622l16 -12M741 581l18 -12M882 834l13 -9M771 539l23 -16M731 462l14 -10M883 698l11 -8M848 927l23 -16M738 435l24 -17M943 533l23 -16M700 940l11 -8M876 429l17 -12M929 648l26 -18M699 521l20 -14M817 778l25 -17M929 778l26 -18M690 934l27 -19M824 658l14 -10M741 1033l10 -7M788 790l24 -17M782 859l31 -21M780 389l19 -13M804 446l36 -25M863 1117l23 -16M886 1115l34 -24M754 896l14 -10M748 1160l23 -16M803 726l13 -9M899 948l34 -24M940 758l24 -17M785 519l11 -8M884 769l25 -17M933 1016l30 -21M818 927l33 -23M841 683l19 -14M912 978l27 -19M799 448l15 -10M906 710l24 -17M864 593l20 -14M759 417l14 -10M788 613l22 -15M845 682l33 -23M893 446l25 -18M767 863l14 -10M730 894l32 -23M703 1004l14 -10M926 932l19 -13M839 816l32 -22M761 733l14 -10M939 506l19 -14M816 843l35 -25M896 621l11 -8M775 898l14 -10M688 815l31 -22M765 824l22 -16M846 1127l19 -14M891 418l29 -20M784 1143l32 -22M854 911l27 -19M756 457l29 -20M742 523l26 -18M854 911l17 -12M810 678l20 -14M931 973l28 -20M872 843l32 -22M727 498l19 -13M941 539l28 -20M757 1086l32 -22M830 629l20 -14M779 449l22 -15M932 749l24 -17M777 518l23 -16M824 930l28 -19M801 511l35 -24M865 376l24 -17M890 594l20 -14M878 657l27 -19M789 1115l11 -8M789 1114l33 -23M829 710l14 -10M792 896l20 -14M890 757l24 -17M934 1051l14 -10M952 1031l13 -9M888 637l17 -12M829 992l36 -25M763 790l11 -8M907 1146l29 -20M696 418l19 -13M906 918l11 -8M871 967l33 -23M723 1004l11 -8M712 1115l21 -15M697 468l12 -9M798 886l23 -16M882 729l21 -15M828 903l25 -18M875 471l35 -25M695 1150l18 -12M804 899l36 -25M853 1118l34 -24M899 774l34 -24M845 600l10 -7M875 837l30 -21M738 485l27 -19M903 653l28 -20M931 1111l35 -25M926 930l29 -21M729 506l33 -23M840 402l33 -23M952 1007l14 -10M843 526l16 -11M884 655l23 -16M898 987l35 -25M837 1086l11 -8M693 959l32 -22M933 506l25 -18M803 990l21 -15M900 695l27 -19M865 872l36 -25M813 811l14 -10M863 767l31 -22M843 568l14 -10M939 815l17 -12M878 756l23 -16M715 442l17 -12M795 681l12 -9M877 531l15 -10M919 1107l16 -11M776 821l27 -19M750 1052l29 -20M871 521l31 -21M799 999l15 -11M852 384l15 -11M792 631l20 -14M891 1160l22 -15M892 611l18 -13M885 1060l34 -24M844 845l17 -12M835 928l32 -22M695 788l10 -7M713 685l23 -16M745 1091l14 -10M769 939l11 -8M759 793l23 -16M866 594l19 -14M763 846l36 -25M855 867l14 -10M710 511l20 -14M714 350l15 -11M874 843l21 -15M814 1044l14 -10M870 586l30 -21M836 448l20 -14M764 1155l28 -20M790 688l16 -12M705 1097l28 -20M758 1113l17 -12M735 988l22 -15M853 1075l12 -8M733 610l32 -22M897 618l10 -7M774 1036l26 -18M911 1006l28 -19M784 890l33 -23M814 731l34 -24M788 836l29 -20M783 864l27 -19M881 858l19 -13M835 846l33 -23M877 555l30 -21M750 431l22 -15M804 1172l15 -11M723 578l25 -17M848 713l36 -25M720 1018l35 -24M786 911l33 -23M809 1000l25 -18M759 1158l34 -24M866 997l11 -8M796 1058l36 -25M920 718l35 -25M843 402l31 -22M712 361l16 -11M862 853l23 -16M776 844l28 -19M877 526l27 -19M774 750l26 -18M697 899l29 -21M902 930l16 -12M916 577l16 -11M890 643l13 -9M708 357l21 -15M760 1120l21 -15M755 400l25 -18M943 689l22 -15M925 721l12 -9M766 1138l22 -15M922 616l35 -25M711 397l29 -21M879 569l36 -25M930 691l11 -8M860 1083l30 -21M790 862l23 -16M747 532l12 -8M923 1064l12 -9M748 568l34 -24M876 1075l23 -16M939 526l21 -15M941 887l28 -20M881 457l21 -15M831 500l26 -18M876 999l12 -9M711 386l26 -18M765 1020l32 -22M714 725l10 -7M919 911l25 -17M933 562l29 -21M812 1114l18 -13M936 1003l19 -13M810 1125l21 -15M766 527l20 -14M700 488l29 -20M843 774l13 -9M741 547l20 -14M713 897l35 -25M867 518l15 -11M827 394l21 -14M699 1055l33 -23M842 707l24 -17M765 1169l18 -13" stroke="#b4d22e" stroke-opacity="0.13"/><path d="M553 453l26 -18M244 711l27 -19M274 401l33 -23M402 644l26 -18M152 464l11 -8M428 797l30 -21M282 1043l12 -9M289 899l23 -16M159 617l33 -23M555 904l35 -25M282 313l27 -19M344 974l21 -15M290 451l27 -19M294 946l19 -13M315 684l10 -7M674 799l22 -15M626 594l13 -9M448 685l16 -11M663 1046l20 -14M220 331l22 -15M473 323l21 -15M618 932l11 -8M333 1049l11 -8M180 922l25 -18M685 444l14 -10M411 383l14 -10M544 586l26 -18M352 1129l31 -22M399 1082l11 -8M361 991l22 -15M658 1082l21 -15M529 701l35 -25M492 1082l30 -21M323 929l18 -12M625 386l34 -24M611 411l21 -15M534 425l23 -16M342 821l17 -12M390 423l26 -18M585 792l20 -14M384 367l15 -10M570 961l36 -25M484 318l24 -17M249 1077l26 -19M237 392l16 -11M187 614l33 -23M601 833l12 -8M392 965l23 -16M208 972l21 -15M648 1174l35 -25M333 1054l33 -23M587 1157l26 -18M509 542l21 -15M405 1145l33 -23M248 1089l11 -8M463 762l17 -12M240 788l19 -13M605 1084l18 -12M194 734l24 -17M145 710l12 -9M575 710l21 -14M397 489l15 -11M141 865l24 -17M677 559l34 -24M152 1019l31 -22M170 697l13 -9M276 398l32 -23M172 549l21 -15M262 419l20 -14M210 948l23 -16M354 488l32 -23M289 333l27 -19M675 978l25 -17M447 934l15 -11M289 450l19 -13M392 1039l11 -8M315 491l26 -19M421 765l19 -13M164 467l22 -16M351 1008l19 -13M601 836l35 -25M481 619l30 -21M233 849l33 -23M263 1111l28 -20M459 1118l33 -23M642 667l25 -17M438 871l19 -13M506 475l22 -15M683 375l14 -10M244 898l13 -9M429 963l30 -21M285 1081l12 -8M519 1002l13 -9M684 856l12 -8M242 1047l27 -19M168 584l22 -16M352 970l31 -22M279 905l32 -22M576 588l10 -7M518 937l14 -10M537 736l20 -14M598 1132l16 -11M667 786l19 -14M635 667l13 -9M143 679l24 -17M619 599l24 -17M483 1045l18 -13M548 705l35 -25M153 351l20 -14M193 553l25 -18M177 968l18 -13M472 750l11 -8M441 954l14 -10M255 446l17 -12M194 750l32 -22M280 542l13 -9M686 1022l22 -15M549 942l26 -18M281 767l35 -25M235 817l17 -12M438 478l33 -23M274 968l17 -12M405 1141l19 -13M422 835l17 -12M451 558l25 -17M239 783l31 -22M655 443l11 -8M609 733l11 -8M457 875l20 -14M177 370l10 -7M305 589l13 -9M355 1105l26 -19M497 1158l35 -25M195 965l28 -20M204 732l24 -17M542 478l23 -16M614 934l25 -17M260 901l35 -25M598 589l36 -25M679 699l31 -22M297 1140l34 -24M597 354l26 -18M502 920l24 -17M263 918l15 -11M364 424l23 -16M178 680l25 -18M147 1077l12 -8M559 941l34 -24M339 1060l13 -9M618 513l18 -12M282 686l29 -20M219 862l14 -10M574 789l34 -24M463 838l33 -23M508 673l31 -22M662 398l23 -16M284 361l32 -22M394 337l18 -12M350 634l31 -22M251 432l18 -13M369 844l34 -24M600 508l11 -8M342 877l10 -7M416 583l27 -19M244 1041l33 -23M664 849l19 -13M194 1091l12 -8M428 465l24 -17M157 494l21 -15M297 466l25 -18M451 888l30 -21M251 512l35 -24M303 795l27 -19M217 409l23 -16M512 773l16 -12M388 351l33 -23M379 740l14 -10M228 1041l14 -10M627 523l13 -9M262 773l29 -20M542 612l32 -22M455 1005l24 -17M653 642l28 -19M272 692l13 -9M164 852l13 -9M338 613l10 -7M501 459l13 -9M182 571l25 -17M356 631l21 -15M252 448l18 -12M150 381l28 -20M472 797l23 -16M539 587l24 -17M435 468l30 -21M436 754l22 -15M323 629l31 -22M404 1009l28 -20M535 941l15 -10M477 607l23 -17M538 863l24 -17M300 665l33 -23M268 509l30 -21M513 822l20 -14M335 1134l21 -15M545 1127l20 -14M331 1127l14 -10M652 568l22 -16M573 586l35 -24M605 473l27 -19M305 414l30 -21M350 412l24 -17M221 1103l10 -7M452 928l16 -11M453 1135l29 -21M244 484l30 -21M530 990l17 -12M429 442l17 -12M389 398l33 -23M260 718l16 -11M240 800l21 -15M238 574l20 -14M429 439l35 -25M314 932l32 -22M445 396l23 -16M249 1026l31 -22M360 1064l19 -13M211 528l27 -19M332 785l18 -12M384 734l19 -14M324 552l10 -7M434 935l18 -13M286 497l35 -24M391 415l17 -12M285 1056l34 -24M313 544l28 -19M190 562l29 -20M227 497l12 -9M287 479l33 -23M357 447l33 -23M363 517l26 -18M206 1079l20 -14M582 850l30 -21M500 492l26 -19M147 1091l33 -23M201 953l31 -22M248 995l12 -8M167 784l23 -16M553 931l18 -13M150 383l15 -10M562 618l30 -21M345 994l28 -20M472 715l10 -7M274 1008l12 -8M376 516l16 -12M635 1106l21 -14M502 1091l16 -11M178 1109l32 -23M600 723l24 -17M284 483l20 -14M408 704l26 -18M455 1088l24 -17M611 518l36 -25M257 1020l23 -16M417 1060l19 -13M479 876l35 -25M528 1111l11 -7M151 625l17 -12M359 462l12 -9M161 479l21 -15M333 996l30 -21M166 827l19 -14M225 789l12 -8M393 642l22 -16M246 921l12 -8M312 555l23 -16M470 1019l25 -17M652 816l28 -20M509 786l33 -23M599 395l25 -18M576 481l34 -24M528 563l22 -16M517 1124l29 -20M590 877l27 -19M391 622l14 -10M163 755l31 -22M242 325l25 -17M284 604l35 -24M496 965l27 -19M202 528l36 -25M344 646l35 -25M458 743l26 -18M245 910l23 -16M307 702l32 -23M311 330l23 -16M581 1062l30 -21M532 386l13 -9M475 912l18 -13M368 868l11 -8M177 566l28 -19M217 475l20 -14M215 956l20 -14M151 1090l10 -7M596 972l15 -10M511 643l28 -19M143 603l26 -18M683 1052l11 -8M615 618l24 -17M162 434l19 -13M426 673l10 -7M410 360l19 -14M478 376l25 -18M526 516l20 -14M196 751l21 -14M264 473l22 -15M137 1079l29 -21M426 1042l33 -23M529 967l19 -13M361 755l17 -12M341 1151l33 -23M450 712l34 -24M501 840l31 -22M296 337l23 -16M430 1051l34 -24M476 927l15 -11M625 962l12 -8M313 850l32 -22M641 581l23 -16M302 726l17 -12M589 867l36 -25M387 612l22 -16M577 1119l25 -18M557 646l26 -19M191 440l36 -25M489 1019l31 -22M177 571l15 -10M369 1074l20 -14M425 724l30 -21M234 470l20 -14M214 491l21 -15M187 755l25 -17M382 604l25 -17M651 933l33 -23M337 482l16 -11M569 979l27 -19M308 1120l14 -10M596 832l29 -21M510 1016l19 -14M173 944l26 -18M555 490l17 -12M551 1036l12 -8M496 987l11 -8M493 376l32 -23M507 396l21 -15M576 664l31 -22M373 593l32 -22M660 849l17 -12M310 946l18 -13M315 917l33 -23M380 591l16 -11M349 448l14 -10M629 393l21 -15M497 410l11 -8M621 972l24 -17M231 983l24 -17M648 1119l21 -15M146 449l33 -23M325 600l19 -14M359 691l24 -17M186 382l14 -10M299 1099l22 -16M237 816l17 -12M569 537l33 -23M627 906l18 -13M155 969l13 -9M294 948l21 -15M633 726l17 -12M400 344l22 -15M472 652l24 -17M294 398l16 -12M173 950l17 -12M299 373l10 -7M221 797l29 -20M633 857l27 -19M600 386l12 -8M282 1010l18 -13M225 336l14 -10M505 1107l32 -22M645 743l23 -16M436 696l16 -12M319 742l23 -16M350 659l12 -8M532 795l12 -8M581 919l18 -12M666 622l33 -23M159 1066l20 -14M672 1158l30 -21M453 465l22 -15M621 894l21 -14M170 752l31 -22M651 752l29 -20M529 1121l21 -14M599 385l20 -14M647 439l25 -18M295 1143l35 -25M459 717l16 -12M152 972l15 -11M651 1131l18 -13M179 1084l35 -25M145 409l11 -8M543 427l26 -18M276 756l35 -25M453 711l20 -14M465 831l10 -7M365 900l27 -19M445 324l29 -21M679 730l15 -11M530 579l24 -17M449 1132l33 -23M664 858l17 -12M582 1101l32 -22M167 460l30 -21M324 743l23 -16M312 531l34 -24M679 1059l28 -20M471 497l12 -8M439 920l14 -10M370 521l34 -24M156 973l29 -21M388 952l20 -14M355 970l24 -17M166 628l27 -19M638 930l28 -20M670 650l21 -15M327 657l18 -12M168 916l27 -19M222 906l16 -11M555 641l23 -16M265 762l26 -18M148 816l26 -19M523 802l33 -23M199 511l30 -21M366 684l20 -14M609 515l16 -12M290 1034l31 -22M350 425l33 -23M325 390l31 -22M448 829l16 -11M376 694l26 -18M546 676l25 -18M423 921l11 -8M407 493l25 -18M615 771l34 -24M588 494l31 -22M402 441l15 -10M473 978l29 -20M446 609l28 -20M584 1004l15 -11M435 991l28 -20M275 429l32 -23M191 744l11 -7M210 573l30 -21M580 907l14 -10M204 649l29 -20M409 1018l32 -22M685 1160l18 -13M283 788l35 -25M318 663l29 -20M659 1025l30 -21M387 406l24 -17M557 436l30 -21M148 470l12 -8M239 749l14 -10M517 823l35 -25M412 949l17 -12M418 612l30 -21M598 824l21 -15M606 1125l15 -10M343 581l19 -14M470 1101l18 -13M214 742l20 -14M537 1154l28 -19M251 470l18 -13M657 680l29 -20M179 835l29 -20M619 394l23 -16M425 1015l13 -9M366 598l25 -18M225 622l11 -8M179 781l31 -22M677 494l17 -12M331 341l26 -19M374 1008l11 -8M306 347l15 -11M455 761l21 -14M428 1093l18 -13M251 710l17 -12M262 466l19 -13M671 1113l34 -24M668 402l23 -16M404 773l25 -17M646 446l33 -23M418 911l16 -11M306 924l36 -25M661 532l15 -10M371 330l22 -15M671 601l17 -12M394 679l12 -8M497 1063l22 -16M597 340l28 -20M640 1024l12 -9M507 391l25 -17M581 576l27 -19M588 826l10 -7M362 798l31 -21M188 470l16 -11M170 991l13 -9M450 611l35 -25M337 771l31 -22M249 357l10 -7M149 395l23 -16M655 416l15 -11M430 977l34 -24M321 463l13 -9M246 323l24 -17M457 391l26 -18M225 729l17 -12M349 1008l18 -13M521 1101l35 -25M470 422l36 -25M580 899l27 -19M448 1115l27 -19M388 759l21 -15M405 325l32 -22M284 724l26 -18M278 863l27 -19M622 1080l13 -9M293 483l22 -16M623 436l36 -25M402 331l24 -17M233 761l23 -16M518 419l34 -24M383 883l22 -15M323 817l24 -17M660 1136l20 -14M564 1063l33 -23M369 954l12 -9M465 1051l29 -20M385 719l12 -9M479 491l25 -18M247 925l16 -11M452 921l11 -8M609 910l18 -13M670 402l22 -15M350 653l27 -19M263 1066l16 -11M681 941l16 -11M286 934l15 -10M194 567l22 -16M439 462l14 -10M221 630l24 -17M384 1159l28 -20M148 1051l33 -23M540 453l32 -23M571 944l13 -9M597 507l16 -12M590 1170l33 -23M357 1045l31 -21M431 563l12 -8M670 920l34 -24M579 1011l22 -16M538 537l11 -8M185 684l35 -25M445 667l21 -15M315 541l10 -7M380 836l27 -19M375 782l20 -14M156 626l13 -9M339 386l17 -12M377 549l33 -23M505 553l23 -16M265 346l24 -17M418 988l21 -15M206 816l13 -9M631 858l18 -13M493 737l21 -14M242 700l22 -16M451 1146l22 -15M192 606l35 -25M364 363l32 -23M377 804l33 -23M285 1020l23 -16M175 474l13 -9M163 1004l31 -22M342 1140l22 -15M677 1079l24 -17M384 719l20 -14M539 821l36 -25M204 1006l21 -15M379 883l23 -16M260 411l33 -23M146 586l29 -21M462 1133l35 -24M564 1088l11 -8M395 1129l35 -24M522 630l33 -23M652 499l29 -20M611 707l23 -16M484 410l27 -19M631 339l12 -8M177 1069l30 -21M147 443l17 -12M641 421l16 -11M586 818l13 -9M534 649l31 -22M513 548l14 -10M416 744l23 -16M504 1035l26 -18M653 1158l28 -20M563 1108l21 -14M391 738l29 -20M358 674l32 -22M295 839l20 -14M224 948l22 -15M208 972l16 -11M330 964l16 -11M170 684l26 -19M500 1007l21 -15M467 854l17 -12M610 553l29 -21M429 789l18 -13M154 892l14 -10M266 877l33 -24M578 506l18 -12M488 569l17 -12M466 534l26 -18M535 367l11 -8M215 583l25 -17M192 946l14 -10M450 398l18 -13M563 1070l14 -10M186 338l23 -16M685 755l19 -14M481 383l23 -16M558 867l35 -24M435 554l27 -19M594 446l22 -15M433 409l25 -18M502 429l32 -23M532 811l11 -8M285 348l19 -13M459 1098l29 -20M203 1087l13 -9M604 499l35 -24M515 396l19 -13M205 901l27 -19M526 745l29 -20M537 498l15 -11M581 1050l21 -15M165 353l16 -11M340 533l22 -16M382 913l17 -12M384 669l23 -16M490 1101l32 -22M139 601l27 -19M488 418l29 -20M342 979l12 -8M366 888l23 -16M316 582l23 -16M658 810l35 -25M528 456l14 -10M302 701l10 -7M487 501l27 -19M375 1098l33 -23M487 1035l28 -19M242 1034l27 -19M225 1039l22 -15M284 1046l34 -24M255 702l11 -7M613 467l34 -24M659 1058l13 -9M401 982l11 -8M390 522l34 -24M468 934l17 -12M269 329l33 -24M177 1101l18 -13M347 663l35 -24M567 945l16 -11M435 1091l26 -18M634 955l34 -24M341 1081l18 -13M482 906l31 -21M469 643l34 -24M393 481l26 -18M272 547l35 -25M207 849l36 -25M183 735l27 -19M151 1071l34 -24M419 345l14 -10M535 435l21 -15M386 560l21 -15M324 889l10 -7M449 909l32 -23M508 1068l25 -18M438 1002l34 -24M312 538l16 -12M505 1052l22 -16M206 1090l27 -19M283 689l35 -25M660 584l11 -8M366 556l36 -25M149 1035l23 -16M211 519l24 -17M511 602l26 -18M249 837l31 -22M373 932l35 -25M354 714l25 -18M378 800l33 -23M317 803l28 -20M365 1067l15 -10M628 816l24 -17M605 620l33 -23M289 534l33 -23M317 1090l12 -8M662 820l33 -23M497 622l17 -12M399 876l31 -22M477 764l30 -21M551 881l22 -15M583 416l21 -14M591 515l16 -11M162 840l32 -22M544 849l33 -23M674 933l29 -20M259 804l35 -25M247 621l29 -20M540 814l29 -20M663 1073l13 -9M281 564l34 -24M641 513l24 -17M392 900l22 -16M169 815l24 -17M226 573l10 -7M339 719l27 -19M416 451l32 -22M285 973l27 -19M420 365l21 -15M184 998l35 -25M561 890l13 -9M440 733l17 -12M327 434l13 -9M550 917l19 -13M211 1086l29 -20M147 934l28 -20M551 1017l21 -15M306 985l13 -9M252 1056l27 -19M219 698l35 -24M293 520l24 -17M543 560l23 -16M144 787l35 -25M673 650l34 -24M402 360l24 -17M313 645l28 -20M674 1167l21 -15M438 993l29 -20M329 1103l21 -14M322 355l22 -15M512 569l33 -23M658 947l36 -25M562 1031l34 -24M224 831l30 -21M196 522l34 -24M378 896l25 -17M502 888l16 -11M386 1130l27 -19M224 852l24 -17M434 1157l17 -12M270 341l15 -10M354 1083l35 -25M558 865l21 -15M283 923l13 -9M504 510l24 -17M337 565l32 -23M481 853l15 -11M477 745l11 -8M626 320l24 -17M319 1097l20 -14M476 387l15 -11M542 1073l29 -20M346 395l15 -10M433 995l14 -10M607 642l22 -15M163 1083l13 -9M390 1136l26 -19M588 826l23 -16M430 932l25 -18M255 497l30 -21M333 657l20 -14M365 861l29 -21M647 1054l17 -12M595 1162l24 -17M283 1017l15 -10M256 820l28 -19M152 594l15 -10M658 997l21 -15M562 1072l24 -17M510 379l12 -8M563 686l12 -8M231 513l19 -13M357 918l15 -11M554 454l15 -11M488 775l21 -15M510 630l32 -23M242 752l22 -16M221 932l13 -9M402 611l34 -24M598 984l25 -17M656 768l14 -10M276 708l34 -24M643 618l17 -12M214 1092l26 -18M184 577l16 -11M671 505l12 -8M483 736l14 -10M575 405l23 -16M452 741l12 -8M635 1036l27 -19M573 650l21 -15M365 532l23 -16M438 532l33 -23M667 902l14 -10M305 1133l16 -11M341 590l17 -12M247 429l12 -9M318 934l22 -15M225 913l13 -9M449 1063l28 -20M266 828l34 -24M550 1040l10 -7M561 1003l35 -25M625 883l18 -13M197 532l15 -10M347 932l33 -23M597 832l29 -20" stroke="#b4d22e" stroke-opacity="0.18"/><path d="M608 948l29 -21M499 367l12 -8M372 796l27 -19M244 627l32 -23M412 778l34 -24M436 643l19 -14M320 343l17 -12M442 381l33 -23M181 401l10 -7M225 437l15 -10M331 508l35 -25M401 655l35 -24M347 1114l31 -21M496 948l17 -12M352 632l34 -24M477 813l31 -22M580 960l13 -9M339 1116l16 -11M489 386l34 -24M647 788l32 -23M675 916l34 -24M665 441l29 -20M202 589l12 -9M375 590l34 -24M270 331l13 -9M463 469l12 -9M231 915l28 -20M434 936l17 -12M426 569l19 -14M296 507l30 -21M403 394l31 -22M433 537l23 -16M437 980l19 -13M330 1066l16 -11M177 635l16 -11M431 654l14 -10M500 658l16 -11M383 908l24 -17M601 494l21 -15M353 1129l34 -24M495 1011l17 -12M638 1070l14 -10M552 691l21 -15M522 453l20 -14M453 676l20 -14M382 629l31 -22M494 632l10 -7M600 999l26 -18M210 597l28 -20M529 600l35 -24M207 343l21 -15M607 634l18 -12M397 788l34 -24M152 710l24 -17M683 366l16 -11M308 585l17 -12M520 641l34 -24M521 642l32 -22M227 871l29 -21M175 436l19 -13M161 354l27 -19M414 1024l25 -18M586 470l35 -25M680 480l24 -17M544 892l15 -10M584 1141l13 -9M237 667l11 -8M263 607l31 -22M231 480l13 -9M663 999l23 -16M281 943l18 -13M268 571l26 -18M463 722l20 -14M483 1125l16 -12M356 609l31 -21M337 774l31 -22M378 381l15 -11M331 443l26 -18M552 725l24 -17M396 1141l32 -23M208 935l31 -22M387 427l30 -21M409 584l23 -16M421 920l20 -14M590 619l17 -12M679 876l31 -22M252 774l33 -23M518 549l35 -25M380 955l23 -16M572 1158l10 -7M492 368l34 -24M415 407l21 -15M178 769l18 -12M618 567l29 -20M632 465l32 -23M404 566l14 -10M348 799l19 -14M501 1016l35 -25M349 767l36 -25M576 810l14 -10M686 625l13 -9M516 722l28 -20M281 713l24 -17M592 588l16 -11M183 570l22 -16M637 1021l13 -9M562 674l21 -15M135 380l32 -22M183 683l13 -9M525 1117l25 -18M637 904l26 -18M181 311l32 -22M656 870l24 -17M617 771l19 -13M473 785l32 -22M571 943l27 -19M346 899l23 -16M575 816l12 -8M423 1030l22 -16M518 388l17 -12M544 848l32 -23M231 485l13 -9M432 687l25 -18M148 751l18 -13M194 860l10 -7M651 815l34 -24M575 444l28 -20M165 889l27 -19M190 1080l24 -17M200 927l14 -10M153 607l11 -8M422 366l33 -23M663 644l21 -15M295 864l11 -8M252 985l35 -25M185 586l12 -8M448 1067l24 -17M393 774l17 -12M602 523l31 -22M520 1143l20 -14M263 886l26 -18M314 925l14 -10M466 833l24 -17M209 377l24 -17M282 597l23 -16M529 931l19 -14M473 549l22 -16M257 580l32 -23M551 863l16 -11M302 532l32 -22M387 673l18 -13M421 1115l32 -23M211 875l14 -10M323 722l15 -11M554 827l23 -16M606 709l23 -16M611 368l35 -25M200 461l14 -10M510 528l30 -21M308 578l29 -21M442 449l35 -25M627 461l12 -9M679 523l23 -16M570 359l21 -15M468 937l34 -24M174 452l12 -8M455 753l30 -21M504 1063l11 -8M469 788l36 -25M312 401l16 -11M242 548l12 -8M626 490l12 -8M569 555l11 -8M571 1055l27 -19M457 880l14 -10M667 733l30 -21M426 594l31 -22M484 692l18 -13M423 1004l27 -19M434 1111l34 -24M526 712l35 -25M596 961l18 -12M557 881l32 -22M154 1056l24 -17M588 1109l10 -7M196 615l33 -23M654 822l23 -16M395 1104l33 -23M171 918l23 -16M517 1009l21 -14M270 709l14 -10M377 616l35 -25M218 622l17 -12M217 1060l21 -15M483 458l21 -15M659 1023l31 -22M376 1102l29 -20M192 581l23 -16M619 582l30 -21M251 987l28 -20M242 831l20 -14M208 1101l27 -19M600 502l20 -14M587 785l21 -14M396 345l15 -11M316 970l22 -15M445 608l34 -24M406 714l19 -14M149 653l16 -12M611 1065l26 -19M489 476l29 -20M576 1140l31 -22M553 552l11 -8M651 756l22 -15M491 963l24 -17M238 938l11 -8M552 965l23 -16M633 637l28 -20M576 419l21 -14M245 922l20 -14M515 817l18 -13M613 862l33 -23M218 1087l34 -24M153 944l15 -10M174 428l25 -18M486 630l34 -24M603 575l15 -11M593 601l27 -19M502 857l21 -15M231 788l17 -12M465 686l28 -19M678 730l23 -16M460 724l10 -7M597 1139l29 -20M251 860l16 -11M674 1114l21 -15M283 393l34 -24M323 512l33 -23M411 372l29 -21M377 1019l31 -22M542 652l28 -20M354 968l30 -21M333 904l25 -18M309 717l16 -11M623 606l27 -19M448 362l15 -11M382 537l15 -10M653 1001l32 -22M598 532l14 -10M315 540l34 -24M574 1108l13 -9M526 459l22 -16M398 342l22 -15M638 987l27 -19M154 498l36 -25M673 1124l18 -12M248 447l15 -11M497 909l16 -11M167 390l27 -19M405 425l13 -9M499 1055l26 -18M219 1002l30 -21M268 750l32 -22M335 657l28 -20M228 952l26 -19M548 342l22 -16M578 713l13 -9M241 1110l24 -17M550 920l23 -16M504 481l11 -8M373 366l15 -10M330 713l17 -12M322 1028l20 -14M315 548l27 -19M382 978l10 -7M683 555l28 -19M451 917l33 -23M184 594l16 -11M486 473l14 -10M513 800l28 -20M398 457l34 -24M425 670l27 -19M336 950l31 -22M471 462l16 -11M652 1104l28 -20M571 410l34 -24M674 454l36 -25M288 583l24 -17M522 849l19 -13M180 338l24 -17M479 582l13 -9M245 387l19 -13M288 372l11 -8M338 953l30 -21M417 718l25 -18M591 1142l33 -23M649 1085l15 -10M553 867l34 -24M423 1009l13 -9M206 1080l24 -17M401 1025l29 -20M197 829l12 -9M564 568l34 -24M471 699l32 -23M176 728l18 -13M144 926l24 -17M171 890l24 -17M602 1023l16 -12M512 493l33 -23M586 770l14 -10M317 974l31 -22M548 1079l27 -19M639 589l16 -12M560 781l35 -24M296 779l21 -15M347 800l27 -19M639 1064l35 -24M264 1018l25 -18M369 714l24 -17M676 391l13 -9M346 703l27 -19M222 900l28 -19M238 807l35 -24M611 658l23 -16M578 1103l26 -18M175 457l26 -18M682 562l19 -13M664 463l16 -11M285 800l26 -18M442 510l27 -19M675 1158l16 -12M502 786l25 -18M187 333l15 -10M448 942l10 -7M311 528l28 -20M260 524l23 -16M555 1059l10 -7M144 593l31 -22M584 918l15 -11M337 640l33 -23M381 816l15 -10M391 857l32 -23M312 698l17 -12M512 366l12 -9M317 715l14 -10M175 443l24 -17M239 816l15 -10M653 701l33 -23M356 638l13 -9M329 578l36 -25M202 610l22 -15M149 920l34 -24M419 589l23 -16M378 411l12 -9M224 778l22 -15M198 427l28 -20M251 320l33 -23M575 469l22 -15M247 672l35 -25M613 335l23 -16M204 474l22 -16M542 920l15 -11M260 669l22 -15M623 940l21 -15M649 763l27 -19M575 926l31 -22M354 440l32 -23M380 979l28 -19M262 720l15 -11M436 367l21 -15M678 882l34 -24M161 868l12 -8M245 1054l16 -11M196 1078l30 -21M312 605l25 -18M233 747l25 -17M521 1042l16 -12M416 532l12 -8M258 487l19 -14M643 798l33 -24M276 569l20 -14M486 962l29 -21M455 341l14 -10M414 358l32 -22M236 472l19 -14M560 676l35 -25M281 368l20 -14M508 655l13 -9M229 906l28 -20M397 1041l32 -23M455 1107l29 -21M304 860l25 -17M574 903l36 -25M399 879l28 -20M610 338l29 -20M599 853l16 -11M560 726l13 -9M557 540l21 -15M449 431l33 -23M649 993l16 -11M685 498l28 -20M456 1127l11 -8M312 517l16 -11M299 685l34 -24M552 806l21 -15M396 622l14 -10M658 1152l19 -13M553 972l31 -21M411 540l17 -12M590 1008l32 -22M483 554l23 -16M385 421l30 -21M282 642l27 -19M678 507l20 -14M238 680l21 -15M225 501l22 -16M208 948l28 -20M512 682l22 -16M327 381l29 -20M464 1127l34 -24M487 468l21 -14M334 1059l31 -21M658 865l32 -22M680 957l33 -23M383 1060l15 -11M374 964l14 -10M567 497l34 -24M480 504l26 -19M620 952l13 -9M437 378l16 -12M409 582l12 -8M628 591l33 -24M181 738l12 -8M626 556l29 -20M195 711l32 -23M410 945l12 -8M235 577l35 -25M262 888l35 -25M487 917l36 -25M482 491l31 -22M512 534l32 -22M168 1092l18 -12M440 610l28 -19M427 614l25 -18M327 325l16 -11M660 1016l34 -24M277 1094l23 -16M266 802l23 -16M633 635l21 -15M643 793l12 -9M670 515l32 -23M340 966l19 -13M557 1029l20 -14M528 364l36 -25M285 652l32 -22M358 371l12 -8M564 967l21 -15M665 1081l28 -20M194 740l27 -19M140 470l26 -18M222 936l14 -10M372 457l31 -22M331 848l21 -15M364 939l20 -14M257 900l16 -11M504 674l12 -8M608 566l10 -7M617 937l23 -16M526 1111l23 -16M493 1052l16 -11M145 823l28 -20M172 863l11 -8M614 788l20 -14M534 431l23 -16M494 481l11 -8M275 1095l34 -24M405 367l22 -16M406 1024l31 -22M374 743l32 -23M596 588l25 -18M380 1013l13 -9M255 525l31 -22M155 649l24 -17M577 1135l21 -14M205 553l24 -17M448 874l36 -25M549 415l11 -8M398 549l30 -21M615 1020l19 -13M549 1034l35 -25M596 393l15 -11M490 766l33 -23M190 430l31 -22M546 983l12 -9M313 748l16 -11M693 546l11 -8M459 524l10 -7M149 422l15 -11M594 357l18 -13M423 607l25 -17M650 401l19 -13M361 415l34 -24M343 659l17 -12M243 994l33 -23M349 1122l30 -21M293 443l33 -23M378 811l23 -16M138 899l31 -22M223 749l34 -24M254 448l26 -19M395 512l22 -15M250 594l28 -19M582 713l33 -23M438 708l28 -20M239 919l30 -21M645 1032l12 -8M168 982l31 -22M313 522l31 -22M489 368l16 -11M419 393l34 -24M399 457l13 -9M388 1002l27 -19M287 696l12 -8M160 599l12 -8M326 930l34 -24M635 741l28 -19M451 746l13 -9M671 374l34 -24M206 703l31 -22M603 784l27 -19M314 503l23 -16M148 977l13 -9M619 783l17 -12M263 567l12 -8M543 833l27 -19M186 588l27 -19M516 398l25 -17M324 1160l29 -20M160 492l20 -14M419 783l23 -16M262 405l30 -21M374 381l18 -13M245 1109l11 -8M510 604l27 -19M146 829l34 -24M454 849l32 -22M371 890l32 -22M368 460l32 -22M537 518l30 -21M245 772l36 -25M509 454l11 -8M691 572l17 -12M208 1089l31 -22M228 323l15 -10M397 661l23 -16M388 540l26 -19M331 786l33 -23M298 391l18 -13M254 614l35 -25M378 806l29 -20M333 384l22 -16M456 407l11 -7M519 847l34 -24M560 603l35 -25M531 958l23 -16M209 618l26 -18M675 608l23 -16M325 605l11 -8M628 345l27 -19M565 577l18 -13M476 1168l33 -23M689 992l10 -7M643 407l31 -22M425 1134l32 -23M256 759l12 -8M443 327l10 -7M269 843l26 -19M388 423l33 -23M340 1039l16 -11M360 877l12 -8M647 521l15 -11M428 980l21 -14M409 787l26 -18M561 944l24 -17M237 737l20 -14M190 867l26 -18M623 560l16 -11M419 682l28 -19M667 513l22 -16M527 694l19 -13M252 597l25 -18M483 665l14 -10M653 1101l11 -8M516 641l36 -25M665 876l18 -13M511 1104l15 -10M575 1113l26 -18M179 1065l30 -21M416 1127l26 -18M255 475l18 -13M480 794l11 -8M315 787l29 -21M496 440l28 -19M223 819l35 -25M485 724l36 -25M612 340l17 -12M410 761l34 -24M407 609l17 -12M249 568l25 -18M673 576l32 -23M569 1047l14 -10M566 842l34 -24M605 1162l30 -21M440 787l20 -14M473 1000l29 -21M543 975l24 -17M492 1026l11 -8M273 984l28 -20M323 673l35 -25M295 1019l20 -14M444 676l34 -24M622 801l28 -20M287 354l28 -20M602 1084l21 -15M425 432l18 -12M412 321l29 -20M512 646l19 -14M384 554l22 -15M369 926l14 -10M340 999l11 -8M554 1090l33 -23M525 739l12 -8M467 1045l29 -20M410 825l16 -11M197 928l17 -12M549 572l25 -17M457 717l26 -18M237 492l36 -25M571 1057l24 -17M647 371l19 -14M403 914l25 -18M356 869l17 -12M525 658l10 -7M358 537l14 -10M166 479l24 -17M604 710l19 -14M147 1110l36 -25M266 673l33 -23M342 637l24 -17M536 721l13 -9M255 406l14 -10M579 589l10 -7M583 699l16 -12M610 877l20 -14M653 472l16 -11M447 592l11 -8M252 961l28 -20M437 604l31 -22M270 888l29 -21M330 1125l31 -22M358 1116l25 -18M271 888l13 -9M659 630l33 -23M640 1023l19 -13M543 432l17 -12M670 1029l36 -25M383 647l32 -23M387 768l34 -24M489 542l24 -17M485 668l29 -21M678 547l22 -15M566 891l19 -13M583 1160l30 -21M407 1139l31 -22M447 779l32 -23M664 946l18 -13M330 523l18 -13M480 822l16 -11M289 1013l17 -12M399 708l31 -22M384 382l31 -22M386 1078l28 -20M523 824l18 -13M361 632l30 -21M261 610l19 -14M347 1046l12 -9M488 1068l12 -8M350 736l32 -23M224 338l15 -11M528 1061l12 -8M385 833l32 -22M410 481l28 -20M575 667l16 -11M664 1041l31 -22M298 754l32 -23M633 801l13 -9M670 981l35 -25M395 656l27 -19M631 493l22 -15M440 1135l15 -11M323 1160l33 -23M311 408l22 -15M323 1045l33 -23M547 756l12 -9M206 463l34 -24M165 692l28 -20M475 841l32 -22M249 779l22 -16M415 1095l20 -14M421 603l26 -19M409 966l34 -24M359 994l20 -14M215 385l20 -14M399 428l34 -24M479 666l22 -16M407 799l10 -7M240 388l26 -18M241 356l33 -23M490 736l32 -22M173 719l19 -14M392 604l27 -19M187 544l20 -14M169 467l21 -15M305 464l29 -20M171 555l15 -10M225 989l15 -11M135 529l34 -24M205 608l17 -12M143 1076l34 -24M652 740l19 -13M439 759l11 -8M192 557l25 -17M273 1080l11 -7M557 573l23 -16M606 791l35 -24M386 619l13 -9M499 486l26 -18M507 413l34 -24M153 520l29 -20M192 425l26 -18M471 980l15 -11M362 890l35 -25M250 923l14 -10M574 466l12 -8M177 837l24 -17M249 567l10 -7M613 1105l34 -24M200 1060l34 -24M174 614l35 -24M226 870l33 -23M402 525l14 -10M690 366l17 -12M147 810l16 -11M246 886l21 -15M182 480l31 -22M342 764l27 -19M535 367l23 -16M242 966l11 -8M623 399l31 -22M525 1053l32 -23M207 565l19 -14M237 1057l22 -15M349 664l26 -18M306 1046l16 -11M293 1020l34 -24M163 894l17 -12M376 775l28 -19M155 774l14 -10M560 1086l12 -8M310 824l18 -13M505 706l22 -15M574 536l13 -9M614 820l24 -17M176 861l22 -16M275 326l33 -23M677 935l10 -7M336 774l21 -14M271 752l30 -21M455 1140l23 -16M544 407l14 -10M550 851l32 -22M618 650l31 -22M316 727l31 -22M304 338l13 -9M562 1109l16 -11M332 1098l29 -20M460 590l10 -7M344 848l29 -20M475 344l35 -25M614 979l33 -23M582 455l29 -20M494 416l15 -11M500 965l30 -21M284 1103l35 -24M188 1091l28 -20M476 431l13 -9M537 576l25 -18M384 1062l24 -17M330 781l11 -8M589 579l31 -22M495 706l34 -24M196 670l19 -13M365 773l30 -21M191 795l25 -18M236 1106l27 -19M344 1064l27 -19M448 1064l16 -11M348 403l22 -16M200 983l10 -7M684 1044l24 -17M260 502l20 -14M408 1054l24 -17M375 919l14 -10M449 879l23 -16M572 765l31 -22M663 943l33 -23M551 1120l20 -14M460 1113l35 -24M163 1095l24 -17M576 641l29 -21M587 651l12 -8M427 617l29 -20M392 1110l16 -11M619 738l18 -13M632 336l14 -10M523 768l36 -25M173 481l31 -22M519 405l25 -17M276 888l35 -25M307 464l11 -7M482 575l31 -22M560 780l12 -9M563 515l13 -9M305 1105l25 -18M605 849l33 -23M419 881l26 -19M318 967l15 -10M227 544l18 -12M560 710l23 -16M557 1055l18 -12M627 924l32 -23M210 696l33 -23M583 675l13 -9M244 454l36 -25M659 855l30 -21M683 1079l24 -17M330 542l12 -8M584 1071l13 -9M645 747l31 -22M208 792l14 -10M285 867l17 -12M423 561l23 -16M574 452l14 -10M463 530l14 -10M667 1139l23 -16M599 836l30 -21M617 488l28 -20M309 484l13 -9M254 652l25 -18M375 840l28 -20M227 562l33 -23M489 854l12 -8M496 971l31 -22M227 631l14 -10M600 337l19 -14M426 339l34 -24M201 733l19 -13M352 600l17 -12M368 769l21 -15M291 439l25 -18M210 744l12 -8M441 1092l19 -13M685 992l29 -21M626 1011l11 -8M256 878l18 -13M472 804l15 -10M327 917l34 -24M584 632l21 -15M177 478l26 -18M630 1050l22 -16M588 459l12 -8M461 515l20 -14M622 691l13 -9M680 544l18 -13M361 804l15 -11M453 809l21 -15M385 1001l33 -23M467 697l30 -21M212 495l27 -19M256 349l22 -16M476 413l27 -19M667 789l33 -23M623 493l23 -16M504 1093l13 -9M484 883l29 -20M187 947l19 -13M204 319l26 -18M561 517l21 -15M544 449l23 -16M453 925l21 -15M523 392l36 -25M207 1094l30 -21M629 357l21 -15M334 522l20 -14M313 599l24 -17M314 543l31 -22M382 900l19 -13M670 558l11 -8M658 1132l19 -13M216 1066l12 -8M138 399l35 -25M260 335l18 -12M309 424l19 -13M380 897l13 -9M280 855l26 -18M143 760l25 -18M564 505l11 -8M221 323l25 -17M512 593l33 -23M668 949l30 -21M509 466l19 -13M178 707l31 -22M525 442l27 -19M491 592l29 -20M343 407l25 -17M163 774l10 -7M689 658l15 -11M433 524l27 -19M345 1053l33 -23M449 506l14 -10M395 964l25 -18M225 1098l22 -15M592 820l29 -20M139 402l24 -17M494 888l22 -16M298 540l29 -20M192 833l16 -11M627 853l34 -24M541 881l22 -16M653 833l36 -25M615 816l24 -17M518 348l22 -16M383 834l34 -24M546 890l12 -8M444 798l30 -21M582 1055l33 -23M595 800l26 -19M601 381l21 -15M482 1091l14 -10M593 783l24 -17M317 769l19 -13M273 1026l23 -16M284 663l31 -22M348 1001l24 -17M252 531l32 -23M641 568l34 -24M662 381l13 -9M246 692l27 -19M340 349l26 -18M320 1120l33 -23M267 467l10 -7M252 874l16 -11M434 562l16 -11M163 998l19 -14M381 1066l28 -19M133 998l35 -25M246 797l29 -20M415 1134l20 -14M441 1074l34 -24M420 863l14 -10M498 738l14 -10M368 995l11 -8M236 908l15 -10M381 868l28 -19M530 825l24 -17M421 649l18 -13M522 1122l30 -21M603 1053l21 -15M661 999l11 -8M275 762l34 -24M667 1118l18 -12M472 344l26 -18M554 474l27 -19M447 351l19 -14M356 1117l22 -15M255 1003l15 -10M408 867l34 -24M564 559l17 -12M210 1071l36 -25M266 497l31 -22M223 1054l21 -15M351 1047l14 -10M444 1015l20 -14M318 637l35 -25M394 690l26 -18M243 1054l16 -11M408 527l15 -10M448 979l29 -21M462 1117l21 -14M376 648l19 -14M468 498l19 -13M420 654l33 -23M317 827l18 -13M289 921l12 -9M322 552l14 -10M569 1027l10 -7M367 452l14 -10M241 452l30 -21M495 948l22 -16M612 486l19 -14M237 339l26 -18M654 547l20 -14M589 673l12 -8M376 791l23 -16M248 423l21 -15M517 559l35 -25M443 734l33 -23M400 1022l11 -8M595 650l19 -13M591 547l32 -22M572 969l15 -11M194 578l34 -24M151 1048l14 -10M659 830l30 -21M504 408l34 -24M526 392l26 -19M475 838l24 -17M406 877l36 -25M200 358l18 -12M464 968l17 -12M659 1157l22 -15M242 766l23 -16M475 1110l31 -22M387 1101l26 -18M643 1117l35 -25M531 870l22 -15M274 758l32 -22M479 469l20 -14M329 350l11 -8M670 980l22 -15M311 500l18 -13M142 863l33 -23M633 780l25 -18M253 1070l11 -8M278 514l21 -15M316 648l36 -25M187 559l17 -12M610 683l26 -18M472 886l28 -20M561 521l29 -20M272 1060l15 -10M555 763l26 -18M312 341l13 -9M533 523l14 -10M544 405l34 -24M567 599l20 -14M409 585l11 -8M320 1063l30 -21M671 400l35 -25M687 850l20 -14M603 432l33 -23M157 872l12 -9M602 740l21 -15M229 785l30 -21M598 1041l32 -23M147 840l29 -20M227 842l14 -10M436 412l25 -18M494 779l18 -13M506 635l22 -16M515 465l24 -17M601 537l21 -15M645 768l24 -17M541 961l35 -25M645 967l14 -10M216 857l29 -20M285 696l23 -16M199 1038l31 -22M293 742l19 -13M473 420l11 -8M644 524l34 -24M288 540l24 -17M564 685l17 -12M150 953l33 -23M231 900l15 -10M555 392l24 -17M372 839l26 -18M568 1103l19 -13M407 335l20 -14M626 855l15 -11M186 802l16 -11M274 837l23 -16M401 784l31 -22M270 804l27 -19M417 910l19 -13M632 1096l33 -23M639 1072l29 -20M312 852l20 -14M411 778l33 -23M217 1112l26 -18M509 833l12 -8M618 1012l19 -13M610 958l20 -14M258 1084l22 -16M606 363l27 -19M347 497l29 -21M511 752l18 -12M395 589l22 -15M272 1081l28 -20M594 1054l14 -10M630 886l27 -19M169 428l16 -11M595 706l19 -13M243 530l32 -23M151 803l10 -7M541 1125l21 -15M154 622l28 -20M364 923l36 -25M610 426l22 -15M238 356l20 -14M170 500l25 -17M490 971l33 -23M222 708l22 -15M307 765l28 -20M412 1047l24 -17M485 385l14 -10M231 1109l25 -18M474 1108l18 -13M498 952l34 -24M236 980l15 -11M307 862l15 -11M406 814l16 -11M588 1048l14 -10M459 1058l16 -11M267 605l28 -19M413 837l29 -20M641 450l11 -8M205 622l36 -25M535 939l14 -10M545 419l31 -22M682 373l17 -12M236 616l26 -18M282 1086l31 -21M457 1007l21 -15M620 469l34 -24M478 581l27 -19M448 1087l26 -18M148 660l21 -15M212 803l15 -11M343 914l10 -7M576 1135l29 -21M519 1027l20 -14M510 1071l17 -12M530 680l35 -24M627 984l33 -23M482 848l26 -18M592 798l23 -16M414 1046l15 -11M394 392l19 -13M498 377l15 -10M632 645l27 -19M279 1002l24 -17M169 896l32 -22M538 1148l21 -15M651 626l20 -14M591 921l24 -17M262 659l18 -12M509 940l18 -12M445 517l18 -13M154 645l26 -18M237 616l25 -18M492 1101l28 -19M592 895l19 -13M273 340l12 -9M396 950l23 -16M620 876l14 -10M668 1094l27 -19M590 631l32 -23M650 432l33 -23M422 860l30 -21M464 731l30 -21M565 855l12 -8M374 846l33 -23M148 473l16 -11M369 848l33 -23M656 486l20 -14M391 945l19 -14M316 617l27 -19M664 1180l15 -11M359 503l16 -11M689 846l14 -10M628 772l36 -25M223 441l19 -13M311 815l12 -9M348 725l28 -20M586 832l31 -22M555 1125l18 -13M212 843l33 -23M519 598l24 -17M465 512l22 -16M550 1088l26 -18M551 767l30 -21M487 929l19 -13M415 1020l23 -16M426 992l21 -15M220 993l22 -15M224 809l25 -18M328 627l27 -19M154 505l30 -21M313 476l11 -8M327 498l23 -16M264 460l28 -20M145 439l19 -13M495 751l22 -16M264 417l18 -13M143 880l27 -19M398 577l18 -13M439 439l12 -8M241 973l21 -15M579 397l16 -11M624 345l29 -21M518 603l23 -16M424 930l19 -14M679 1085l26 -18M583 1112l18 -13M645 1013l30 -21M688 718l13 -9M435 444l19 -13M262 894l26 -18M662 565l12 -8M231 988l25 -17M661 571l30 -21M187 882l30 -21M441 344l31 -22M299 683l25 -18M677 441l23 -16M278 865l35 -24M131 1071l35 -25M570 786l36 -25M310 936l16 -12M581 688l34 -24M471 944l14 -10M234 850l18 -13M545 1154l27 -19M284 567l30 -21M303 497l17 -12M614 470l14 -10M207 801l34 -24M214 888l13 -9M255 997l27 -19M668 377l26 -18M382 731l29 -21M300 705l34 -24M689 1104l13 -9M461 763l26 -18M555 829l13 -9M340 390l18 -13M176 613l27 -19M421 828l12 -9M460 1060l24 -17M279 748l31 -22M269 1027l28 -20M160 662l26 -18M677 709l36 -25M241 799l34 -24M398 348l27 -19M192 658l10 -7M428 737l34 -24M593 597l20 -14M594 635l22 -15M615 1157l23 -16M382 871l16 -11M415 987l18 -13M523 346l32 -23M611 949l31 -22M429 955l21 -15M486 839l11 -8M379 751l21 -15M647 1003l23 -16M412 576l11 -8M307 856l14 -10M663 428l15 -10M402 943l30 -21M328 679l32 -23M286 347l23 -16M380 449l12 -8M307 378l18 -12M504 356l34 -24M201 945l14 -10M140 584l30 -21M398 585l14 -10M581 1153l22 -16M178 359l19 -13M361 795l33 -23M623 531l32 -23M227 540l17 -12M461 945l14 -10M210 489l17 -12M670 859l23 -16M274 358l17 -12M590 672l26 -18M188 921l36 -25M577 572l12 -8M218 734l12 -9M592 422l12 -9M564 797l34 -24M159 525l32 -23M557 987l12 -8M530 560l35 -25M245 1034l32 -22M617 381l10 -7M389 656l34 -24M567 901l27 -19M279 1123l20 -14M488 414l16 -11M310 471l11 -7M647 386l27 -19M212 481l16 -11M510 720l33 -23M389 865l35 -24M323 385l19 -13M338 778l17 -12M472 844l28 -20M491 1101l33 -23M652 673l22 -16M652 464l29 -21M651 1173l17 -12M620 1061l19 -14M552 1017l32 -22M194 446l13 -9M346 440l34 -24M581 479l27 -19M518 944l26 -18M200 374l20 -14M619 602l21 -15M549 952l20 -14M621 817l20 -14M559 1105l21 -15M381 1092l28 -20M480 881l11 -8M188 502l21 -15M258 315l18 -12M259 520l20 -14M254 950l17 -12M152 613l18 -13M421 602l28 -20M155 1083l24 -17M322 670l23 -16M313 646l24 -17M480 858l25 -18M300 865l13 -9M575 584l22 -15M286 1079l32 -22M620 355l28 -20M188 397l13 -9M383 997l12 -8M331 513l27 -19M673 779l21 -15M629 1127l31 -22M415 1099l23 -16M252 1102l17 -12M329 1071l14 -10M669 603l26 -18M177 991l24 -17M446 366l19 -13M495 947l25 -18M443 361l25 -18M538 808l23 -16M356 767l21 -14M453 485l28 -20M235 894l21 -15M337 1093l11 -8M340 349l11 -8M323 863l14 -10M149 910l13 -9M239 610l26 -18M220 1042l22 -15M246 438l10 -7M316 462l14 -10M687 375l12 -9M209 838l24 -17M149 718l19 -13M232 1058l28 -20M633 522l20 -14M642 555l14 -10M592 588l21 -15M285 612l17 -12M211 1051l13 -9M371 516l16 -11M496 1073l28 -20M397 752l31 -22M686 1150l13 -9M382 433l22 -16M657 404l15 -11M287 963l31 -22M632 1090l24 -17M344 501l33 -23M307 936l28 -20M359 389l30 -21M647 872l31 -22M317 766l35 -25M667 815l35 -24M173 580l14 -10M199 484l19 -13M460 659l17 -12M410 943l16 -11M606 743l10 -7M314 933l21 -15M219 414l30 -21M478 485l10 -7M603 1098l25 -18M460 625l10 -7M658 426l16 -11M198 755l10 -7M252 783l18 -13M279 583l31 -22M435 730l13 -9M629 592l15 -10M656 645l30 -21M531 1054l18 -13M474 726l12 -8M627 683l11 -7M225 813l17 -12M625 909l35 -24M184 941l36 -25M428 1021l11 -8M505 530l17 -12M640 380l22 -16M544 497l24 -17M381 350l31 -22M313 839l19 -14M381 1028l16 -11M455 1120l13 -9M218 406l22 -15M451 422l25 -17M296 595l17 -12M186 822l21 -15M486 309l20 -14M226 504l10 -7M229 701l14 -10M392 1014l28 -20M347 916l18 -13M614 472l26 -18M341 711l17 -12M657 711l12 -8M326 589l30 -21M419 949l29 -20M513 543l26 -18M584 650l19 -14M444 674l35 -25M148 810l31 -22M392 827l12 -9M191 561l19 -13M378 759l35 -25M416 641l32 -22M615 995l23 -16M359 920l14 -10M150 802l23 -16M265 1097l34 -24M418 839l29 -21M429 1094l19 -13M231 700l28 -20M432 456l10 -7M418 667l16 -11M691 837l11 -8M222 1100l30 -21M555 748l25 -18M389 596l26 -18M624 570l19 -13M556 1152l22 -15M162 430l26 -18M572 886l31 -22M579 857l25 -17M226 1083l14 -10M627 722l22 -16M395 980l22 -15M563 1021l29 -20M603 580l17 -12M630 528l35 -25M523 1062l14 -10M469 805l10 -7M222 728l22 -15M156 847l32 -23M482 1013l29 -21M279 574l20 -14M290 510l32 -23M527 672l34 -24M196 743l15 -11M506 476l18 -13M257 531l17 -12M332 898l17 -12M585 1108l20 -14M512 920l31 -22M465 482l28 -20M210 818l23 -16M210 436l34 -24M412 808l19 -13M469 401l25 -18M425 696l21 -15M653 766l21 -15M359 609l26 -18M361 1048l10 -7M299 620l10 -7M416 959l31 -22M318 523l25 -18M317 415l21 -15M644 750l12 -8M564 498l32 -22M459 915l11 -8M374 1031l25 -18M604 428l13 -9M504 371l34 -24M547 663l25 -18M263 328l35 -25M303 436l24 -17M419 545l19 -13M153 1047l24 -17M627 729l33 -23M282 681l15 -10M511 599l14 -10M160 518l12 -8M295 321l36 -25M515 946l16 -12M533 744l10 -7M526 635l19 -13M193 906l24 -17M380 489l25 -18M657 469l12 -9M687 955l11 -8M556 1036l17 -12M172 341l11 -8M489 1076l27 -19M542 1166l29 -21M439 1120l17 -12M504 855l30 -21M317 1009l34 -24M462 986l28 -20M231 1042l14 -10M584 1006l11 -8M575 985l22 -16M241 999l26 -18M273 497l30 -21M289 391l32 -22M389 453l32 -23M666 487l15 -11M592 1090l28 -20M303 584l28 -20M608 531l23 -16M181 605l11 -8M408 802l25 -18M629 898l20 -14" stroke="#b4d22e" stroke-opacity="0.3"/></g><path d="M891.2 1189.5L911.4 1173.2L889.1 1186.6zM850.5 1185.1L876.9 1163.8L847.9 1181.3zM804.3 1177.8L817.1 1166.3L802.0 1174.5zM756.7 1172.3L771.8 1159.5L754.6 1169.3zM746.4 1170.5L771.9 1149.9L743.9 1166.9zM733.0 1168.9L762.7 1145.0L730.1 1164.8zM654.7 1193.7L669.8 1180.6L652.3 1190.4zM652.5 1190.0L675.5 1171.7L650.6 1187.3zM652.5 1160.5L681.1 1137.9L650.1 1157.1zM559.3 1167.9L586.5 1146.8L557.5 1165.2zM549.8 1166.4L578.0 1144.4L547.8 1163.5zM540.3 1159.2L561.0 1142.2L538.0 1156.0zM540.0 1148.7L566.6 1127.7L537.8 1145.7zM483.3 1169.7L512.7 1145.9L480.4 1165.5zM482.6 1143.9L503.9 1126.3L480.1 1140.4zM433.5 1168.0L459.2 1147.8L431.5 1165.2zM380.4 1159.2L398.2 1144.2L378.0 1155.8zM380.6 1148.0L396.3 1133.8L377.6 1143.7zM379.9 1137.2L401.6 1119.8L377.9 1134.4zM330.1 1140.5L352.2 1122.7L328.0 1137.4zM283.2 1147.8L312.2 1124.2L280.2 1143.6zM271.6 1124.7L300.0 1102.2L269.2 1121.3zM259.9 1124.7L274.4 1112.0L257.6 1121.4zM241.6 1110.2L271.6 1085.9L238.6 1105.8zM217.5 1115.9L242.3 1095.9L215.0 1112.5zM206.6 1110.5L222.4 1096.8L204.2 1107.0zM152.0 1112.6L172.4 1095.9L149.8 1109.5z" fill="#fff" filter="url(#bf)"/><rect x="140" y="270" width="830" height="930" fill="url(#gt)"/><rect x="900" y="340" width="62" height="860" fill="url(#gr)"/></g><path d="M338.0 196.7L1088.2 290.7L1088.2 1060.7L775.0 1281.0M338.0 196.7L338.0 178.2M501.0 217.1L501.0 198.6M665.0 237.7L665.0 219.2M828.5 258.2L828.5 239.7M991.0 278.5L991.0 260.0M1088.2 401.5L1108.5 404.0M1088.2 512.3L1108.5 514.8M1088.2 624.0L1108.5 626.5M1088.2 735.2L1108.5 737.7M1088.2 846.0L1108.5 848.5M1088.2 958.2L1108.5 960.7M775.0 1281.0L775.0 1301.0M916.4 1181.0L916.4 1201.0M1058.5 1079.6L1058.5 1099.6" fill="none" stroke="#383838" stroke-width="2.5" stroke-linejoin="miter"/><rect x="1375.2" y="126.3" width="113.2" height="1261.2" fill="url(#cb)" stroke="#3f3f3f" stroke-width="2.6"/><path d="M1375.2 127.5V1386.5" stroke="#a9abb5" stroke-width="2.8"/><path d="M1475.0 1307.7L1488.5 1307.7M1475.0 1185.2L1488.5 1185.2M1475.0 1062.8L1488.5 1062.8M1475.0 940.3L1488.5 940.3M1475.0 817.9L1488.5 817.9M1475.0 695.4L1488.5 695.4M1475.0 572.9L1488.5 572.9M1475.0 450.5L1488.5 450.5M1475.0 328.0L1488.5 328.0M1475.0 205.6L1488.5 205.6" stroke="#333" stroke-width="3.2"/><g font-family="'Liberation Serif','Times New Roman',serif" fill="#2b2b2b"><text x="338.0" y="136.7" font-size="75">0</text><text x="501.0" y="157.1" font-size="75">200</text><text x="663.0" y="177.7" font-size="75">400</text><text x="828.5" y="198.2" font-size="75">600</text><text x="991.0" y="218.5" font-size="75">800</text><text x="1134.5" y="432.0" font-size="75">200</text><text x="1134.5" y="542.8" font-size="75">400</text><text x="1134.5" y="654.5" font-size="75">600</text><text x="1134.5" y="765.7" font-size="75">800</text><text x="1134.5" y="876.5" font-size="75">1000</text><text x="1134.5" y="988.7" font-size="75">1200</text><text x="776.0" y="1395.8" font-size="75">0.51225</text><text x="917.4" y="1295.8" font-size="75">0.5122</text><text x="1059.5" y="1194.4" font-size="75">0.51215</text><text x="750" y="97" font-size="75"><tspan font-style="italic">j</tspan>/pixel</text><text transform="translate(1336.5,776) rotate(-90)" font-size="75"><tspan font-style="italic">i</tspan>/pixel</text><text x="1331.0" y="75.3" font-size="74"><tspan font-style="italic">e</tspan><tspan font-style="italic" font-size="56" dx="2" dy="36">z</tspan><tspan dy="-36" dx="1">/mm</tspan></text><text x="1118.5" y="1375.7" font-size="74"><tspan font-style="italic">e</tspan><tspan font-style="italic" font-size="56" dx="2" dy="36">z</tspan><tspan dy="-36" dx="1">/mm</tspan></text><text x="1515.0" y="1333.2" font-size="67">0.51215</text><text x="1515.0" y="1210.7" font-size="67">0.51216</text><text x="1515.0" y="1088.3" font-size="67">0.51217</text><text x="1515.0" y="965.8" font-size="67">0.51218</text><text x="1515.0" y="843.4" font-size="67">0.51219</text><text x="1515.0" y="720.9" font-size="67">0.5122</text><text x="1515.0" y="598.4" font-size="67">0.51221</text><text x="1515.0" y="476.0" font-size="67">0.51222</text><text x="1515.0" y="353.5" font-size="67">0.51223</text><text x="1515.0" y="231.1" font-size="67">0.51224</text></g></g></svg></body></html>
